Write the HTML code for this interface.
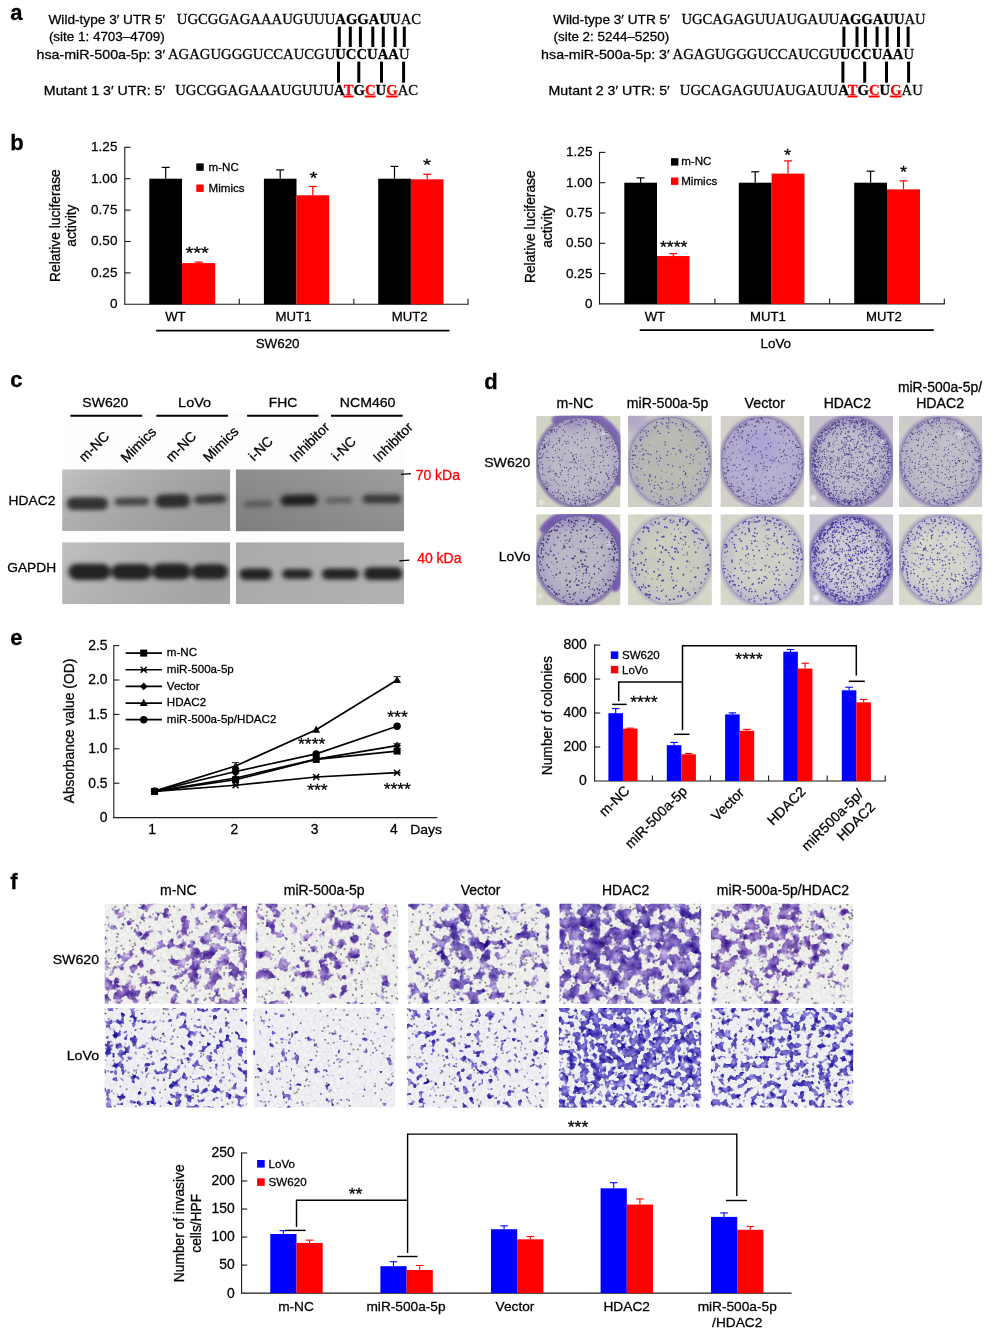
<!DOCTYPE html>
<html lang="en"><head><meta charset="utf-8"><title>Figure</title>
<style>
html,body{margin:0;padding:0;background:#fff}
svg{display:block;font-family:'Liberation Sans',Arial,Helvetica,sans-serif;fill:#000}
text{stroke-width:.28px}
text{white-space:pre}
</style></head><body>
<svg width="995" height="1338" viewBox="0 0 995 1338">
<defs>
<filter id="bb" x="-20%" y="-60%" width="140%" height="220%"><feGaussianBlur stdDeviation="2.5 2"/></filter>
<filter id="gr" x="0" y="0" width="100%" height="100%"><feTurbulence type="fractalNoise" baseFrequency="0.35" numOctaves="2" seed="3"/><feColorMatrix type="matrix" values="0 0 0 0 0.5  0 0 0 0 0.5  0 0 0 0 0.5  0.9 0 0 0 -0.33"/></filter>
<linearGradient id="gL1" x1="0" y1="0" x2="1" y2="0.5"><stop offset="0" stop-color="#c2c2c2"/><stop offset="0.35" stop-color="#b0b0b0"/><stop offset="0.7" stop-color="#a3a3a3"/><stop offset="1" stop-color="#9b9b9b"/></linearGradient>
<linearGradient id="gR1" x1="0" y1="1" x2="1" y2="0"><stop offset="0" stop-color="#7e7e7e"/><stop offset="0.5" stop-color="#8e8e8e"/><stop offset="1" stop-color="#9e9e9e"/></linearGradient>
<linearGradient id="gL2" x1="0" y1="0" x2="1" y2="0.3"><stop offset="0" stop-color="#c0c0c0"/><stop offset="0.5" stop-color="#b0b0b0"/><stop offset="1" stop-color="#a5a5a5"/></linearGradient>
<linearGradient id="gR2" x1="0" y1="0" x2="1" y2="0"><stop offset="0" stop-color="#ababab"/><stop offset="1" stop-color="#b2b2b2"/></linearGradient>
<clipPath id="cL1"><rect x="62.1" y="469.3" width="168.1" height="61.6"/></clipPath>
<clipPath id="cR1"><rect x="235.8" y="469.3" width="168.3" height="62.1"/></clipPath>
<clipPath id="cL2"><rect x="62.1" y="542.2" width="168.1" height="61.8"/></clipPath>
<clipPath id="cR2"><rect x="235.8" y="542.2" width="168.3" height="61.8"/></clipPath>
<filter id="pb" x="-5%" y="-5%" width="110%" height="110%"><feGaussianBlur stdDeviation="0.55"/></filter>
<filter id="pb2" x="-15%" y="-15%" width="130%" height="130%"><feGaussianBlur stdDeviation="1.0"/></filter>
<filter id="gr2" x="0" y="0" width="100%" height="100%"><feTurbulence type="fractalNoise" baseFrequency="0.06" numOctaves="3" seed="8"/><feColorMatrix type="matrix" values="0 0 0 0 0.35  0 0 0 0 0.3  0 0 0 0 0.5  1.4 0 0 0 -0.45"/></filter>
<filter id="pb3" x="-30%" y="-30%" width="160%" height="160%"><feGaussianBlur stdDeviation="5"/></filter>
<clipPath id="p00"><rect x="536.2" y="415.8" width="84.3" height="91.2"/></clipPath>
<radialGradient id="gp00"><stop offset="0" stop-color="#bcbbc7"/><stop offset="0.62" stop-color="#bcbbc7"/><stop offset="1" stop-color="#b0a9c4"/></radialGradient>
<clipPath id="p01"><rect x="627.9" y="415.8" width="84" height="91.2"/></clipPath>
<radialGradient id="gp01"><stop offset="0" stop-color="#babbb2"/><stop offset="0.62" stop-color="#babbb2"/><stop offset="1" stop-color="#b4b3ba"/></radialGradient>
<clipPath id="p02"><rect x="720.4" y="415.8" width="83.9" height="91.2"/></clipPath>
<radialGradient id="gp02"><stop offset="0" stop-color="#b6b0d2"/><stop offset="0.62" stop-color="#b6b0d2"/><stop offset="1" stop-color="#b0a8cc"/></radialGradient>
<clipPath id="p03"><rect x="809.3" y="415.8" width="83.8" height="91.2"/></clipPath>
<radialGradient id="gp03"><stop offset="0" stop-color="#c0becc"/><stop offset="0.62" stop-color="#c0becc"/><stop offset="1" stop-color="#a8a0c5"/></radialGradient>
<clipPath id="p04"><rect x="899" y="415.8" width="83.3" height="91.2"/></clipPath>
<radialGradient id="gp04"><stop offset="0" stop-color="#c0c0c8"/><stop offset="0.62" stop-color="#c0c0c8"/><stop offset="1" stop-color="#b2adc6"/></radialGradient>
<clipPath id="p10"><rect x="536.2" y="514.3" width="84.3" height="90.9"/></clipPath>
<radialGradient id="gp10"><stop offset="0" stop-color="#babac6"/><stop offset="0.62" stop-color="#babac6"/><stop offset="1" stop-color="#aaa2c3"/></radialGradient>
<clipPath id="p11"><rect x="627.9" y="514.3" width="84" height="90.9"/></clipPath>
<radialGradient id="gp11"><stop offset="0" stop-color="#cccfbe"/><stop offset="0.62" stop-color="#cccfbe"/><stop offset="1" stop-color="#c2c2c6"/></radialGradient>
<clipPath id="p12"><rect x="720.4" y="514.3" width="83.9" height="90.9"/></clipPath>
<radialGradient id="gp12"><stop offset="0" stop-color="#d0d3c8"/><stop offset="0.62" stop-color="#d0d3c8"/><stop offset="1" stop-color="#c0bfcc"/></radialGradient>
<clipPath id="p13"><rect x="809.3" y="514.3" width="83.8" height="90.9"/></clipPath>
<radialGradient id="gp13"><stop offset="0" stop-color="#cfcfd4"/><stop offset="0.62" stop-color="#cfcfd4"/><stop offset="1" stop-color="#aea7cc"/></radialGradient>
<clipPath id="p14"><rect x="899" y="514.3" width="83.3" height="90.9"/></clipPath>
<radialGradient id="gp14"><stop offset="0" stop-color="#d6d8ce"/><stop offset="0.62" stop-color="#d6d8ce"/><stop offset="1" stop-color="#c4c2d0"/></radialGradient>
<filter id="c1a" x="0" y="0" width="100%" height="100%" color-interpolation-filters="sRGB"><feTurbulence type="fractalNoise" baseFrequency="0.1" numOctaves="3" seed="5" result="n"/><feGaussianBlur in="SourceGraphic" stdDeviation="4" result="d"/><feComposite in="n" in2="d" operator="arithmetic" k1="0" k2="1" k3="0.34" k4="-0.2" result="s"/><feComponentTransfer in="s" result="m"><feFuncA type="linear" slope="9" intercept="-4.45"/></feComponentTransfer><feColorMatrix in="n" type="matrix" values="0 0.85 0 0 0.09  0 0.95 0 0 -0.08  0 0.5 0 0 0.48  0 0 0 0 1" result="col"/><feComposite in="col" in2="m" operator="in"/></filter>
<filter id="c1b" x="0" y="0" width="100%" height="100%" color-interpolation-filters="sRGB"><feTurbulence type="fractalNoise" baseFrequency="0.1" numOctaves="3" seed="5" result="n"/><feGaussianBlur in="SourceGraphic" stdDeviation="4" result="d"/><feComposite in="n" in2="d" operator="arithmetic" k1="0" k2="1" k3="0.34" k4="-0.2" result="s"/><feComponentTransfer in="s" result="m"><feFuncA type="linear" slope="9" intercept="-4.45"/></feComponentTransfer><feColorMatrix in="n" type="matrix" values="0 0.85 0 0 0.03  0 0.9 0 0 -0.09  0 0.5 0 0 0.47  0 0 0 0 1" result="col"/><feComposite in="col" in2="m" operator="in"/></filter>
<filter id="c2" x="0" y="0" width="100%" height="100%" color-interpolation-filters="sRGB"><feTurbulence type="fractalNoise" baseFrequency="0.16" numOctaves="2" seed="9" result="n"/><feGaussianBlur in="SourceGraphic" stdDeviation="4" result="d"/><feComposite in="n" in2="d" operator="arithmetic" k1="0" k2="1" k3="0.31" k4="-0.225" result="s"/><feComponentTransfer in="s" result="m"><feFuncA type="linear" slope="11" intercept="-5.45"/></feComponentTransfer><feColorMatrix in="n" type="matrix" values="0 0.9 0 0 -0.08  0 0.9 0 0 -0.12  0 0.5 0 0 0.5  0 0 0 0 1" result="col"/><feComposite in="col" in2="m" operator="in"/></filter>
<filter id="mb" x="-5%" y="-5%" width="110%" height="110%"><feGaussianBlur stdDeviation="0.7"/></filter>
<filter id="gr3" x="0" y="0" width="100%" height="100%"><feTurbulence type="fractalNoise" baseFrequency="0.3" numOctaves="2" seed="4"/><feColorMatrix type="matrix" values="0 0 0 0 0.45  0 0 0 0 0.45  0 0 0 0 0.52  1.6 0 0 0 -0.55"/></filter>
<clipPath id="m00"><rect x="104.7" y="903.7" width="142.3" height="100.1"/></clipPath>
<clipPath id="m01"><rect x="255.8" y="903.7" width="142.3" height="100.1"/></clipPath>
<clipPath id="m02"><rect x="407.8" y="903.7" width="141.7" height="100.1"/></clipPath>
<clipPath id="m03"><rect x="559.5" y="903.7" width="141.7" height="100.1"/></clipPath>
<clipPath id="m04"><rect x="710.9" y="903.7" width="142.3" height="100.1"/></clipPath>
<clipPath id="m10"><rect x="104.7" y="1008" width="142.4" height="99.5"/></clipPath>
<clipPath id="m11"><rect x="253.4" y="1008" width="141.9" height="99.5"/></clipPath>
<clipPath id="m12"><rect x="406.9" y="1008" width="142" height="99.5"/></clipPath>
<clipPath id="m13"><rect x="558.9" y="1008" width="142.3" height="99.5"/></clipPath>
<clipPath id="m14"><rect x="710.9" y="1008" width="142.3" height="99.5"/></clipPath>
</defs>
<text x="10.3" y="20" font-size="22" font-weight="bold" stroke="#000">a</text>
<text x="10.3" y="149.5" font-size="22" font-weight="bold" stroke="#000">b</text>
<text x="10.3" y="387" font-size="22" font-weight="bold" stroke="#000">c</text>
<text x="484.3" y="388.5" font-size="22" font-weight="bold" stroke="#000">d</text>
<text x="10.3" y="645" font-size="22" font-weight="bold" stroke="#000">e</text>
<text x="10.3" y="889" font-size="22" font-weight="bold" stroke="#000">f</text>
<text x="106.8" y="24" font-size="13.6" text-anchor="middle" stroke="#000" textLength="116.63" lengthAdjust="spacingAndGlyphs">Wild-type 3′ UTR 5′</text>
<text x="106.75" y="40.8" font-size="13.6" text-anchor="middle" stroke="#000" textLength="115.73" lengthAdjust="spacingAndGlyphs">(site 1: 4703–4709)</text>
<text x="100.8" y="59" font-size="13.6" text-anchor="middle" stroke="#000" textLength="128.63" lengthAdjust="spacingAndGlyphs">hsa-miR-500a-5p: 3′</text>
<text x="104.5" y="94.8" font-size="13.6" text-anchor="middle" stroke="#000" textLength="121.23" lengthAdjust="spacingAndGlyphs">Mutant 1 3′ UTR: 5′</text>
<text x="176.8" y="24" font-size="15" stroke="#000" stroke-width=".15" font-family="'Liberation Serif','Times New Roman',serif" textLength="244.3" lengthAdjust="spacingAndGlyphs">UGCGGAGAAAUGUUU<tspan font-weight="bold">AGGAUU</tspan>AC</text>
<text x="168" y="59" font-size="15" stroke="#000" stroke-width=".15" font-family="'Liberation Serif','Times New Roman',serif" textLength="241.5" lengthAdjust="spacingAndGlyphs">AGAGUGGGUCCAUCGU<tspan font-weight="bold">UCCUAA</tspan>U</text>
<text x="175.2" y="94.8" font-size="15" stroke="#000" stroke-width=".15" font-family="'Liberation Serif','Times New Roman',serif" textLength="243" lengthAdjust="spacingAndGlyphs">UGCGGAGAAAUGUUU<tspan font-weight="bold">A<tspan fill="#ff0000" stroke="#ff0000" text-decoration="underline">T</tspan>G<tspan fill="#ff0000" stroke="#ff0000" text-decoration="underline">C</tspan>U<tspan fill="#ff0000" stroke="#ff0000" text-decoration="underline">G</tspan></tspan>AC</text>
<line x1="339.3" y1="26.6" x2="339.3" y2="47" stroke="#000" stroke-width="3"/>
<line x1="350.3" y1="26.6" x2="350.3" y2="47" stroke="#000" stroke-width="3"/>
<line x1="360.4" y1="26.6" x2="360.4" y2="47" stroke="#000" stroke-width="3"/>
<line x1="372.8" y1="26.6" x2="372.8" y2="47" stroke="#000" stroke-width="3"/>
<line x1="383.3" y1="26.6" x2="383.3" y2="47" stroke="#000" stroke-width="3"/>
<line x1="395.2" y1="26.6" x2="395.2" y2="47" stroke="#000" stroke-width="3"/>
<line x1="404.3" y1="26.6" x2="404.3" y2="47" stroke="#000" stroke-width="3"/>
<line x1="338.5" y1="61.6" x2="338.5" y2="82.7" stroke="#000" stroke-width="3"/>
<line x1="358.8" y1="61.6" x2="358.8" y2="82.7" stroke="#000" stroke-width="3"/>
<line x1="381.5" y1="61.6" x2="381.5" y2="82.7" stroke="#000" stroke-width="3"/>
<line x1="403.6" y1="61.6" x2="403.6" y2="82.7" stroke="#000" stroke-width="3"/>
<text x="611.4" y="24" font-size="13.6" text-anchor="middle" stroke="#000" textLength="116.63" lengthAdjust="spacingAndGlyphs">Wild-type 3′ UTR 5′</text>
<text x="611.35" y="40.8" font-size="13.6" text-anchor="middle" stroke="#000" textLength="115.73" lengthAdjust="spacingAndGlyphs">(site 2: 5244–5250)</text>
<text x="605.4" y="59" font-size="13.6" text-anchor="middle" stroke="#000" textLength="128.63" lengthAdjust="spacingAndGlyphs">hsa-miR-500a-5p: 3′</text>
<text x="609.1" y="94.8" font-size="13.6" text-anchor="middle" stroke="#000" textLength="121.23" lengthAdjust="spacingAndGlyphs">Mutant 2 3′ UTR: 5′</text>
<text x="681.4" y="24" font-size="15" stroke="#000" stroke-width=".15" font-family="'Liberation Serif','Times New Roman',serif" textLength="244.3" lengthAdjust="spacingAndGlyphs">UGCAGAGUUAUGAUU<tspan font-weight="bold">AGGAUU</tspan>AU</text>
<text x="672.6" y="59" font-size="15" stroke="#000" stroke-width=".15" font-family="'Liberation Serif','Times New Roman',serif" textLength="241.5" lengthAdjust="spacingAndGlyphs">AGAGUGGGUCCAUCGU<tspan font-weight="bold">UCCUAA</tspan>U</text>
<text x="679.8" y="94.8" font-size="15" stroke="#000" stroke-width=".15" font-family="'Liberation Serif','Times New Roman',serif" textLength="243" lengthAdjust="spacingAndGlyphs">UGCAGAGUUAUGAUU<tspan font-weight="bold">A<tspan fill="#ff0000" stroke="#ff0000" text-decoration="underline">T</tspan>G<tspan fill="#ff0000" stroke="#ff0000" text-decoration="underline">C</tspan>U<tspan fill="#ff0000" stroke="#ff0000" text-decoration="underline">G</tspan></tspan>AU</text>
<line x1="843.9" y1="26.6" x2="843.9" y2="47" stroke="#000" stroke-width="3"/>
<line x1="857" y1="26.6" x2="857" y2="47" stroke="#000" stroke-width="3"/>
<line x1="865.4" y1="26.6" x2="865.4" y2="47" stroke="#000" stroke-width="3"/>
<line x1="877.1" y1="26.6" x2="877.1" y2="47" stroke="#000" stroke-width="3"/>
<line x1="887.2" y1="26.6" x2="887.2" y2="47" stroke="#000" stroke-width="3"/>
<line x1="898.5" y1="26.6" x2="898.5" y2="47" stroke="#000" stroke-width="3"/>
<line x1="908.1" y1="26.6" x2="908.1" y2="47" stroke="#000" stroke-width="3"/>
<line x1="842.9" y1="61.6" x2="842.9" y2="82.7" stroke="#000" stroke-width="3"/>
<line x1="864.7" y1="61.6" x2="864.7" y2="82.7" stroke="#000" stroke-width="3"/>
<line x1="886.5" y1="61.6" x2="886.5" y2="82.7" stroke="#000" stroke-width="3"/>
<line x1="908.6" y1="61.6" x2="908.6" y2="82.7" stroke="#000" stroke-width="3"/>
<line x1="124.8" y1="146.8" x2="124.8" y2="304.8" stroke="#1a1a1a" stroke-width="1.1"/>
<line x1="124.3" y1="304.3" x2="468.5" y2="304.3" stroke="#1a1a1a" stroke-width="1.1"/>
<text x="117.4" y="308.2" font-size="13.5" text-anchor="end" stroke="#000">0</text>
<line x1="124.8" y1="272.9" x2="130.6" y2="272.9" stroke="#1a1a1a" stroke-width="1.1"/>
<text x="117.4" y="276.8" font-size="13.5" text-anchor="end" stroke="#000">0.25</text>
<line x1="124.8" y1="241.5" x2="130.6" y2="241.5" stroke="#1a1a1a" stroke-width="1.1"/>
<text x="117.4" y="245.4" font-size="13.5" text-anchor="end" stroke="#000">0.50</text>
<line x1="124.8" y1="210.1" x2="130.6" y2="210.1" stroke="#1a1a1a" stroke-width="1.1"/>
<text x="117.4" y="214" font-size="13.5" text-anchor="end" stroke="#000">0.75</text>
<line x1="124.8" y1="178.7" x2="130.6" y2="178.7" stroke="#1a1a1a" stroke-width="1.1"/>
<text x="117.4" y="182.6" font-size="13.5" text-anchor="end" stroke="#000">1.00</text>
<line x1="124.8" y1="147.3" x2="130.6" y2="147.3" stroke="#1a1a1a" stroke-width="1.1"/>
<text x="117.4" y="151.2" font-size="13.5" text-anchor="end" stroke="#000">1.25</text>
<line x1="239.3" y1="298.8" x2="239.3" y2="304.3" stroke="#1a1a1a" stroke-width="1.1"/>
<line x1="353.8" y1="298.8" x2="353.8" y2="304.3" stroke="#1a1a1a" stroke-width="1.1"/>
<line x1="468" y1="298.8" x2="468" y2="304.3" stroke="#1a1a1a" stroke-width="1.1"/>
<rect x="149.3" y="178.7" width="32.7" height="125.6" fill="#000"/>
<rect x="182" y="263.1" width="33.2" height="41.2" fill="#ff0000"/>
<rect x="263.9" y="178.7" width="32.6" height="125.6" fill="#000"/>
<rect x="296.5" y="195.28" width="32.7" height="109.02" fill="#ff0000"/>
<rect x="378.2" y="178.7" width="32.7" height="125.6" fill="#000"/>
<rect x="410.9" y="179.33" width="32.6" height="124.97" fill="#ff0000"/>
<line x1="165.7" y1="167.4" x2="165.7" y2="178.7" stroke="#000" stroke-width="1.2"/>
<line x1="161.7" y1="167.4" x2="169.7" y2="167.4" stroke="#000" stroke-width="1.2"/>
<line x1="198.6" y1="262.1" x2="198.6" y2="263.1" stroke="#ff0000" stroke-width="1.2"/>
<line x1="194.6" y1="262.1" x2="202.6" y2="262.1" stroke="#ff0000" stroke-width="1.2"/>
<line x1="280.2" y1="169.91" x2="280.2" y2="178.7" stroke="#000" stroke-width="1.2"/>
<line x1="276.2" y1="169.91" x2="284.2" y2="169.91" stroke="#000" stroke-width="1.2"/>
<line x1="312.8" y1="186.49" x2="312.8" y2="195.28" stroke="#ff0000" stroke-width="1.2"/>
<line x1="308.8" y1="186.49" x2="316.8" y2="186.49" stroke="#ff0000" stroke-width="1.2"/>
<line x1="394.5" y1="166.39" x2="394.5" y2="178.7" stroke="#000" stroke-width="1.2"/>
<line x1="390.5" y1="166.39" x2="398.5" y2="166.39" stroke="#000" stroke-width="1.2"/>
<line x1="427.2" y1="174.3" x2="427.2" y2="179.33" stroke="#ff0000" stroke-width="1.2"/>
<line x1="423.2" y1="174.3" x2="431.2" y2="174.3" stroke="#ff0000" stroke-width="1.2"/>
<rect x="196.3" y="163.4" width="7.4" height="7.4" fill="#000"/>
<text x="208.5" y="170.6" font-size="11.6" stroke="#000">m-NC</text>
<rect x="196.3" y="184.5" width="7.4" height="7.4" fill="#ff0000"/>
<text x="208.5" y="191.7" font-size="11.6" stroke="#000">Mimics</text>
<text x="197.2" y="258.6" font-size="16.5" text-anchor="middle" stroke="#000" textLength="23.4" lengthAdjust="spacingAndGlyphs">***</text>
<text x="313.4" y="183.5" font-size="16.5" text-anchor="middle" stroke="#000" textLength="8" lengthAdjust="spacingAndGlyphs">*</text>
<text x="427" y="170.8" font-size="16.5" text-anchor="middle" stroke="#000" textLength="8" lengthAdjust="spacingAndGlyphs">*</text>
<text x="175.4" y="321.3" font-size="13.2" text-anchor="middle" stroke="#000">WT</text>
<text x="293.5" y="321.3" font-size="13.2" text-anchor="middle" stroke="#000">MUT1</text>
<text x="409.6" y="321.3" font-size="13.2" text-anchor="middle" stroke="#000">MUT2</text>
<line x1="156.1" y1="330.7" x2="449.5" y2="330.7" stroke="#000" stroke-width="1.8"/>
<text x="277.6" y="348" font-size="13.4" text-anchor="middle" stroke="#000">SW620</text>
<text x="60" y="225.6" font-size="13.8" text-anchor="middle" stroke="#000" transform="rotate(-90 60 225.6)">Relative luciferase</text>
<text x="76.1" y="225.6" font-size="13.8" text-anchor="middle" stroke="#000" transform="rotate(-90 76.1 225.6)">activity</text>
<line x1="599.5" y1="151.9" x2="599.5" y2="304.4" stroke="#1a1a1a" stroke-width="1.1"/>
<line x1="599" y1="303.9" x2="944.8" y2="303.9" stroke="#1a1a1a" stroke-width="1.1"/>
<text x="592.4" y="307.8" font-size="13.5" text-anchor="end" stroke="#000">0</text>
<line x1="599.5" y1="273.6" x2="605.3" y2="273.6" stroke="#1a1a1a" stroke-width="1.1"/>
<text x="592.4" y="277.5" font-size="13.5" text-anchor="end" stroke="#000">0.25</text>
<line x1="599.5" y1="243.3" x2="605.3" y2="243.3" stroke="#1a1a1a" stroke-width="1.1"/>
<text x="592.4" y="247.2" font-size="13.5" text-anchor="end" stroke="#000">0.50</text>
<line x1="599.5" y1="213" x2="605.3" y2="213" stroke="#1a1a1a" stroke-width="1.1"/>
<text x="592.4" y="216.9" font-size="13.5" text-anchor="end" stroke="#000">0.75</text>
<line x1="599.5" y1="182.7" x2="605.3" y2="182.7" stroke="#1a1a1a" stroke-width="1.1"/>
<text x="592.4" y="186.6" font-size="13.5" text-anchor="end" stroke="#000">1.00</text>
<line x1="599.5" y1="152.4" x2="605.3" y2="152.4" stroke="#1a1a1a" stroke-width="1.1"/>
<text x="592.4" y="156.3" font-size="13.5" text-anchor="end" stroke="#000">1.25</text>
<line x1="714.9" y1="298.4" x2="714.9" y2="303.9" stroke="#1a1a1a" stroke-width="1.1"/>
<line x1="829.6" y1="298.4" x2="829.6" y2="303.9" stroke="#1a1a1a" stroke-width="1.1"/>
<line x1="944.3" y1="298.4" x2="944.3" y2="303.9" stroke="#1a1a1a" stroke-width="1.1"/>
<rect x="624.3" y="182.7" width="32.7" height="121.2" fill="#000"/>
<rect x="657" y="256.03" width="32.5" height="47.87" fill="#ff0000"/>
<rect x="738.8" y="182.7" width="32.8" height="121.2" fill="#000"/>
<rect x="771.6" y="173.61" width="32.9" height="130.29" fill="#ff0000"/>
<rect x="854.2" y="182.7" width="32.8" height="121.2" fill="#000"/>
<rect x="887" y="189.37" width="33" height="114.53" fill="#ff0000"/>
<line x1="640.6" y1="177.85" x2="640.6" y2="182.7" stroke="#000" stroke-width="1.2"/>
<line x1="636.6" y1="177.85" x2="644.6" y2="177.85" stroke="#000" stroke-width="1.2"/>
<line x1="673.2" y1="253.6" x2="673.2" y2="256.03" stroke="#ff0000" stroke-width="1.2"/>
<line x1="669.2" y1="253.6" x2="677.2" y2="253.6" stroke="#ff0000" stroke-width="1.2"/>
<line x1="755.2" y1="171.79" x2="755.2" y2="182.7" stroke="#000" stroke-width="1.2"/>
<line x1="751.2" y1="171.79" x2="759.2" y2="171.79" stroke="#000" stroke-width="1.2"/>
<line x1="788" y1="160.88" x2="788" y2="173.61" stroke="#ff0000" stroke-width="1.2"/>
<line x1="784" y1="160.88" x2="792" y2="160.88" stroke="#ff0000" stroke-width="1.2"/>
<line x1="870.6" y1="171.19" x2="870.6" y2="182.7" stroke="#000" stroke-width="1.2"/>
<line x1="866.6" y1="171.19" x2="874.6" y2="171.19" stroke="#000" stroke-width="1.2"/>
<line x1="903.5" y1="180.88" x2="903.5" y2="189.37" stroke="#ff0000" stroke-width="1.2"/>
<line x1="899.5" y1="180.88" x2="907.5" y2="180.88" stroke="#ff0000" stroke-width="1.2"/>
<rect x="671" y="158.2" width="7.4" height="7.4" fill="#000"/>
<text x="681.2" y="165.4" font-size="11.6" stroke="#000">m-NC</text>
<rect x="671" y="177.5" width="7.4" height="7.4" fill="#ff0000"/>
<text x="681.2" y="184.7" font-size="11.6" stroke="#000">Mimics</text>
<text x="673.7" y="253.1" font-size="16.5" text-anchor="middle" stroke="#000" textLength="27.3" lengthAdjust="spacingAndGlyphs">****</text>
<text x="787.6" y="160.7" font-size="16.5" text-anchor="middle" stroke="#000" textLength="7.05" lengthAdjust="spacingAndGlyphs">*</text>
<text x="903.5" y="178.2" font-size="16.5" text-anchor="middle" stroke="#000" textLength="7.05" lengthAdjust="spacingAndGlyphs">*</text>
<text x="654.9" y="320.9" font-size="13.2" text-anchor="middle" stroke="#000">WT</text>
<text x="768" y="320.9" font-size="13.2" text-anchor="middle" stroke="#000">MUT1</text>
<text x="883.9" y="320.9" font-size="13.2" text-anchor="middle" stroke="#000">MUT2</text>
<line x1="639.7" y1="330.2" x2="933.8" y2="330.2" stroke="#000" stroke-width="1.8"/>
<text x="775.8" y="347.8" font-size="13.4" text-anchor="middle" stroke="#000">LoVo</text>
<text x="535" y="226.7" font-size="13.8" text-anchor="middle" stroke="#000" transform="rotate(-90 535 226.7)">Relative luciferase</text>
<text x="552.1" y="226.7" font-size="13.8" text-anchor="middle" stroke="#000" transform="rotate(-90 552.1 226.7)">activity</text>
<rect x="62" y="412" width="343" height="196" fill="#fdfdfd"/>
<g clip-path="url(#cL1)"><rect x="62.1" y="469.3" width="168.1" height="61.6" fill="url(#gL1)"/>
<g filter="url(#bb)">
<rect x="66.7" y="497.2" width="41.4" height="12.9" rx="6.4" fill="#2c2c2c" opacity="0.95"/>
<rect x="114.4" y="497.4" width="34.9" height="8.4" rx="4.2" fill="#363636" opacity="0.85" transform="rotate(-1 131.8 501.6)"/>
<rect x="155.2" y="494.3" width="35.1" height="13.4" rx="6.7" fill="#282828" opacity="0.95" transform="rotate(-1 172.8 501)"/>
<rect x="194.1" y="494.7" width="32.5" height="9" rx="4.5" fill="#323232" opacity="0.9" transform="rotate(-2.5 210.3 499.2)"/>
</g>
<rect x="62.1" y="469.3" width="168.1" height="61.6" filter="url(#gr)" opacity="0.06"/>
</g>
<g clip-path="url(#cR1)"><rect x="235.8" y="469.3" width="168.3" height="62.1" fill="url(#gR1)"/>
<g filter="url(#bb)">
<rect x="244" y="500.6" width="28.1" height="6.7" rx="3.4" fill="#3c3c3c" opacity="0.6" transform="rotate(-2 258.1 504)"/>
<rect x="278.9" y="492.9" width="40.4" height="14.6" rx="7.3" fill="#444" opacity="0.3" transform="rotate(-1.5 299.1 500.2)"/>
<rect x="280.9" y="494.9" width="36.4" height="10.6" rx="5.3" fill="#1c1c1c" opacity="0.95" transform="rotate(-1.5 299.1 500.2)"/>
<rect x="325.4" y="497.3" width="27.1" height="6.2" rx="3.1" fill="#3c3c3c" opacity="0.55" transform="rotate(-1 338.9 500.4)"/>
<rect x="362.6" y="494.5" width="38.9" height="9" rx="4.5" fill="#2a2a2a" opacity="0.85"/>
</g>
<rect x="235.8" y="469.3" width="168.3" height="62.1" filter="url(#gr)" opacity="0.06"/>
</g>
<g clip-path="url(#cL2)"><rect x="62.1" y="542.2" width="168.1" height="61.8" fill="url(#gL2)"/>
<g filter="url(#bb)">
<rect x="69.4" y="566.8" width="157.7" height="10.1" rx="5" fill="#555" opacity="0.6"/>
<rect x="68.4" y="563.7" width="42" height="16.2" rx="8.1" fill="#202020" opacity="1"/>
<rect x="111.7" y="564" width="39.7" height="15.7" rx="7.8" fill="#222" opacity="1"/>
<rect x="152.2" y="563.4" width="38.1" height="16.2" rx="8.1" fill="#202020" opacity="1"/>
<rect x="191.6" y="564.2" width="36.4" height="15.1" rx="7.6" fill="#222" opacity="1"/>
</g>
<rect x="62.1" y="542.2" width="168.1" height="61.8" filter="url(#gr)" opacity="0.06"/>
</g>
<g clip-path="url(#cR2)"><rect x="235.8" y="542.2" width="168.3" height="61.8" fill="url(#gR2)"/>
<g filter="url(#bb)">
<rect x="239.4" y="568.4" width="32.7" height="11.5" rx="5.8" fill="#222" opacity="1"/>
<rect x="282.2" y="569.1" width="30.1" height="9.9" rx="4.9" fill="#282828" opacity="1"/>
<rect x="321.9" y="568.5" width="36.9" height="11" rx="5.5" fill="#242424" opacity="1"/>
<rect x="363.8" y="567.2" width="38.8" height="12.9" rx="6.4" fill="#202020" opacity="1"/>
</g>
<rect x="235.8" y="542.2" width="168.3" height="61.8" filter="url(#gr)" opacity="0.06"/>
</g>
<text x="105.4" y="407.3" font-size="13.6" text-anchor="middle" stroke="#000" textLength="46.03" lengthAdjust="spacingAndGlyphs">SW620</text>
<line x1="70.4" y1="415.7" x2="142.2" y2="415.7" stroke="#000" stroke-width="1.9"/>
<text x="194.6" y="407.3" font-size="13.6" text-anchor="middle" stroke="#000" textLength="33.03" lengthAdjust="spacingAndGlyphs">LoVo</text>
<line x1="156.3" y1="415.7" x2="227.9" y2="415.7" stroke="#000" stroke-width="1.9"/>
<text x="283.1" y="407.3" font-size="13.6" text-anchor="middle" stroke="#000" textLength="28.53" lengthAdjust="spacingAndGlyphs">FHC</text>
<line x1="247.1" y1="415.7" x2="318.4" y2="415.7" stroke="#000" stroke-width="1.9"/>
<text x="367.6" y="407.3" font-size="13.6" text-anchor="middle" stroke="#000" textLength="55.63" lengthAdjust="spacingAndGlyphs">NCM460</text>
<line x1="331" y1="415.7" x2="402.6" y2="415.7" stroke="#000" stroke-width="1.9"/>
<text x="84.5" y="462.8" font-size="13.9" stroke="#000" transform="rotate(-45 84.5 462.8)">m-NC</text>
<text x="126.5" y="463.3" font-size="13.9" stroke="#000" transform="rotate(-45 126.5 463.3)">Mimics</text>
<text x="171.5" y="462.8" font-size="13.9" stroke="#000" transform="rotate(-45 171.5 462.8)">m-NC</text>
<text x="208.8" y="462.8" font-size="13.9" stroke="#000" transform="rotate(-45 208.8 462.8)">Mimics</text>
<text x="254.3" y="461.8" font-size="13.9" stroke="#000" transform="rotate(-45 254.3 461.8)">i-NC</text>
<text x="295.5" y="463" font-size="13.9" stroke="#000" transform="rotate(-45 295.5 463)">Inhibitor</text>
<text x="337.3" y="461.8" font-size="13.9" stroke="#000" transform="rotate(-45 337.3 461.8)">i-NC</text>
<text x="378.8" y="463" font-size="13.9" stroke="#000" transform="rotate(-45 378.8 463)">Inhibitor</text>
<text x="31.95" y="504.7" font-size="13.4" text-anchor="middle" stroke="#000" textLength="46.91" lengthAdjust="spacingAndGlyphs">HDAC2</text>
<text x="31.65" y="571.8" font-size="13.4" text-anchor="middle" stroke="#000" textLength="48.91" lengthAdjust="spacingAndGlyphs">GAPDH</text>
<path d="M400.9 474.4L411 473.7" stroke="#000" stroke-width="1.3" fill="none"/>
<path d="M399.3 560.8L409.4 560.1" stroke="#000" stroke-width="1.3" fill="none"/>
<text x="437.85" y="479.6" font-size="13.8" text-anchor="middle" fill="#ff0000" stroke="#ff0000" textLength="44.36" lengthAdjust="spacingAndGlyphs">70 kDa</text>
<text x="439.35" y="563.4" font-size="13.8" text-anchor="middle" fill="#ff0000" stroke="#ff0000" textLength="44.36" lengthAdjust="spacingAndGlyphs">40 kDa</text>
<text x="575" y="408.3" font-size="13.9" text-anchor="middle" stroke="#000" textLength="36.87" lengthAdjust="spacingAndGlyphs">m-NC</text>
<text x="667.55" y="408.3" font-size="13.9" text-anchor="middle" stroke="#000" textLength="81.37" lengthAdjust="spacingAndGlyphs">miR-500a-5p</text>
<text x="764.75" y="408.2" font-size="13.9" text-anchor="middle" stroke="#000" textLength="40.37" lengthAdjust="spacingAndGlyphs">Vector</text>
<text x="847.3" y="408.2" font-size="13.9" text-anchor="middle" stroke="#000" textLength="47.27" lengthAdjust="spacingAndGlyphs">HDAC2</text>
<text x="940" y="392.1" font-size="13.9" text-anchor="middle" stroke="#000" textLength="84.07" lengthAdjust="spacingAndGlyphs">miR-500a-5p/</text>
<text x="940.1" y="408.2" font-size="13.9" text-anchor="middle" stroke="#000" textLength="47.87" lengthAdjust="spacingAndGlyphs">HDAC2</text>
<text x="507.3" y="467.4" font-size="13.7" text-anchor="middle" stroke="#000" textLength="46.24" lengthAdjust="spacingAndGlyphs">SW620</text>
<text x="514.55" y="561.3" font-size="13.7" text-anchor="middle" stroke="#000" textLength="31.74" lengthAdjust="spacingAndGlyphs">LoVo</text>
<g clip-path="url(#p00)"><rect x="536.2" y="415.8" width="84.3" height="91.2" fill="#d4d6c4"/>
<path d="M555.8 419.9L560.1 417.6L564.5 415.7L569.1 414.4L573.8 413.7L578.5 413.4L583.3 413.7L587.9 414.5L592.5 415.9L596.9 417.7L601.2 420L605.1 422.9L608.8 426.1L612.1 429.7L615.1 433.7L617.6 438L619.7 442.6L621.4 447.3L622.5 452.3L623.2 457.3L623.4 462.4L623.1 467.5L622.3 472.5L621 477.4L619.2 482.1" fill="none" stroke="#7a62b4" stroke-width="8" stroke-linecap="round" opacity="0.95" filter="url(#pb2)"/>
<ellipse cx="578.4" cy="461.7" rx="42.4" ry="45.7" fill="none" stroke="#6e5ca4" stroke-width="2.6" opacity="0.85" filter="url(#pb2)"/>
<ellipse cx="578.4" cy="461.7" rx="41" ry="44.3" fill="url(#gp00)"/>
<circle cx="574.1" cy="417.6" r="11" fill="#8b76bd" opacity="0.5" filter="url(#pb3)"/>
<ellipse cx="578.4" cy="461.7" rx="41" ry="44.3" fill="none" stroke="#4c3c84" stroke-width="1.1" stroke-opacity="0.5" filter="url(#pb)"/>
<g filter="url(#pb)" fill="none" stroke="#382d6c" stroke-linecap="round"><path d="M564.9 441.5h0M606 473.1h0M585.4 465.3h0M601.1 493h0M601.1 471.9h0M561.9 470.4h0M548.2 445.3h0M614.9 456.8h0M542.3 464.4h0M605.6 432.5h0M548.8 444.2h0M558.9 426.7h0M567.8 441.4h0M598.7 481.6h0M578.9 499.9h0M542.5 474.5h0M571.3 504.1h0M601.9 497.1h0M560.3 472.6h0M548.2 485.6h0M607.7 476h0M593.8 467.4h0M568.1 474.5h0M600.9 494.5h0M538.3 466.1h0M593.8 456.4h0M593.6 464.5h0M575.6 503.7h0M585.3 421.2h0M542.1 457.3h0M577.1 469h0M585.6 503.6h0M546.2 488.3h0M603.6 489.7h0M547.1 451.1h0M588 503.3h0M559.6 449.5h0M600.5 446.6h0M600.9 445h0M540.4 453.4h0M580.6 467.1h0M545.1 447.4h0M549 434.6h0M550.7 470.9h0M564.4 467.4h0M562.2 460h0M575.2 442.7h0M608.3 465.4h0M574.8 500.2h0M602.9 489.7h0M600.8 431h0M605.1 492.2h0M588.8 479.8h0M587.9 482.8h0M552.7 429.9h0M594.7 480.4h0M596.4 493.8h0M570.6 502.8h0M590.4 481.4h0M539.6 449h0M553.7 495.3h0M553.4 461.2h0M575.8 492.6h0M603.7 465.6h0M547.6 489.3h0M542.3 455.9h0M582.6 497.5h0M562.9 435.6h0M609.3 478.6h0M556.3 431.8h0M577.7 445h0M606.6 473.9h0M563.4 429.8h0M549.9 468.3h0M590 477.3h0M595.2 423.2h0M607.6 438.1h0M572 462.1h0M566 481.6h0M610.2 437.2h0M574.5 487.6h0M612.2 446.1h0M586 482.6h0M570.9 420.1h0M597.7 451.3h0M556.1 425.9h0M593.3 490h0M604.2 495.2h0M588.6 468.8h0M552.7 457.5h0M578.5 482h0M606.1 430.9h0M606.7 486.7h0M542.6 448.7h0M608.9 477.3h0M582 502.3h0M614.9 467.1h0M616.4 470.6h0M592.9 499.5h0M603.1 452.8h0M603.4 457.3h0M615.3 443.4h0M566.1 485.1h0M613.3 473.7h0M557.1 498.4h0M614.6 447.1h0M555.6 473.3h0M560.3 498.4h0M618.3 458.4h0M558 424.8h0M544.5 445.4h0M578.9 499.2h0M560.6 498.5h0M568.7 498.6h0M613.1 444.1h0M590.2 477.5h0M566.5 443.7h0M576.5 457.5h0M584.7 438.3h0M564.3 480.8h0M593.2 450.3h0M605.5 435.2h0M550.6 432.8h0M572.4 492h0M595.8 424.5h0M585.7 500.6h0M599.2 483.6h0M553.4 471h0M572.2 462.1h0M594.5 498.5h0M566.4 467.7h0M539 458.6h0M605.7 452.3h0M593.9 422.9h0M615.3 479.1h0M606.3 438.7h0M559.9 460.9h0M586.2 423.6h0M600.6 439.8h0M577.3 432.7h0M566.5 492.5h0M572.8 456.4h0M574.7 466.8h0M560.3 464.8h0M601.5 495.8h0M546.1 486.3h0M574.3 459.9h0M543.5 454.2h0M581.9 440.8h0M589.5 433.1h0M584 501.9h0M607.3 432.4h0M603.8 435.9h0M562.3 444.8h0M616.4 468.7h0M602.8 494.4h0M549.1 441.5h0M588.2 498.9h0M604.4 482.1h0M563.5 496.1h0M602.3 455.8h0M615 469.5h0M567.9 423.2h0M593.5 426.7h0M559.7 438.4h0M588 498.5h0M558 492.5h0M576.4 419.8h0M605.3 491.2h0M592 500h0M598.5 494.1h0M590.6 482.8h0M568.3 470.9h0M556.5 443.7h0M559.5 440.5h0M551.5 431h0M559.3 442.1h0M603.2 457.4h0M552.4 447.5h0M606 451.6h0M581 425.7h0M616 476.8h0M556.1 475.2h0M575.1 498h0M568.3 499.6h0M600.3 429.3h0M556.2 473.7h0M579.5 501.4h0M591 478.7h0M565.3 424.3h0M591.7 478.9h0M584.4 470h0M596.9 438.3h0M571.1 452.7h0M607 447.5h0M595.6 426.7h0M563.2 498.2h0M585 429.1h0M614.7 474.4h0M576.5 500.4h0M542.7 444.3h0M611.8 441.4h0M544.2 484.3h0M597.1 490.3h0M609.4 446.5h0M613.6 476.7h0M564.8 432h0M568.9 499h0M564.5 500.5h0M615.2 462.1h0M587.3 496.3h0M558.4 476.8h0M594 461.4h0M581.4 447.9h0M547.3 457.6h0M614 471h0M570.2 468.3h0M547.4 488.3h0M585.5 504.8h0M562.6 495.7h0M585.3 475.1h0M594.4 453.2h0M603.9 495h0M550.8 430.7h0M552.1 432.2h0M547.1 482.6h0M596.7 496.5h0M613.9 456.5h0M587.6 501.8h0M584.8 484h0M611.3 486.7h0M572.7 420.8h0M592.4 421.3h0M585.8 447.5h0M593.2 451.8h0M608.3 479.3h0M573.6 495.4h0M544 440.4h0M571.7 421.9h0M602.3 445.3h0M575.8 462.7h0M604.7 429.7h0M578.6 424.9h0M540.5 458.3h0M607.4 455.2h0M576.1 454.5h0M573.6 459h0M569.8 462.1h0M560.6 474.6h0M547.5 489.7h0M580.5 500.1h0M600.5 472.8h0M554.4 429.8h0M546.7 457.3h0M591.8 457.6h0M557.9 456.9h0M574.5 476.5h0M596.8 474h0M579.7 491.5h0M553.5 445.7h0M544.1 447.9h0M583.5 422.3h0M613.2 477.1h0M560.3 493.7h0M580.7 419.4h0M548.2 471.7h0M589.8 489.9h0M564.9 453.6h0M574.5 459.9h0M616.5 461.3h0M556 481.8h0M557.7 484.1h0M587.9 438.3h0M538.8 458.3h0M599.5 495.9h0M589.3 490.6h0M600.7 462.3h0M560.1 426.8h0M545.8 483.6h0M607.4 484.5h0M591.8 422.7h0M570.4 422.7h0M549 472h0M615.5 451.3h0M599.9 455.7h0M591.8 447.2h0M595 496.1h0M544.2 446.7h0M554.1 479.9h0M579.5 501.8h0M571.9 437.2h0M613 449.8h0M552.4 492.3h0M600.3 437.2h0M555.5 450.5h0M571.3 486.8h0M572.4 500h0M558.5 490.6h0M588.3 485.2h0M616.2 472.3h0M573 478.3h0M573.2 455.1h0M570.6 422.6h0M562.8 485.1h0M579.4 495.7h0M602.2 449.2h0" stroke-width="1.3" opacity="0.88"/><path d="M584.4 500h0M547 487.4h0M546.7 442.5h0M568.8 493.5h0M612.2 460.1h0M559 463.7h0M539.5 457.6h0M605.2 440.5h0M595.4 479.6h0M577.2 475.6h0M602.7 426.7h0M613.1 446h0M565.6 448.1h0M557.1 428.9h0M588.3 454.9h0M593.6 495.7h0M595 427.2h0M540.1 454.7h0M542.7 468.2h0M548.4 458h0M543.2 446.2h0M606.2 432.2h0M597.7 453.9h0M568.7 443h0M570.3 421.3h0M586 504.6h0M603.8 459.9h0M607.7 475.2h0M600 493.6h0M611.8 475.4h0M602.8 451h0M558.4 496h0M572.2 480.1h0M583.8 462.3h0M548.7 466.8h0M540.8 463h0M568.7 436.4h0M559.2 457.9h0M571.9 419h0M550.4 430.7h0M544 440.1h0M590 471.5h0M557.1 438.5h0M586.7 432.5h0M576.1 424.5h0M550.2 465.7h0M616.2 456h0M580.6 456.5h0M585.1 490h0M578.5 421.7h0M603 461.5h0M551.4 430.4h0M578.9 424.4h0M570.1 490.3h0M585.5 501.9h0M594 447.3h0M574.3 486.7h0M568.5 450.4h0M538.8 468.9h0M578.8 461.4h0M605.6 450.4h0M609.7 443.1h0M578.1 485.7h0M583.5 494.6h0M574.3 462.8h0M576.8 497.5h0M586.8 488.5h0M588 497.7h0M584.9 500.5h0M571.1 467.9h0M616.8 470.1h0M577.1 463.6h0M555.7 492.5h0M554.5 491.2h0M581 454.7h0M585.9 465.1h0M575.3 504.3h0M601.1 462.3h0M597.2 456h0M591 421.9h0M590 498.2h0M598 466.3h0M566.6 461.8h0M554.9 476.3h0M583.1 504.9h0M543 467.8h0M576 502.2h0M546 437.6h0M570.3 468.4h0M595 491.6h0M569.2 487.8h0M590.5 499.7h0M562.9 456.1h0M539.5 464.2h0M606.2 492.4h0M616.1 475.9h0M548.8 483.5h0M545.5 447.1h0M549.2 439h0M550.3 478.3h0M604.4 469h0M616.9 450.1h0M541.8 461.2h0M582.5 468.8h0M559.6 486.2h0M546.6 488.5h0M553.8 493.6h0M554.9 431.4h0M583.5 500.2h0M557.4 448.6h0M608.3 448.2h0M589.6 498.7h0M599.8 469h0M598.1 430.1h0M568.4 479.8h0M574.4 503.7h0M574.7 502.6h0M577.6 439.5h0M564.8 422.6h0M599.7 425.2h0M572.4 421.8h0M572.8 455.1h0M615 479.1h0M552 429.8h0M577.2 467.9h0M578.5 460.1h0M575.7 461.9h0M568.4 477.1h0M586.4 500.5h0M586.6 424h0M559.3 477.7h0M550.5 490.2h0M559.2 457.5h0M609.8 486.9h0M591.2 460.3h0M589.8 497h0M539.3 461.6h0M544.7 443.5h0M573.8 433.8h0M561.3 422.8h0M557.9 429.4h0M584.3 430.2h0M556.4 433.3h0M585.7 502.1h0M595.8 481.5h0M542.6 469.3h0M554.4 431h0M560.1 438.7h0M615.7 476.8h0M596 427.8h0M583.1 460.1h0M598.8 493.2h0M606.2 437.2h0M606.4 437.9h0M604.1 436.4h0M544.1 446.4h0M546 481.2h0M538.5 465.9h0M557.9 497.1h0M554.2 457.5h0M562 471.1h0M549.7 460.5h0M581.2 460.1h0M547.7 433.7h0M552 442h0M560.4 467h0M590.9 464.9h0M552.1 492.3h0M554.5 473.7h0M574.3 458.9h0M580.4 463.8h0M614.1 466h0M612.9 473.8h0M612.2 483.1h0M613.6 465.2h0M564.7 498.3h0M556.2 430.9h0M584.3 434.2h0M558.8 499h0M563.2 424h0M588.9 435.7h0M605 430h0M562.5 422.5h0M555.9 453.2h0M582.4 504.9h0M610.5 483h0M547.2 443.3h0M540.7 467.7h0M585.8 478.9h0M538.6 465.4h0M613.8 448.3h0M594.7 467.5h0M614 448.4h0M542 444.9h0M595.1 449h0M586.7 422.8h0M600.2 492h0M566.5 502h0M593.6 463h0M574 441.7h0M591.3 491.6h0M598.2 428.8h0M593.1 499.2h0M561.4 480.8h0M578.3 480.3h0M601.5 435h0M546 444.5h0M549 486.1h0M612.1 439.4h0M541.3 457.3h0M543.9 481.5h0M596.7 485.5h0M592.4 422.8h0M546.2 452.3h0M564.9 501.7h0M544.8 444.6h0M542.3 449.6h0M583.9 500h0M597.9 432.7h0M606.4 492.8h0M539.9 462.3h0M584.8 429.4h0M551.8 485.2h0M584.1 435.4h0M599.8 426.8h0M542.9 480.8h0M607.9 450.9h0M600.4 439.3h0M558.4 440.2h0M594.8 424.4h0M559 489.3h0M551 480.1h0M575.5 492.3h0M591.8 472.2h0M609 471.1h0M608.4 437.8h0M548 488.8h0M599.4 466.8h0M544.6 475.2h0M556.5 492.9h0M591.5 476.9h0M574.6 492.7h0M589.5 486.1h0M596.1 477.3h0M594.2 479h0M596.4 449.1h0M578.7 497.1h0M613.8 472.3h0M609.3 441.8h0M569 469.6h0M609.4 483h0M575.6 419.7h0M608.5 473.3h0M568 425.3h0" stroke-width="0.9" opacity="0.7"/></g>
<circle cx="603.6" cy="434" r="2.5" fill="#fff" opacity="0.5" filter="url(#pb2)"/>
<circle cx="541.3" cy="502.4" r="2.5" fill="#fff" opacity="0.6" filter="url(#pb2)"/>
<rect x="536.2" y="415.8" width="84.3" height="91.2" filter="url(#gr2)" opacity="0.16"/>
</g>
<g clip-path="url(#p01)"><rect x="627.9" y="415.8" width="84" height="91.2" fill="#d2d2c6"/>
<ellipse cx="669.9" cy="461.7" rx="42.3" ry="45.7" fill="none" stroke="#8e84b4" stroke-width="2.6" opacity="0.6" filter="url(#pb2)"/>
<ellipse cx="669.9" cy="461.7" rx="40.9" ry="44.3" fill="url(#gp01)"/>
<circle cx="634.6" cy="420.4" r="13" fill="#a597c8" opacity="0.7" filter="url(#pb3)"/>
<ellipse cx="669.9" cy="461.7" rx="40.9" ry="44.3" fill="none" stroke="#6a5c9c" stroke-width="1.1" stroke-opacity="0.5" filter="url(#pb)"/>
<g filter="url(#pb)" fill="none" stroke="#3f3390" stroke-linecap="round"><path d="M697.6 473.4h0M660.3 487.7h0M672.5 498.3h0M696.5 449.4h0M636.8 446.6h0M672.3 422.4h0M660.9 500.3h0M666.4 481.2h0M695.5 485.5h0M683.5 487.7h0M700.8 489h0M644.3 454h0M670.7 496.9h0M658.5 502.8h0M648.3 453.9h0M685.5 487.3h0M658.2 430.9h0M704.4 471.3h0M654.6 488.3h0M690.4 498.9h0M654.4 485.4h0M690.9 454.8h0M667 455.1h0M646 450.5h0M680.4 452.3h0M700.1 483.9h0M650.8 454.4h0M680.1 467.2h0M675.7 423.8h0M665 442.3h0M668.9 422.7h0M686 427.8h0M662.8 418.8h0M668.8 503.7h0M698.8 488.8h0M635.8 448.6h0M672.7 465.9h0M637.1 467.2h0M684.8 491h0M648.9 481h0M668.3 464.6h0M648.9 461.7h0M646.4 433h0M650.1 476.1h0M693.2 459.9h0M672.2 488h0M680.1 450.1h0M661.2 489.3h0M695.2 431.8h0M668.2 501.3h0M665.3 444.7h0M678.8 485.3h0M703.3 442.7h0M649.8 474.7h0M682.7 482.5h0M683.7 426.5h0M668.2 427.9h0M662.9 504.2h0M708.9 464.1h0M706.9 459.1h0M704.4 468.3h0M660.6 458.1h0M693 495.8h0M645.1 430.8h0M648.2 431.2h0M635.5 445.8h0M676.1 502.9h0M672.3 483.9h0M656.7 451.6h0M696.9 435.4h0M666.7 422.9h0M683.9 471.3h0M709.4 456.2h0M707.6 471.6h0M685.2 474.6h0M698.9 431.7h0M644.6 474.9h0M667.4 425.7h0M685.1 495.2h0M659.3 461.1h0M638.5 486.7h0M641.9 488.3h0M655.3 477.1h0M656.7 422.6h0M647 435.7h0M632.4 467.7h0M632.3 455.5h0M690.6 494.2h0M674.1 448.5h0M655 427.3h0M649.9 484.5h0M668 451.4h0M681.5 440.3h0M700.4 471h0M658.1 485.1h0M635.3 455.6h0M640.4 440.6h0M698.8 490.4h0M659.8 433.4h0M697.3 430.9h0M661.8 482.8h0M632.7 458.9h0M681 500.3h0M641.1 468.8h0M679.7 430.1h0M706.5 474.9h0M642.9 449.1h0M698.3 448.3h0M640.7 439.8h0M682 421.9h0M660.7 496.1h0M702 442h0M685.7 473.1h0M655 428.1h0M660 502.6h0M701.5 445.6h0M632.8 451.2h0M706.7 474.7h0M668.6 432.5h0M642.6 459.2h0M641.3 445.2h0M682.6 484.6h0M656.5 458.4h0M643 455.1h0M649.8 476.7h0M679.8 450.5h0M705.5 447.3h0M656.5 425.7h0M666.8 499.3h0M683.4 425.1h0M705.9 446.4h0M651.4 491.5h0M662.7 423.9h0M668.8 419.7h0M705.6 452h0M681.6 499h0M637 485.5h0M634.1 464.4h0M640.3 436.9h0M696.9 479.7h0M686.6 456.8h0M700.1 436h0M707.7 458.8h0M633.7 454.9h0M683.6 423.8h0" stroke-width="1.55" opacity="0.88"/><path d="M690.1 457.4h0M638 470.3h0M703.7 483.1h0M643.1 431.6h0M689.6 499.6h0M684.7 498.3h0M705.4 471.9h0M702.1 438h0M688.9 429.6h0M662.5 499.6h0M658.5 464.8h0M709.1 451.3h0M653.7 426.5h0M651.9 490.9h0M661.7 470.9h0M639.5 459h0M661.6 422.2h0M701.2 487h0M694.3 454.9h0M689.4 463.7h0M696.3 432.1h0M640.1 451.5h0M690.5 490.2h0M680.5 431.8h0M684.5 496.6h0M695.8 433h0M672.2 473.5h0M691.5 492.1h0M699.2 452.9h0M670.9 453.7h0M706.8 445.5h0M630.9 459.3h0M666.2 472.2h0M702.4 442.7h0M659.9 455.7h0M649.6 445.1h0M666.6 426.8h0M681.3 430.2h0M637.9 485.1h0M638 462.9h0M690.2 463.6h0M643.1 436.5h0M642.1 450.9h0M655.6 501.4h0M705.3 468.8h0M653.8 496.6h0M659.4 498h0M680.3 478.6h0M670.3 421h0M648.6 463.8h0M693.6 432.2h0M686.7 477.1h0M656.4 462h0M693.2 456.5h0M699.9 463.9h0M638.9 451.1h0M642.5 437.8h0M679.8 445.5h0M656.9 493.8h0M630.3 459h0M642.3 430.1h0M633.1 455.1h0M668.1 482.2h0M686.9 496.5h0M682.7 435.5h0M642.3 489.3h0M648.4 479.6h0M636.6 466.6h0M677.5 487.4h0M637.8 479.9h0M639.1 483.5h0M642.6 487.6h0M708 454.2h0M633 468.4h0M643.3 459.6h0M706 471.9h0M700.3 482.1h0M657.2 432h0M693.2 462.7h0M676 454.4h0M660.9 423.1h0M635.4 478.2h0M672.6 448.2h0M668.7 489.8h0M701.2 474.3h0M673.9 501.3h0M682.8 482h0M680.9 424.6h0M651.5 480.4h0M702.4 443.3h0M681.7 451.5h0M641.1 439.4h0M702.3 478.1h0M672.8 448.6h0M691.3 426.3h0M693.1 478.5h0M663.3 488.1h0M671.1 474.3h0M670.8 500.1h0M640.5 432.4h0M670.7 489.5h0M661.2 478.7h0M632.2 462.4h0M682 501.3h0M668.6 418.4h0M636.8 477.1h0M708.3 453.3h0M686.3 450.1h0M677.1 425.8h0M639.3 439.2h0M655.7 481.8h0M652 430.7h0M683.4 465.6h0M647.3 453.3h0M695.9 448.1h0" stroke-width="1.1" opacity="0.7"/></g>
<rect x="627.9" y="415.8" width="84" height="91.2" filter="url(#gr2)" opacity="0.16"/>
</g>
<g clip-path="url(#p02)"><rect x="720.4" y="415.8" width="83.9" height="91.2" fill="#d6d4cc"/>
<ellipse cx="762.3" cy="461.7" rx="42.2" ry="45.7" fill="none" stroke="#8678b4" stroke-width="2.6" opacity="0.7" filter="url(#pb2)"/>
<ellipse cx="762.3" cy="461.7" rx="40.8" ry="44.3" fill="url(#gp02)"/>
<circle cx="758.2" cy="447.7" r="18" fill="#a49ed8" opacity="0.5" filter="url(#pb3)"/>
<ellipse cx="762.3" cy="461.7" rx="40.8" ry="44.3" fill="none" stroke="#5c4c92" stroke-width="1.1" stroke-opacity="0.5" filter="url(#pb)"/>
<g filter="url(#pb)" fill="none" stroke="#3a2e78" stroke-linecap="round"><path d="M739 436.7h0M790.4 457.1h0M728 447.6h0M762.3 419.4h0M748.8 454h0M756.5 497.9h0M739.8 496.6h0M759.7 422.8h0M755.7 485h0M745.8 469h0M779.8 449.5h0M768.9 422.4h0M742.3 438.5h0M763.9 501.3h0M767.3 427.4h0M778.8 443.1h0M786 443.4h0M742.3 474.9h0M729.6 442.8h0M770.7 500.3h0M746.6 443.6h0M779.2 427h0M752.1 479.1h0M770.5 430h0M756.3 465.1h0M731.4 486h0M799.1 458.2h0M743.9 492.5h0M771.7 497.3h0M759 503.3h0M778.6 460.8h0M791.3 485.1h0M778 426.7h0M749.1 461h0M758.2 421.3h0M798.1 464.8h0M738.1 430.2h0M772.4 460.8h0M784.4 496.1h0M726.5 458.7h0M796.3 474.7h0M724.3 472.9h0M733.1 476.9h0M738.5 496.2h0M794.2 487.3h0M793.8 479.1h0M729.1 457.1h0M766.5 455.5h0M797.6 447.3h0M751.8 496.5h0M762.4 499.6h0M775.7 433.4h0M752.9 447.5h0M771.6 503.4h0M762.7 504.1h0M764 468.7h0M752 493.5h0M755.6 470.3h0M791.5 484.7h0M780.6 426.9h0M795.2 463.9h0M782.6 489.6h0M756 422.1h0M738.5 490.6h0M766.2 447.7h0M774.9 498.7h0M746.6 440.7h0M744.3 469.7h0M788.7 487.8h0M746.7 468.4h0M787.6 427.7h0M764.9 504h0M794.8 481.9h0M757.8 420h0M786.4 459.1h0M752.6 446.5h0M762 454.9h0M770.2 502.2h0M746.3 425.2h0M723.6 467.8h0M798.6 461.6h0M731.6 483.7h0M739.2 487.1h0M733.8 436.9h0M755.9 433.1h0M781.5 456.4h0M796.5 447.6h0M797.8 465.9h0M727.5 482.4h0M723.9 458.3h0M751.5 430.9h0M765.5 476.9h0M756 466.3h0M779.3 497.9h0M765.2 466.6h0M766 422.7h0M793.1 464.9h0M793.4 477.5h0M779.1 462.1h0M802.4 467h0M744 495.2h0M739.8 465h0M767.3 470.4h0M728 463.6h0M799.1 475h0M755.5 426.2h0M731.8 441.8h0M767 504.1h0M783.5 488.8h0M741.9 436.9h0M789.6 440.7h0M760.8 486h0M770.4 467.2h0M782.3 481.9h0M756.2 430.9h0M794.4 478.1h0M748.6 435.2h0M751.8 451h0M726.1 478h0M786.9 455.5h0M790.5 485.8h0M770.5 446.4h0M742.7 496.2h0M776.3 457.6h0M762.8 501.1h0M784.3 430.9h0M776.5 498.7h0M738.1 491.2h0M780.7 478.3h0M777.4 422.5h0M779.8 431.8h0M775 432.8h0M742.4 430.9h0M726.3 472.9h0M771.2 503.7h0M753 481h0M794.8 478.4h0M728.7 470.6h0M741.1 488.8h0M798.2 467.5h0M760.8 490.1h0M736.8 467.3h0M742.9 459.5h0M798.7 447.3h0M773.9 499.2h0M753.9 488.1h0M768.9 480.8h0M734 465.6h0M799.7 447.1h0M773.4 477h0M729.3 486.6h0M752.8 435.2h0M786.9 496.2h0M745.5 424.5h0M730.3 486.1h0M801.2 468.8h0M737.9 489.8h0M756.2 502.4h0M748.9 424.9h0M768.4 443.7h0M796.9 456.2h0M779.1 491.2h0M793.2 455.2h0M731.5 489h0M751.3 419.5h0M758.2 452.1h0M786.2 493.9h0M734.3 436.3h0M756.4 499.9h0M756.8 421.4h0M790.5 483.2h0M743 431.1h0M802.5 461.1h0M739 432.3h0M727.4 467h0M727.9 470.2h0M796.1 445.3h0M776.4 497.4h0M783.5 450.9h0M792.8 441.5h0M781.9 434.3h0M779 482.8h0M724.5 449.1h0M767.2 466.9h0M736.3 439.8h0M801.4 454.4h0M763.4 465.9h0M753.2 419.4h0M771.1 459.8h0M772.7 498.2h0M795.8 445.2h0M761.4 418.5h0M740.4 427.5h0M773.4 480.2h0M733.3 452.9h0M792.8 483.4h0M764.7 434.7h0M790.7 476h0M748.6 441.5h0M783 452.3h0M779.4 493.4h0M757.4 470.8h0M760.4 463.3h0M774.3 461.2h0M765.9 483.9h0M781 491.7h0M794.7 487.2h0M748.8 435h0M734.8 464.8h0M792.2 489.5h0M760.8 451.7h0M754.5 426.3h0M802.1 462.7h0M775.3 501.8h0M742.7 483.3h0M757.1 494.7h0M747.7 435.1h0M755.1 491.9h0M757.9 421.1h0M753 489.2h0M748.9 479.2h0M743.6 495.1h0M736.7 491.6h0M766.1 433.5h0M746.7 475.7h0M762.6 457.1h0M774.9 495h0M753.4 496.2h0M784.8 485.2h0M784.9 430.7h0M768.3 422.9h0M733.2 491.3h0M724.6 448.9h0M727.8 470.9h0M763.9 462.8h0M726.4 459.1h0M788.4 434.4h0M740.9 451.9h0M784.9 454.9h0M758.5 421.7h0M744.9 424.2h0M741.7 433h0M730.9 459.7h0M755.9 447.3h0M769 502.5h0M763.1 422h0M739.7 426.6h0M781.8 431h0M798.8 468.2h0M755 453.8h0" stroke-width="1.35" opacity="0.88"/><path d="M741.5 425.5h0M751.4 437.7h0M784.3 454.5h0M754.9 502.7h0M743.3 473h0M734 490.4h0M749.2 498.2h0M746.9 476.4h0M727.3 447h0M739.6 490.4h0M778.7 427.7h0M729.3 483.6h0M754.1 450.2h0M733.5 486.7h0M779.4 434.3h0M744.9 426.5h0M760.6 418.5h0M752.2 424.4h0M791.1 475.7h0M774.5 459.6h0M784 473.2h0M742.5 469.4h0M799.6 469.5h0M783.2 437h0M735.7 470.3h0M771.1 487.7h0M771.7 491.4h0M745.8 454.5h0M797.5 440.7h0M757.2 468.9h0M799.9 459.3h0M779.3 449.8h0M793.1 463.6h0M796.7 472.1h0M749.3 490.3h0M791.9 486.2h0M748.6 465.9h0M796.5 478.4h0M754.8 467.6h0M742.3 431.9h0M785.6 445.5h0M736 429.8h0M770.1 460.4h0M762.8 470.2h0M779.4 453h0M796.9 455.3h0M802.3 462.3h0M734.8 433.7h0M784 462.8h0M734.2 437.6h0M747.1 439.3h0M783.2 424.7h0M740.9 470.4h0M782.7 425.4h0M766.7 457.6h0M792.6 434.5h0M731.4 453.7h0M795.7 439.9h0M759.9 503.2h0M725.3 478.2h0M729.1 438.5h0M775.6 458.9h0M738.1 471.2h0M784.8 430.3h0M741.7 426.8h0M739.4 426.4h0M781.3 463.6h0M743 426.9h0M752.1 463.9h0M767.5 493.7h0M769.9 489.9h0M747 448.8h0M759.9 418.2h0M767.6 500.4h0M771.9 488.7h0M801.5 459.5h0M749.4 453.8h0M767.1 470.7h0M783 442.8h0M745.3 450.6h0M794.5 479.7h0M743 458.5h0M724.5 469.1h0M726.8 467.7h0M776.7 495h0M730 478h0M780.1 457h0M743.2 427.3h0M772.8 457.4h0M737.5 428.3h0M784.8 428h0M759.8 496.1h0M742.3 457.1h0M753.1 499.8h0M754 419.8h0M748 497.3h0M788.6 448.7h0M757 437.8h0M784.4 450h0M731.9 471.1h0M783.4 459h0M760.2 500.4h0M798.6 450.7h0M757.8 438.8h0M800.5 464.4h0M743.6 500.3h0M737.1 430.3h0M793 443.3h0M787.9 494.8h0M737.6 432.2h0M747.6 500.9h0M736.4 444.4h0M737.3 477.5h0M790.2 491.9h0M755.5 465.1h0M736.3 457.5h0M768.5 499.9h0M789.1 435.5h0M755.7 433.9h0M753.7 478.9h0M745 461.7h0M724.9 445.3h0M764.6 420.5h0M722.2 458.7h0M741.9 437.7h0M761.7 458.5h0M731.2 441.6h0M756.9 503.5h0M765.8 449.4h0M752.6 449.1h0M800.5 463.4h0M738.8 434.6h0M754.7 488.1h0M744.1 484.6h0M783.8 450.6h0M741.3 481.3h0M760.7 482.5h0M724.2 448h0M775.5 499.7h0M793.4 484h0M771.8 463.1h0M752.2 476.6h0M725.9 474.1h0M737.6 482.3h0M787.3 462.5h0M798 463.1h0M738.9 449.8h0M798.6 442.9h0M759.7 486.1h0M801.8 459.2h0M756.5 501.6h0M785.5 495.9h0M728 480h0M724.7 473.2h0M790 489.4h0M776.8 467.2h0M800 454.2h0M746 422.8h0M770.9 442.8h0M746.7 423.3h0M743.3 484.3h0M780.8 494.1h0M788 495.5h0M792.6 450.6h0M725.3 450.5h0M746.8 423.3h0M736.2 478.3h0M745.5 498.4h0M785.7 473.1h0M754.2 447.4h0M740.7 490.5h0M726.4 461h0M763.2 472.2h0M724.8 460.9h0M755.2 477h0M783.7 496.5h0M781 497.4h0M784.6 477.3h0M795.5 445.9h0M733 444.7h0M783.9 496.3h0M737.4 486.9h0M760.9 463.8h0M796.1 438.1h0M799.1 453.9h0M766 430.1h0M762.6 500.3h0M766 500.8h0M740.9 435.2h0M743.4 424.2h0M785.6 426.5h0M751.9 488.3h0M759 480h0M784.5 429.4h0M732.4 486.1h0M731.2 441.4h0M751.9 483.7h0M747.7 480.1h0M792.3 469.6h0M760.1 500.6h0M755.9 489.5h0M790.3 488.2h0M748.5 489.7h0M749 438.1h0M765.3 490.7h0M775.2 488.2h0M732.7 465.1h0M791.1 447.9h0M798.8 465.6h0M724.4 453.1h0" stroke-width="1" opacity="0.7"/></g>
<rect x="720.4" y="415.8" width="83.9" height="91.2" filter="url(#gr2)" opacity="0.16"/>
</g>
<g clip-path="url(#p03)"><rect x="809.3" y="415.8" width="83.8" height="91.2" fill="#c8c4cc"/>
<ellipse cx="851.2" cy="461.7" rx="42.2" ry="45.7" fill="none" stroke="#7a6aac" stroke-width="2.6" opacity="0.85" filter="url(#pb2)"/>
<ellipse cx="851.2" cy="461.7" rx="40.8" ry="44.3" fill="url(#gp03)"/>
<ellipse cx="851.2" cy="461.7" rx="40.8" ry="44.3" fill="none" stroke="#5c4c92" stroke-width="1.1" stroke-opacity="0.5" filter="url(#pb)"/>
<g filter="url(#pb)" fill="none" stroke="#3c2f80" stroke-linecap="round"><path d="M846.8 419.2h0M877.3 453.7h0M838.9 424.5h0M869.4 455.8h0M860.5 500.6h0M822.6 482.5h0M865.3 424.6h0M830.2 464.2h0M823 474.4h0M876.6 453.3h0M838.5 460.9h0M873.2 494.2h0M821 466.9h0M865 437h0M888.9 475.1h0M861.2 468.2h0M831.7 466.9h0M857.1 499.9h0M837 499h0M814.8 477.2h0M867.6 498.4h0M876.3 491.1h0M820.8 474.4h0M883.8 446.7h0M865.8 495.3h0M871.7 483.2h0M817.1 477.6h0M879.4 486.9h0M830.2 458.9h0M817.5 447h0M857.6 457.6h0M882.7 444.1h0M826.2 488.6h0M867.3 486.1h0M855.1 473.4h0M850.8 502.2h0M849.4 421.8h0M817.1 462.4h0M828.4 446.9h0M872.4 482h0M838.7 449.5h0M832.3 429h0M840.6 433.9h0M818.1 480.1h0M871.1 427.1h0M836.8 499.4h0M832 424.1h0M854.9 478.4h0M848.6 448h0M872.7 429h0M871.9 463.4h0M867.2 441.1h0M850.5 501.1h0M813 460.6h0M864.1 428.1h0M827.4 480.7h0M815.2 444.3h0M882.2 486.9h0M866.8 448.1h0M883.2 479.7h0M817.6 439.7h0M869.2 463.2h0M817.8 441.6h0M833.1 443.1h0M821.6 463.3h0M819.1 437h0M853.4 418h0M819 443.3h0M832.3 498h0M891.2 465.5h0M860.6 422.2h0M824.5 488.5h0M824.6 439.1h0M888.6 449h0M856.9 470.9h0M856.4 504.1h0M845.3 501.4h0M842 442.7h0M881.1 484.8h0M865.3 426.6h0M860.8 451.9h0M833.6 428.1h0M865.2 446.2h0M836.7 486.3h0M847.4 476.7h0M835.4 495.1h0M814.1 466.6h0M867.4 475h0M837.5 500.9h0M887.9 452.6h0M878 431.6h0M851.8 422.4h0M825.5 489.5h0M824.3 429.4h0M829.1 494.3h0M814.3 450.7h0M831.1 462.6h0M861.8 503.3h0M814.8 452.2h0M838.6 502.3h0M856 493.7h0M853.5 484.6h0M843.1 421.9h0M830.7 429.4h0M874.9 480.4h0M888.2 458.3h0M815.1 450.2h0M870 461.8h0M838.4 496.3h0M851.5 422.9h0M838.8 460.4h0M849.2 466.2h0M869.3 428.9h0M859.8 500.2h0M861.6 485.6h0M840.8 492.9h0M836.8 490.4h0M839.6 422.6h0M845.9 499.6h0M859.2 451.3h0M885.4 444.8h0M868 454.7h0M819.7 436.6h0M863.4 423.6h0M816.4 450.7h0M889.8 450h0M861.7 435.2h0M886.5 471.8h0M873.5 487.8h0M817 482.4h0M839.6 426.5h0M847.4 502h0M879.9 459.5h0M849.2 466.9h0M874 448.2h0M860 499.3h0M858.3 420.6h0M877.5 491.7h0M827 451.1h0M849 448.8h0M833.1 483.4h0M842.2 504.1h0M872 490.9h0M821.4 432.6h0M855.7 498.7h0M868.8 477.7h0M833.8 490.5h0M857.9 475.2h0M848.5 500.6h0M864.8 500.6h0M884.8 442h0M834.7 422.4h0M866.9 446.7h0M818.1 455.6h0M844.1 445h0M885.1 478.7h0M833.6 498.3h0M858.1 474.3h0M816.7 479.4h0M830.8 429.9h0M881.7 486h0M835.2 423.7h0M872.1 459.5h0M863.4 493.2h0M851.9 476.2h0M864.6 435.6h0M854.8 447.9h0M844.5 477.3h0M862.6 474.4h0M829 455.8h0M880 432.7h0M824.4 492.1h0M865.5 424h0M828.4 490.6h0M882.8 481.9h0M865.7 421.9h0M886.3 443.9h0M851.9 457.3h0M816.8 466.7h0M860.3 434.1h0M829.6 469.7h0M815.4 475.8h0M876.5 488.7h0M858.1 503.8h0M830.5 457.7h0M824.2 441.1h0M843.5 425.2h0M877.7 469.1h0M868.1 498.2h0M886.9 463.2h0M838.6 499.3h0M869.3 423.6h0M888.4 444.7h0M887.7 450.7h0M817.3 447h0M879.9 431.3h0M833.5 450.9h0M845 471.2h0M845.3 502.4h0M872.5 426.7h0M874 431.3h0M882.1 465.6h0M870.6 459.1h0M859.8 469.2h0M836.4 498.3h0M846.2 445h0M825.7 468.1h0M833.2 498.1h0M869.2 459.7h0M890 462.1h0M858.8 463.1h0M871 434.4h0M822.5 432.4h0M851.3 499.8h0M888 471h0M857.7 423.6h0M839.2 421.4h0M824.9 431h0M888.8 466.8h0M819.7 481.2h0M861.4 420.5h0M869.2 437.2h0M874 459h0M851.3 423.1h0M874 459.9h0M877.7 461.2h0M854.8 425.4h0M880.7 434.4h0M847 472.9h0M822.1 433.6h0M848 500.6h0M841.7 459.1h0M878.5 486.8h0M883.5 466.1h0M848.9 464h0M851.3 463.9h0M839.6 486.8h0M888.9 462.4h0M828.3 485.7h0M884 437.5h0M831.2 493.2h0M841.7 442h0M858.4 435.9h0M861 502.8h0M861.2 476h0M884.1 483.6h0M881.7 467.3h0M831.8 457.7h0M816.6 481.4h0M853.7 418.1h0M863.7 420h0M881.8 448.7h0M827.6 466.6h0M829 464.1h0M841.6 476.5h0M870.7 485.3h0M829.4 493.6h0M861.1 425.7h0M841.3 473.4h0M866.4 430.9h0M818.2 441.4h0M829.6 432.2h0M855.1 447.5h0M861.6 421h0M866.1 423.8h0M849.3 502.8h0M815.6 466.5h0M872.7 437.4h0M824.1 486.5h0M876.9 494.8h0M880.9 486.6h0M877.2 434.3h0M859 466.1h0M843 419.6h0M864.4 466.6h0M877.7 428.8h0M865 445.1h0M821.6 435.7h0M855.3 428h0M843.4 449.6h0M855 448h0M845.9 437.6h0M844.6 490.6h0M831.1 497.6h0M877.6 483.4h0M884.9 441.1h0M834.2 485.9h0M820.2 461.6h0M888 473.1h0M864.7 422.6h0M879.2 431.8h0M836.2 490.5h0M875.3 433.4h0M882.2 438h0M845.5 437.6h0M846.6 439.4h0M842.5 447.2h0M856.2 422.4h0M841.5 432h0M824.5 451.8h0M871.1 433.8h0M838.1 478.5h0M813.7 464.3h0M849.6 493.6h0M811.8 457.8h0M832.8 500h0M831.3 429.9h0M842.9 419.1h0M832.5 425.3h0M884 476.2h0M823.9 473.4h0M812.4 454.9h0M875.4 450.3h0M828.9 428.5h0M851.9 439.4h0M825.4 458h0M877.6 493.2h0M835.5 427.4h0M815.9 478.9h0M837 433.8h0M820.5 477.6h0M856.6 475.1h0M878.6 442.3h0M836.6 437.9h0M862.7 457.3h0M826.7 459.5h0M844.1 443.3h0M822.2 475h0M848.8 478.2h0M877.9 433.1h0M866 432.7h0M836.4 492.9h0M862.8 434h0M856.8 443.9h0M829.1 474.8h0M829.3 495.7h0M867.3 463.6h0M869.2 428.7h0M836.2 425.4h0M819.5 436.7h0M813.5 473.7h0M844.2 463.4h0M878.4 434.7h0M814.6 451.6h0M828.2 494.5h0M869.3 440h0M827.1 462.8h0M856.3 480.8h0M887 472.2h0M829.3 445h0M875.8 478.3h0M849.1 472.4h0M836.2 477.9h0M885.1 451.1h0M851.7 422.7h0M863.4 469.5h0M814.6 444.5h0M854.3 479.4h0M872.2 429.2h0M840.6 429h0M872.9 490.3h0M827.6 433.8h0M817.6 467h0M816.5 459.3h0M859.6 493.9h0M819.5 457.6h0M869.6 428.8h0M818.3 462h0M867.3 471h0M885.2 444.7h0M835.2 424.3h0M838.2 425.6h0M836.6 464.2h0M835.5 500.8h0M818.8 480.6h0M871.2 431.6h0M833 424h0M829.6 442.8h0M859.7 482.9h0M837.8 503h0M871.2 463.8h0M866.8 486.5h0M867.8 479.1h0M865 429.8h0M845.9 454.2h0M855 497.1h0M844.6 502.2h0M845.8 475.6h0M873 449.6h0M859.1 438.6h0M826.7 490.3h0M859.1 479.2h0M838.8 470.1h0M814.4 449.2h0M872.4 458.9h0M853.2 500.8h0M862.5 491.7h0M887.2 454.5h0M856.4 446.3h0M861.9 424.7h0M849.8 452.9h0M844.8 499.2h0M845.7 423.2h0M855 426.8h0M845 465.8h0M872.6 427.8h0M821.4 489.4h0M828.7 426.6h0M851.9 420.3h0M818.4 436.7h0M831.7 425.1h0M883.6 439.2h0M826.2 434.5h0M854.3 450.1h0M860.6 500.4h0M830.7 427.8h0M837.8 459.3h0M848.1 454.9h0M816.6 452.2h0M849.6 503.2h0M824.4 449.3h0M842.4 422.6h0M862.4 493.8h0M876.3 434.9h0M881.9 480.9h0M822.5 479.3h0M848.6 476.8h0M814.4 475.1h0M865.5 432.8h0M823.1 478.5h0M822.4 469.9h0M875.7 491.9h0M852.5 472.3h0M879.2 463.8h0M880.3 460.5h0M811.9 463.9h0M857 501.3h0M871.9 439.7h0M868.8 461.3h0M884.5 444.4h0M862.5 444.3h0M865.1 420.7h0M871.3 482.7h0M874.7 489h0M850.1 504.8h0M830.6 498.1h0M850.4 441.1h0M849.9 477h0M827 473.6h0M842.4 423.1h0M851.8 457.9h0M845.5 501.8h0M843.2 492.2h0M822.5 456.7h0M884.8 440.2h0M849.1 436.3h0M814.7 455.1h0M842.9 500.6h0M883.4 456.9h0M885 468.1h0M851.8 491.3h0M819 465h0M833.7 433h0M872.9 429.2h0M865.9 430.3h0M832.4 482.8h0M882.7 473.9h0M879 493.4h0M888.5 468.4h0M830.8 471.8h0M825.4 435.9h0M824.5 494.2h0M875.6 427.5h0M811.8 453.1h0M849.1 464.6h0M887.6 443.7h0M833.2 424.6h0M815.6 467.7h0M857.3 422.2h0M830.1 492.6h0M815 461.8h0M879.4 461h0M889 458.4h0M818.8 481.1h0M864.8 440.8h0M827.4 429.5h0M814.1 461.9h0M843.3 478.4h0M863.7 437.2h0M850.9 501.8h0M865.2 482.7h0M871.9 497.3h0M818 440.6h0M831.9 476.5h0M815.5 467.2h0M815.6 465h0M857 496.2h0M816.7 472h0M823.2 485.5h0M814.4 464.9h0M812.3 463.4h0M852.8 449.7h0M834 500.6h0M814.9 460.5h0M862.9 430.9h0M833.5 495h0M882.7 467.9h0M835.1 466.7h0M851.1 466.5h0M843.4 467.8h0M873.5 456.3h0M880.4 435.9h0M874.4 426.6h0M850 502h0M867.6 453.2h0M815.7 478.7h0M874.2 453.3h0M851.7 455.1h0M839.3 458h0M843.4 451.3h0M812.4 465.4h0M851.1 418.5h0M846.3 454.3h0M846.6 453.9h0M837.9 420.7h0M869.7 496.5h0M865.6 446.9h0M826 474.5h0M841.5 501h0M867 470.7h0M830.1 445.9h0M845 463.4h0M821.2 438.5h0M858.1 441.5h0M824.2 492.6h0M881.2 437.7h0M865 489.4h0M844.8 455.2h0M836.6 426.1h0M890.5 452.4h0M833.9 496.7h0M828.4 484.5h0M862.3 457.1h0M856.9 500.6h0M876 471.3h0M849.6 504.1h0M828.7 493.1h0M850.9 440.5h0M842.6 457.3h0M834.7 482.1h0M882.5 439h0M886.3 476.8h0M852.2 420.8h0M828.4 431.9h0M864.1 495.2h0M817 484h0M844 423.3h0M849.2 461.2h0M818.4 442h0M845.1 487.8h0M848.6 475.7h0M883.3 477.9h0M848 453.6h0M815.4 454.3h0M815.1 470h0M835.3 424.9h0M876.6 445.1h0M853.8 426.7h0M818.3 461.6h0M870.3 446.1h0M858.2 449h0M872.5 479.2h0M834.6 498.9h0M839.9 503.2h0M862.5 420.7h0M820.7 436.3h0M829.4 493.4h0M845.3 447.3h0M844.6 437.7h0M845.9 428.4h0M845.4 433.5h0M880.1 434.9h0M852 477h0M836 422.7h0M818.5 459h0M814 478.7h0M820.5 483.1h0M886.9 441.9h0M850.8 454.7h0M848.5 503.6h0M851.3 450.6h0M869.9 442.1h0M838.8 422.6h0M844.1 476.6h0M849.1 450.7h0M850.9 417.9h0M821 443.4h0M815.7 446.8h0M856.8 422.7h0M852.6 502.8h0M883.8 478.4h0M835 431.3h0M852.1 487.3h0M849.5 445.2h0M843.4 428.6h0M873.5 451.1h0M856 504.8h0M837.3 457.2h0M824.8 438.6h0M858.6 489.4h0M820.2 447.7h0M852.8 439.3h0M855.9 500.4h0M817.4 477.1h0M873.4 464.8h0M816.4 482.4h0M818.1 440.3h0M872.9 483.5h0M856.3 421h0M886.8 447.8h0M847.9 440.9h0M875.6 492h0M885.2 451.2h0M888.2 473.7h0M831.6 452.1h0M839.2 501.3h0M828.9 489.1h0M880.7 440.1h0M884.5 439.9h0M814.7 475.1h0M881.5 462h0M877.1 484.1h0M832.6 452.1h0M888.2 462.5h0M823.3 450.3h0M824.5 454.3h0M835.5 467.1h0M891.2 462.8h0M835.6 428.5h0M854.9 498.4h0M845.2 493.5h0M875.4 457.5h0M834 487.1h0M847.2 481.4h0M819.6 450.8h0M856.8 498.9h0M882.9 481.9h0M875 471.2h0M819.6 476.8h0M879.9 446.8h0M820.6 465.4h0M883.9 461.4h0M814 447.4h0M836 469.9h0M833 451.8h0M851.5 500.9h0M880.7 472.9h0M848.9 502.3h0M883.2 482.3h0M879.5 435.4h0M841.9 469.6h0M847.9 502.7h0M814.1 459.8h0M874.7 445h0M856.8 478.3h0M818.2 457.1h0M824.7 456.7h0M849.4 426.8h0M812.5 460.4h0M876 471h0M832.5 433.8h0M863.2 423.1h0M857.3 488.3h0M877.7 483.8h0M823.8 483.8h0M841.2 448.5h0M828.9 443.7h0M823.6 488.9h0M857.7 442.9h0M847.1 437.1h0M871 480.9h0M837.1 434h0M824.2 483.3h0M848.4 432.3h0M848.2 504.9h0M837.3 425.4h0M815 470.8h0M848.5 482.3h0M848.9 454.4h0M890.4 456.4h0M862.7 422.1h0M833 427.8h0M844.4 453.4h0M885.2 474.9h0M858.1 480.2h0M813.4 448.5h0M872.5 457.8h0M822.8 440h0M838.6 496.1h0M853.5 460.1h0M875.1 488.6h0M854.1 430.7h0M863.8 424.7h0M834 472.8h0M826 427.9h0M887.4 456.4h0M813.3 457.7h0M888.9 456.6h0M853.6 431.3h0M871.7 497.3h0M829.2 498.1h0M839 449.4h0M868.6 497.7h0M822.1 461.5h0M871.9 474.8h0M862.7 462.5h0M856.5 446.1h0M815.6 466.3h0M848.3 431.5h0M832 498.8h0M818.6 462.8h0M825.3 430h0M821.3 489.8h0M877.9 492.7h0M879.1 436.2h0M846.8 466.3h0M815.7 444.4h0M884.7 455.5h0M872.8 428.5h0M875.9 456.6h0M883.6 442.4h0M862.6 494.2h0M839.5 497.9h0M854.8 421.8h0M820.1 442.6h0M835.7 427.7h0M832.1 424.4h0M860.6 464.9h0M885.8 458.4h0M820.8 436.1h0M865.8 499.7h0M844.2 500.9h0M837.3 501.5h0M826.2 430.3h0M863.4 497.5h0M857.8 429.2h0M865.6 502.5h0M884.3 447h0M845.8 427.7h0M876.3 494.8h0M870.6 462.4h0M859.9 429.2h0M813.7 453.5h0M866.2 475.3h0M861.5 440.9h0M820.7 440.7h0M854.1 472.3h0M877.2 429.1h0M868.4 487.4h0M857.1 499.5h0M830.5 461.4h0M856.3 447.8h0M814.7 465.7h0M816.2 449.3h0M877 491.9h0M815.6 456.5h0M825.3 465.6h0M825.1 433.3h0M866 491.1h0M850.4 501.8h0M866.3 477.5h0M813.1 464h0M855.9 420.3h0" stroke-width="1.35" opacity="0.88"/><path d="M848.3 478.9h0M813.7 477.8h0M822.3 434.9h0M836.4 465.4h0M879.5 466.9h0M813.6 460h0M868.6 427.6h0M873.2 485.7h0M834.1 423.3h0M888.8 471.7h0M857.3 494h0M818.6 444.3h0M873.7 472.3h0M819.5 450.3h0M843.7 438h0M890.2 471.6h0M831.1 426.8h0M852 491.3h0M825.8 491.5h0M823.5 430.8h0M828.6 431h0M872.7 486h0M816 450.4h0M827.2 427.6h0M817.5 476h0M819.3 437.3h0M846.8 448.7h0M869.3 473.4h0M819.6 482.8h0M890.9 459h0M862.1 501.6h0M884.6 481.5h0M819.7 485.8h0M878.6 451.9h0M871.2 424h0M888.2 459h0M842.7 424.6h0M857.4 425.6h0M831.1 426h0M816.8 470.9h0M834.7 444.9h0M843.7 475.6h0M861.9 419.7h0M846.6 464.8h0M833.7 476.5h0M828.8 442.4h0M856.1 452.9h0M844.9 502h0M884.3 440h0M812.4 472.5h0M813.2 467.4h0M834.8 487.5h0M853.7 443.7h0M845.7 462h0M815.7 449.7h0M878.7 490.4h0M863.5 433.6h0M854.9 423.2h0M832.3 500.3h0M835.5 423.4h0M870 436.9h0M812.7 453.3h0M817 445.1h0M819.1 477.5h0M866.1 436.1h0M835.1 441.5h0M830.1 466.4h0M874.3 426.2h0M859.2 435.1h0M838.1 460h0M854.4 444.7h0M847.1 453.9h0M848.9 431.4h0M880.9 456.3h0M818.1 474.7h0M855.3 501.3h0M853.7 421.7h0M860.3 498.7h0M887.9 471h0M815.2 476.3h0M819.1 453.9h0M849.6 448.3h0M851.2 422h0M879.8 451.5h0M883.3 442h0M882 485.5h0M814.3 462.1h0M835.5 470.4h0M858.3 476.7h0M887.3 453.3h0M859.4 419.9h0M832 474.8h0M869 438.1h0M889.3 465.8h0M873.1 493h0M889.7 449.2h0M823.1 459.4h0M826.5 449.1h0M846.4 421.1h0M817.1 448.4h0M831.5 493.6h0M829.7 427h0M833.8 481.4h0M869.1 446.2h0M844.9 441.4h0M854 491.4h0M821.5 440.2h0M863.6 426.9h0M851.3 495.2h0M822.9 473.9h0M885.8 448h0M850.1 502.7h0M836.5 474.1h0M830.9 478.5h0M838.9 481.1h0M878 436.1h0M886.6 473.1h0M871 497.9h0M865.1 493.7h0M847.2 431.9h0M833.1 447h0M859.8 449.1h0M826.7 480.1h0M862.1 456.4h0M860.1 421.7h0M862.5 470.3h0M850.6 437h0M831.6 476.5h0M825.9 479.1h0M874.1 491.3h0M815.8 455h0M838.3 501.3h0M878.4 434.5h0M882.7 436h0M832.4 494.9h0M887.6 460.2h0M858.8 466h0M882 456.5h0M865.4 460.3h0M871.3 435.3h0M869.3 478.4h0M819.7 481.5h0M879.2 482.4h0M813.2 472.6h0M869.1 487.1h0M828.6 477h0M873.2 477.4h0M856.4 446.9h0M888.9 463h0M880 484.9h0M850.4 423h0M832.5 444.5h0M840.3 434.1h0M837.9 424.9h0M829.6 428.5h0M850.5 437.6h0M824.3 473.6h0M874.7 458.2h0M853.7 457.5h0M889.2 458.3h0M819.2 484.3h0M856.6 502.9h0M866.2 483.7h0M826.3 430.1h0M886.8 461.8h0M861.8 501.5h0M813.3 461.4h0M841.1 451.6h0M822.2 490.8h0M841.8 449.3h0M877.7 477.6h0M813.2 451.5h0M854.8 494.4h0M817.4 479.8h0M817.9 443.1h0M845 503h0M832.3 463.4h0M865.8 488.1h0M862.8 454.9h0M869.6 437.8h0M831.6 460.1h0M868.5 484.6h0M866 434h0M844.6 500.2h0M854.8 464.4h0M874.8 479.8h0M864.2 436.2h0M888.8 460.6h0M860.7 472.6h0M886.3 464h0M853.9 503h0M817.1 477.8h0M867.9 501.1h0M827.9 443.6h0M856 492.4h0M850.6 492.5h0M884 478.8h0M829.2 488.7h0M838.2 444.7h0M823 468.7h0M819.8 466.9h0M885.6 469h0M870.8 497.4h0M874 493.2h0M882.3 476h0M836 437h0M885.1 482.3h0M859.2 452.4h0M813.1 466.3h0M813.2 458.8h0M875 461h0M822.7 437.7h0M852.9 420.5h0M827.6 493.6h0M881.6 448h0M827.1 461.4h0M845.4 499.3h0M887.2 479.7h0M822.4 477.6h0M814.7 468.6h0M867.6 469h0M853.3 424.3h0M866 442h0M823 487.6h0M836.1 461h0M818.6 471.6h0M863.5 478.7h0M862.5 430.9h0M856 427.2h0M888.5 447h0M857.4 460.7h0M879 478.8h0M823.3 466.9h0M822.6 491.4h0M880.4 468.4h0M838.8 450.2h0M883.7 464.6h0M867.9 470.9h0M837.9 425.4h0M830.1 498.7h0M816.5 452.1h0M818.5 484.1h0M870.9 479.8h0M860.1 452.6h0M812.1 467.1h0M833.9 460h0M825.3 464.7h0M813.4 449.6h0M841.2 491h0M883.5 439.3h0M846.3 443.8h0M849.8 421h0M865.6 489.4h0M860.6 447.5h0M888 452.8h0M854.7 427.7h0M878.9 433.5h0M872 462.9h0M879 442.5h0M837.9 502.4h0M816 470.1h0M815.2 442.3h0M861.7 444.9h0M817.7 459.4h0M820.4 474h0M862.2 423.9h0M853.4 463.6h0M865 500.9h0M871.3 473h0M850.3 446.1h0M856.9 468.6h0M820.8 490h0M867.3 500h0M828.1 446.2h0M828.4 491.6h0M863 425.6h0M882.4 441.7h0M837.3 422.8h0M812.2 457.7h0M832.8 459.1h0M817.2 459.8h0M820.7 459.7h0M859.2 421.7h0M879.4 461.3h0M877.8 433.7h0M848 436.1h0M884.1 467.1h0M848 501.3h0M881.6 455.7h0M853.7 432h0M883.2 471.3h0M868.9 430.8h0M837.1 440.4h0M841.6 487h0M840 470h0M845.8 451.4h0M846.2 442h0M868.7 482.5h0M842.7 471.2h0M859 466h0M814 460.2h0M871.8 426.6h0M858 424.1h0M864.7 492.4h0M868 422.8h0M878.2 432.5h0M886.9 451.1h0M860.6 491.6h0M822.7 431.3h0M843.5 424.4h0M878.3 453.3h0M871.4 478.7h0M812.7 469h0M819.6 457.7h0M836.9 434h0M856.9 469.2h0M888.6 451.1h0M885.4 442.3h0M850.2 420.1h0M850.8 420.9h0M853.6 421.8h0M820.3 487.2h0M856.5 462.4h0M887.3 479.9h0M866.6 435.5h0M883.2 442.8h0M814.5 455.7h0M842.4 457.3h0M881.3 457.6h0M821.2 458h0M840.7 502.3h0M847.7 479.3h0M815.8 482.6h0M862.1 451.1h0M863.5 452.3h0M888 462.4h0M857.9 501.2h0M841.4 488.2h0M852.5 418h0M812.5 467.6h0M877.8 440.5h0M821.2 452.2h0M889.3 461.1h0M878.7 489.1h0M827.8 468.6h0M868.8 500.6h0M828.3 451.3h0M836.2 479.2h0M828.2 429h0M814.8 475.3h0M840.4 476.4h0M849.5 424.2h0M864.8 439.4h0M822 451.7h0M819.2 484.6h0M889.2 464.2h0M838.3 459.1h0M839.6 474.7h0M885.4 473.3h0M845.5 470h0M825.1 482.9h0M841.7 440.1h0M868.5 446.7h0M861.7 427.3h0M851 499.3h0M838.8 464.3h0M863.9 431.3h0M848.9 420.5h0M848.6 432.1h0M889.1 474.3h0M843.1 502.3h0M886.9 447.4h0M847.8 435.2h0M888.2 460.6h0M827.7 474.4h0M887.6 467.6h0M862.1 427.5h0M884.9 448.8h0M881.6 435.2h0M826.7 484.4h0M814.7 452.6h0M885.2 481.7h0M868.9 494.3h0M891.1 456.8h0M863.5 471.2h0M827 433.3h0M834.1 455.8h0M860.1 445.6h0M855.6 452.9h0M873 428.2h0M871.3 486.3h0M884.5 474.8h0M849.4 436.5h0M818.7 470.4h0M838.7 449.6h0M872.7 494.8h0M850.3 425.2h0M887.9 450.4h0M863.6 482.8h0M840.6 472.9h0M879.8 436.4h0M843.5 425.7h0M826 479.2h0M830.4 451.4h0M845.4 445.4h0M855.1 490.5h0M812.7 452.7h0M879.9 479h0M819.4 444.3h0M832 469.2h0M823.1 486.7h0M834.5 488.6h0M830 497.5h0M868.6 424.1h0M866.7 431.8h0M834.3 423.3h0M883.4 451.6h0M813.8 470.5h0M851.2 468.1h0M832.7 435.5h0M872.4 466.1h0M838.3 435.2h0M824.3 481.5h0M867.1 501.2h0M818.6 484.5h0M858.8 466.3h0M829.1 426.3h0M877.7 473.4h0M875.8 493.9h0M829.8 481.6h0M843.5 500.1h0M864.9 450.3h0M852.9 476h0M815.6 451.9h0M830.7 473.7h0M816.2 466.5h0M887.9 453.3h0M827.7 472.9h0M823.2 440.9h0M853.8 427.1h0M866 482.7h0M886.2 441.5h0M823.5 490.5h0M858.2 499h0M885.5 443.2h0M878.9 464.7h0M826.1 478.6h0M862.4 424.5h0M882.6 444.3h0M880.9 438.5h0M817.1 481.2h0M849.5 494h0M875.2 481.9h0M851.7 494.3h0M841.9 489.7h0M838.3 452.4h0M869.1 425h0M824.9 465.2h0M845.9 460.2h0M844.3 446.6h0M832.3 477.5h0M821.7 451.2h0M851.8 460.2h0M840.6 467.5h0M856.1 422.4h0M853.6 441.7h0M880.2 437.7h0M843.6 504.6h0M873.6 446h0M887.1 444h0M830.3 475.3h0M813.8 456.9h0M822.4 436.7h0M830.3 498.3h0M822.7 452.2h0M870.7 480.3h0M826.7 474.2h0M850.8 505h0M842.9 465.7h0M849.1 459.6h0M860.9 452.9h0M819.7 461.1h0M849.5 462.8h0M827.7 477.5h0M856 457.4h0M875.8 429h0M838.9 494.7h0M874.8 473.3h0M819 468.4h0M852.8 478.2h0M891.4 460.1h0M828 492.4h0M811.8 460.6h0M838.9 478.5h0M865.1 446.5h0M815.2 464.7h0M815.3 466h0M851 457.1h0M815.2 478.6h0M864.2 424.6h0M857.7 421.6h0M861.9 469h0M847.8 486.8h0M854.8 422.8h0M812.3 471.4h0M840.7 492.5h0M882.8 448.9h0M875.1 469.2h0M849.6 420.4h0M851.3 497.2h0M828.1 494.2h0M860.1 433.4h0M820.7 484.7h0M815.3 451.9h0M829.6 458.1h0M891 463.9h0M844 504.1h0M880 480.9h0M879.6 456.2h0M816.3 446.5h0M882.9 451.2h0M869 426.7h0M876.8 475.2h0M852.3 500.4h0M841 491.4h0M831.1 468.6h0M841.3 455.9h0M840.6 482h0M864.5 461.7h0M855 439.6h0M875.9 467.9h0M819.2 440.8h0M851.2 448.7h0M866.9 489.7h0M816 445.4h0M853.2 472.5h0M846.8 500.9h0M827.3 488.2h0M870.1 494h0M862.6 424.2h0M818.6 479.2h0M827.1 457.3h0M838.9 463.1h0M832.9 461.7h0M882.9 436.1h0M848 420.4h0M814.5 471.2h0M862.8 443.6h0M863.9 477.9h0M876.6 490.7h0M863.5 474.3h0M864 431.4h0M859.3 456.5h0M887.7 448.5h0M847.9 500.4h0M834.2 441.1h0M883.6 438.5h0M862.5 476.5h0M816.4 482.3h0M838.5 420.8h0M884.6 440h0M862.5 500.1h0M880.7 477.2h0M860.8 502.9h0M883.2 457.6h0M843.3 420.6h0M855.9 490.3h0M871.2 478.7h0M874.9 431.7h0M830.3 495h0M829.4 495.7h0M870.8 458.5h0M819.7 484.7h0M817.8 480.5h0M840.2 420.8h0M859.6 445.9h0M873.7 434.6h0" stroke-width="1" opacity="0.7"/></g>
<circle cx="883" cy="441.3" r="2.5" fill="#fff" opacity="0.6" filter="url(#pb2)"/>
<circle cx="813.5" cy="497.9" r="3" fill="#fff" opacity="0.7" filter="url(#pb2)"/>
<rect x="809.3" y="415.8" width="83.8" height="91.2" filter="url(#gr2)" opacity="0.16"/>
</g>
<g clip-path="url(#p04)"><rect x="899" y="415.8" width="83.3" height="91.2" fill="#d2d0cc"/>
<ellipse cx="940.6" cy="461.7" rx="41.9" ry="45.7" fill="none" stroke="#8a7cb6" stroke-width="2.6" opacity="0.7" filter="url(#pb2)"/>
<ellipse cx="940.6" cy="461.7" rx="40.5" ry="44.3" fill="url(#gp04)"/>
<ellipse cx="940.6" cy="461.7" rx="40.5" ry="44.3" fill="none" stroke="#5f4f96" stroke-width="1.1" stroke-opacity="0.5" filter="url(#pb)"/>
<g filter="url(#pb)" fill="none" stroke="#3c307c" stroke-linecap="round"><path d="M920.4 456.8h0M965.1 490.7h0M923.5 482h0M965.2 445.6h0M911.8 439.1h0M962.6 430.9h0M949.1 479h0M915.6 468.7h0M962.7 470.2h0M914.5 466.4h0M937 465.4h0M941.5 461h0M979.2 460.9h0M951.9 477.1h0M923.6 472.1h0M920.8 472.3h0M946.4 469.6h0M923.5 445h0M948.9 499.2h0M932.2 496.8h0M955.7 447.5h0M946.9 503.3h0M956.3 497.5h0M944.7 501.6h0M967.4 431.3h0M931.2 434.6h0M980 458.1h0M960.3 432.9h0M936.6 495.6h0M932.3 422.5h0M938.4 503.4h0M918.7 485.2h0M919.5 461.5h0M910 436.9h0M959 449.6h0M956.1 427.7h0M938.6 465.5h0M962.6 429.2h0M963.9 469.5h0M973.2 486.8h0M974.1 477.6h0M979.2 458.6h0M950.4 476.3h0M956.6 436.8h0M918.1 453.3h0M958.3 458.1h0M952.7 499.8h0M958.7 460.5h0M949.3 423.9h0M931.3 473.8h0M907.9 442.5h0M965.4 462.6h0M904.8 476.9h0M915.3 463h0M955.3 462.9h0M956.3 485.8h0M966.6 471.7h0M921.6 446.6h0M956.9 463.4h0M905.7 480.6h0M964.3 428.4h0M975.1 447.7h0M970.1 435.8h0M919.2 434.2h0M978.7 466.2h0M917.3 432.6h0M912.7 433.7h0M955.9 465.4h0M942.5 431h0M933.7 443.4h0M928.8 476.7h0M918.9 467.8h0M921.7 424.9h0M938.6 421.3h0M949.6 466.7h0M937 501.8h0M965.2 443.1h0M921.2 482.5h0M949.2 487.1h0M919.4 495.3h0M962.1 482.6h0M902.9 470.4h0M925.8 494.5h0M963 496.5h0M929.1 493.2h0M969.9 455.5h0M971.4 486.4h0M927.5 459.2h0M943.9 499.8h0M901.7 462.3h0M925.2 457.2h0M955.8 470.7h0M908.3 456.6h0M924.3 422.7h0M979 471.6h0M907.1 451.1h0M911.7 469.9h0M942.3 466h0M963.2 429.8h0M944.3 485.2h0M918 425.6h0M905.4 475.2h0M963.3 463.5h0M927.2 463h0M932.8 454.5h0M911.2 432.8h0M931.4 425.3h0M910.4 436.7h0M918.4 470.3h0M973.1 464h0M949.5 427.8h0M959.6 461.5h0M944 485h0M916 494.4h0M904.2 478.8h0M962.9 439.2h0M916 494.1h0M934.8 481.8h0M904.4 461.2h0M970.9 484h0M941.1 435h0M957.3 497.3h0M931.8 422.5h0M931.1 478.4h0M918.7 427.7h0M926 450.6h0M963 493.1h0M930.9 425.5h0M962.1 474.8h0M934.7 418.9h0M909.1 468.5h0M973.2 479.7h0M919 464.4h0M961 482.4h0M900.8 462.1h0M928.7 447.1h0M952.4 488.4h0M902 450.3h0M958.7 428.6h0M968.8 430.9h0M957.4 493.8h0M928.4 421.6h0M937.1 475.5h0M971.8 442.6h0M919.9 426.3h0M933.8 419.9h0M972.7 478h0M927.4 421.7h0M946.1 503.5h0M939.1 418.8h0M911.7 451.6h0M947.4 419.6h0M914.9 466.3h0M977.5 460.4h0M941.7 433.3h0M915 454.9h0M973.8 482.2h0M928.2 434.4h0M936.7 488.9h0M939.8 426.1h0M939.7 499.9h0M920.8 454.8h0M952.4 460.6h0M958.9 435.5h0M945.3 474.4h0M916.2 439.7h0M948.9 469.4h0M940.5 423.2h0M963 495.4h0M955 460.6h0M967.5 461.5h0M906.9 450.7h0M965.2 460.5h0M912 450.7h0M925.6 473.1h0M939.2 420h0M949.6 490.7h0M963.3 450.8h0M917.1 429h0M964 492.3h0M921.7 432.2h0M934.9 481.5h0M971.4 441.7h0M910 484.7h0M923.7 438h0M959.6 460.8h0M972.3 470h0M955.5 479.5h0M961.7 424.4h0M972.5 452.3h0M979 462h0M918.9 463.9h0M953.5 503.1h0M948.5 449.5h0M970.3 471.6h0M934.2 422h0M912.5 433.9h0M963.9 494.8h0M928.1 423.6h0M936.6 423.8h0M956.5 489.7h0M931.2 469.7h0M947.2 500.5h0M940.1 482.8h0M953.8 444.3h0M901.9 469.2h0M955.1 475.8h0M952.3 444.4h0M917.7 427.2h0M920.8 471.9h0M953.4 466.7h0M908.2 481.7h0M922.2 424.8h0M974.8 459.7h0M908.2 456.6h0M939.6 435.2h0M921.7 477.3h0M948.6 452.8h0M947.2 487.5h0M952.9 472.1h0M938 472h0M932.5 439.7h0M904.7 475.7h0M962 429.9h0M941.9 491.9h0M948.5 431.6h0M907.5 442.8h0M936 458.8h0M961.9 491.9h0M938.3 476.6h0M967.1 492.5h0M936.8 418.4h0M904.4 467.9h0M929.9 423.6h0M920.9 466.8h0M906 477.9h0M916.5 490.4h0M942.3 500.1h0M926.2 457.5h0M948.9 479.1h0M926 464.5h0M962.1 454.1h0M945.7 454.4h0M942.1 472.4h0M936.3 437.5h0M950.1 419.8h0M925.6 429.3h0M912.5 434.3h0M908.8 471.1h0M929.8 467.6h0M902.9 451.3h0M970.9 435h0M958.1 500.8h0M937.2 449.7h0M937 432.2h0M947.5 504.9h0M958.4 423.6h0M901.1 463.1h0M979 456.5h0M965.7 430.8h0M932.6 446.3h0M967.6 436.9h0M943.5 498.2h0M937.2 482.8h0M933.7 439.8h0M936.7 420.5h0M979.4 471.6h0M934 493h0M950.1 487.6h0M964.6 437.5h0M927.9 435h0M910.2 460h0M928.2 501.4h0M914.6 468.6h0M977.8 451.5h0M918.7 431.2h0M905.8 458.6h0M969.3 453.9h0M964.4 443.8h0M940.1 437.7h0M966.7 490.5h0M922.4 459h0M958.2 485.1h0M962.7 496.3h0M932.4 422.2h0M935.5 454.8h0M910.3 485.9h0M966.8 480.4h0M918 478.3h0M932.3 428.2h0M950.3 498.6h0M965.6 481.4h0M969.6 487.9h0M944.5 450.2h0M947.8 460.5h0M976.2 462.3h0M909.1 483.3h0M937.9 468.8h0M976.1 447.5h0M923.8 467.5h0M946 501h0M902.6 472.1h0M975.8 460h0M933.9 499.6h0M947.4 422.9h0M935.5 436.5h0M913.2 488.5h0M956 497.8h0M941.8 503.7h0M974.5 448.1h0M978.9 449.4h0M905.4 442.9h0M947.7 504.1h0M929.6 469.8h0M969.2 435.6h0M933.2 426.2h0M924.9 487.4h0M933.6 472.1h0M929.5 502.9h0M961.9 476.7h0M908.3 476.3h0M961.6 471h0M946.2 467.1h0M972.6 482.9h0M944.4 503.9h0M935.3 490h0M980.3 455.7h0M965.8 485.2h0M944.5 502.6h0M950.8 477.2h0M933.6 496.1h0M901.3 464.9h0M952.7 502.5h0M965.1 489.7h0M962.8 448.2h0M906.2 453.8h0M924 500h0M961.7 492.5h0M925.6 498h0M962.6 485.6h0M965.4 430h0M912.4 462.2h0M910.4 473.2h0M953.8 433h0M975.1 450.6h0M917.4 445.4h0M942.2 484.1h0M918.3 440.5h0M934.9 501.5h0M934 501h0M915.4 494.2h0M926.6 466.2h0M928 465.5h0M934.3 499.9h0M935.8 437.7h0M919.9 492.4h0M972.9 443.4h0M946.8 477.3h0M906.5 480.3h0M938.8 503.2h0M959.9 497.3h0" stroke-width="1.3" opacity="0.88"/><path d="M926.1 423.1h0M921.3 482.3h0M925.3 474.5h0M939 500.5h0M931.4 421.9h0M929.8 500h0M908.8 482.7h0M976.5 447.9h0M966.8 472.9h0M965.5 491.2h0M961 484.7h0M975.9 481.6h0M928 482.2h0M978.6 449.5h0M955.5 483.4h0M957.5 492.1h0M936.3 442.4h0M942.1 482.4h0M949.7 462h0M947.4 455.5h0M912.1 462.3h0M962.1 428.3h0M907.4 480.3h0M968.7 434.1h0M904.2 466.2h0M950.9 421.9h0M949.6 433.5h0M942.7 464.4h0M971.5 480.1h0M931.5 443.4h0M937.2 443.1h0M920.8 430.3h0M971.8 469h0M930.7 446.4h0M958.2 442.1h0M940.6 505.3h0M930.7 478.5h0M960.1 451.2h0M972.1 480.4h0M954.3 497.5h0M921.9 425.2h0M951.7 499.8h0M953.7 486.4h0M904.4 446.4h0M956.8 497.6h0M958 461.4h0M961.4 444.9h0M944.4 484.8h0M905.7 462.2h0M960.4 426.5h0M901.9 465.2h0M905.2 451.1h0M917.7 445.8h0M929.5 492.4h0M937.9 456.4h0M918.3 439.5h0M910.4 490h0M921.4 494.5h0M958.5 458.3h0M909.5 486.6h0M937.7 427.6h0M930.8 460h0M924 488.7h0M944 488.9h0M941.4 431.5h0M964.7 438.9h0M911.3 448.5h0M921.8 446.5h0M906.9 451h0M954.2 500.3h0M954.6 429.3h0M961.8 426h0M930 425.3h0M974.7 444.6h0M952.6 456.3h0M979 460.6h0M909.5 466.8h0M927.7 420.2h0M917.8 445.3h0M950.8 451.8h0M921.2 472.5h0M923.4 442.6h0M923.4 457.9h0M966.5 447.7h0M904.7 473.5h0M973.4 476.8h0M964.7 433.4h0M953.7 423.3h0M944.9 478.4h0M933.6 479.8h0M913.8 487.2h0M980.5 465.8h0M956.1 439h0M974 440.2h0M946.3 421h0M968.2 452.6h0M945 423h0M920.9 449.6h0M954.5 502.8h0M932 456.4h0M950.3 464.9h0M938.7 430.5h0M949.9 471.5h0M940.9 502.7h0M976.7 460.1h0M976.6 461h0M960.5 441h0M911.7 432.9h0M932.2 422.8h0M944.6 456.9h0M973 465.5h0M926.7 441.9h0M973.8 474.8h0M938.4 417.9h0M967.9 450.7h0M946.6 447.5h0M965.5 449.2h0M911.4 476.5h0M937.5 492.4h0M956.9 421.9h0M931.8 493.8h0M944.5 447.7h0M965.4 433.6h0M978 472.6h0M919.3 458.1h0M932.3 499.6h0M950.2 463h0M949.7 487.7h0M948.7 472.8h0M935.1 448.1h0M913.8 488.2h0M955.5 463.3h0M954.7 456.2h0M926.5 431.9h0M925.2 472.2h0M936.6 502.6h0M956.1 462.7h0M925.7 479.3h0M955.7 497h0M914.5 479.3h0M919 438.6h0M952.5 434.9h0M904.1 470.7h0M956.8 482.3h0M936 422.9h0M921.2 433h0M912.4 451.1h0M928.4 438.3h0M912.3 486.1h0M918.6 444.8h0M909.2 486.2h0M955.6 481.9h0M938.5 478.8h0M949.7 445.3h0M905 464.5h0M975.5 473.5h0M948.6 419.2h0M973.8 458.1h0M935.2 441.9h0M921.4 474.3h0M978.8 468.5h0M904.9 476.9h0M951.8 495.6h0M911.8 439.7h0M944.3 423.6h0M946.4 440.6h0M934.3 485.4h0M974.1 468.7h0M975.2 452.3h0M971.9 468.3h0M973.6 469.5h0M955.6 443.8h0M938.1 447h0M926.1 491.1h0M957.7 494.1h0M955.2 429h0M948.4 440.5h0M977.9 456.3h0M923.1 464.9h0M943.4 456.4h0M933.7 439.7h0M962.8 463.7h0M963.3 481.5h0M923.9 501.3h0M948.1 484.2h0M956 458.6h0M952.8 425.6h0M915.3 432.5h0M920.2 498.2h0M913.9 434.4h0M962.7 466.7h0M971.6 481.9h0M936.5 481.6h0M978.5 461.6h0M969.4 480.8h0M931.4 494h0M950.3 502.7h0M956.8 427.9h0M910.1 457.7h0M970.9 489.6h0M940.4 489.7h0M919.7 494.2h0M934.9 421.4h0M910.7 484.4h0M928.7 472.1h0M921.8 490.7h0M938.5 496h0M975.3 472.7h0M952.6 502.4h0M937.7 504.1h0M921.4 499.5h0M968.2 488.8h0M961.8 460.2h0M941.6 428.4h0M901 467.2h0M964.1 470.3h0M934 464.9h0M934.8 441.5h0M977 444.9h0M960.9 474h0M929 459.9h0M979 461h0M967.7 476.5h0M955.4 477.7h0M942.9 434.6h0M910.6 490.1h0M967.2 444h0M944.8 434.6h0M932.4 470.2h0M967.1 430.4h0M947.8 495h0M979.4 466.1h0M946.1 500.1h0M947.2 503.8h0M925.1 498.4h0M937.9 419.3h0M929.8 445.4h0M912.9 472.1h0M967.4 492.2h0M953.1 495.4h0M901.5 458.3h0M910 462.4h0M914.7 488.2h0M964 473.9h0M929 433.2h0M944.6 455.7h0M949 491.1h0M941.3 478.3h0M925.5 467.1h0M961 427.9h0M951 422.8h0M929.1 500.7h0M919.7 430.9h0M953.3 427.5h0M914.4 458.5h0M928.2 422.8h0M928.4 423.2h0M960.3 495.1h0M973 472.6h0" stroke-width="0.9" opacity="0.7"/></g>
<circle cx="959.8" cy="434" r="3" fill="#fff" opacity="0.5" filter="url(#pb2)"/>
<rect x="899" y="415.8" width="83.3" height="91.2" filter="url(#gr2)" opacity="0.16"/>
</g>
<g clip-path="url(#p10)"><rect x="536.2" y="514.3" width="84.3" height="90.9" fill="#d4d5c4"/>
<path d="M543.8 529.1L547.8 524.7L552.2 520.8L557.1 517.6L562.3 515L567.8 513.2L573.4 512.2L579.2 511.9L584.9 512.4L590.5 513.7L595.9 515.7L601 518.4L605.8 521.9L610.1 525.9L613.9 530.5L617.1 535.5L619.7 541L621.6 546.7L622.9 552.7L623.4 558.8L623.2 564.9L622.2 571L620.6 576.8L618.2 582.4L615.3 587.7" fill="none" stroke="#7458b0" stroke-width="8" stroke-linecap="round" opacity="0.95" filter="url(#pb2)"/>
<ellipse cx="578.4" cy="560" rx="42.4" ry="45.6" fill="none" stroke="#6c58a4" stroke-width="2.6" opacity="0.85" filter="url(#pb2)"/>
<ellipse cx="578.4" cy="560" rx="41" ry="44.2" fill="url(#gp10)"/>
<circle cx="569.9" cy="516.1" r="11" fill="#8a74bc" opacity="0.5" filter="url(#pb3)"/>
<ellipse cx="578.4" cy="560" rx="41" ry="44.2" fill="none" stroke="#4c3c84" stroke-width="1.1" stroke-opacity="0.5" filter="url(#pb)"/>
<g filter="url(#pb)" fill="none" stroke="#30256c" stroke-linecap="round"><path d="M607.7 543.3h0M575.7 568.4h0M586.3 570.4h0M586.1 535.9h0M613.7 546.6h0M572.8 529.7h0M556.8 526.1h0M613.9 559.3h0M573 599.3h0M602.4 530.6h0M573.4 558.6h0M571.6 522.1h0M586.4 569.2h0M610.7 580h0M574 526.1h0M615 576.4h0M555.8 530.6h0M543.5 545.6h0M543.2 556.9h0M576.7 585.2h0M602.8 591.5h0M587.2 566.6h0M548.5 539.3h0M578.8 580.7h0M613.8 557.1h0M557.3 530.1h0M570 586.9h0M613 541.4h0M601.5 530.6h0M586.9 530h0M596.1 522.2h0M573.7 558.3h0M583.6 526.2h0M611.9 559.9h0M614.6 553h0M584.1 552.2h0M601.5 547.5h0M567.3 585.2h0M586.4 572.7h0M577.1 603.6h0M603 579.5h0M583.6 573.6h0M576.2 578.9h0M541.6 577.9h0M557.8 537.6h0M600.9 570.6h0M575.3 592.8h0M573.5 594.1h0M588.9 586.5h0M582.8 564.4h0M581 551.7h0M554.4 592.2h0M599.6 590h0M598.8 568.7h0M541.4 543.6h0M563.9 546.2h0M580.7 550h0M614 560.8h0M594.8 595.6h0M591.8 577.8h0M604.4 565.1h0M586.2 556.3h0M569.1 573.6h0M545.6 579.8h0M592.6 594.7h0M581.9 564h0M543.1 556.7h0M541.2 553.1h0M554 554.9h0M618.4 560h0M603.6 555.7h0M580.6 541.4h0M539.9 557.4h0M580.5 600.2h0M549.3 532.1h0M610.9 541h0M615 548.3h0M556.9 562h0M588.6 522.6h0M540.6 570.1h0M617 552.2h0M546.9 564.9h0M555.9 558.7h0M556.8 593.5h0M543.7 540.1h0M546.1 553h0M584.9 560.1h0M613.7 572.1h0M589.3 583.1h0M597.2 553.1h0M580.9 529.3h0M570.6 581h0M610 554.3h0M593.7 524.4h0M547.7 586.1h0M541.3 550.5h0M554.8 545.1h0M559.8 522.6h0M612.3 549.4h0M550.7 531.5h0M611.5 543.2h0M552.1 588.8h0M582.6 566.7h0M601.6 546.8h0M568.7 521.2h0M605.9 585h0M580.9 560.4h0M598.9 593.2h0M574.8 556.2h0M569.3 541.1h0M585 565.9h0M615.9 549.1h0M565.5 540.5h0M569.8 547.1h0M551.8 530.5h0M555.6 594.1h0M541.1 564.6h0M590.1 538h0M611.7 542h0M560.2 572.4h0M565.2 535.7h0M578.3 584.9h0M541.9 548.3h0M587.3 601.2h0M543.7 539.6h0M597.4 588.5h0M554.3 529.7h0M570 597.2h0M558.7 526.9h0M547.3 539.2h0M563.6 559h0M567.5 590.8h0M582.2 551.7h0M548.5 554.7h0M577 530.6h0M565.1 520h0M570.1 539h0M585.3 541h0M594.1 566.1h0M540.1 561.7h0M594.3 574.1h0M563.3 597.3h0M556.3 574.3h0M569.6 582h0M585.9 600.9h0M555.9 594.7h0M562.5 525.3h0M555.9 558.4h0M590.4 527.2h0M613.4 581.3h0M593.3 594.6h0M581.5 601.7h0M605.9 583.9h0M579.1 566.8h0M608.6 580.5h0M549.1 586.9h0M543 543.8h0M607.3 537.3h0M608.5 589.2h0M588.2 598.9h0M586.4 537.2h0M558.9 594.1h0M549.1 535.4h0M570.8 532.4h0M538.4 556.3h0M605.1 592.1h0M565.9 580.7h0M616.6 559.9h0M594.4 521.6h0M548.7 567.4h0M594.2 535.4h0M609.2 548.9h0M589.6 519.2h0M568.9 520.2h0M614.8 544.4h0M543.7 570.1h0M564.4 600.7h0M569.5 594.2h0M613.6 558.1h0M550.7 551.2h0M564.8 547.4h0M585.2 587.3h0M609.6 585.3h0M575.6 520.6h0M572.1 558.3h0M577.3 520.4h0M600.7 528.5h0M614.5 576.1h0M577.9 562.3h0M582 582.9h0M612.2 538.6h0M594.3 590h0M589.7 597.4h0M546.4 541.9h0M574.5 523.2h0" stroke-width="1.7" opacity="0.88"/><path d="M565.9 595.7h0M616.8 567.3h0M554.3 577.7h0M556.2 593.2h0M546.7 535.7h0M596.7 537.5h0M581.9 520.8h0M551.8 585.6h0M542.6 567.9h0M589.2 573.6h0M563.7 547.9h0M589.9 589.2h0M566.2 567.4h0M554.8 526.7h0M589.1 521h0M601.3 588.7h0M597.4 589.8h0M599.8 533.9h0M566.9 555.8h0M562.2 548.9h0M612.4 566.4h0M559.3 573.2h0M544.1 549.7h0M610.3 543.5h0M579.5 592h0M592.8 542.4h0M592.6 596.3h0M542.9 559.8h0M569.2 523.2h0M573.1 566.2h0M577.3 517.6h0M548.8 536.4h0M598.7 573h0M587.5 600.9h0M589.8 519.8h0M555.1 526.5h0M605.6 561.4h0M585.7 582.4h0M579.4 519h0M547.6 543.2h0M598.4 561.5h0M615.1 549.4h0M560 533.2h0M566.6 573.3h0M608.9 560.9h0M583.1 520.6h0M541.9 558.2h0M575.6 524.6h0M583.1 576h0M578.2 549.1h0M594.9 567.1h0M599.4 585h0M556.9 569h0M567 543.3h0M559.3 590.2h0M545.1 580.8h0M566.1 587.8h0M553.3 544.1h0M550.9 551.7h0M571.1 600.8h0M551.5 571.5h0M542.1 549.2h0M581.8 533.6h0M588.8 548.7h0M575.6 602.2h0M583.7 548.8h0M595.8 582.6h0M561.2 527h0M577.5 534h0M567 584.5h0M572.7 545.9h0M593.2 524.4h0M594.8 524.3h0M595 521.9h0M586.1 552.6h0M604.1 566.5h0M573 518.2h0M552.3 556.1h0M613.9 546.1h0M582.5 579.4h0M608.2 557.5h0M547.1 532.7h0M580.7 589.1h0M571.8 536h0M616.2 572.3h0M593.3 548h0M579.2 570.7h0M586.7 525h0M573 527.2h0M539.5 563.3h0M603.5 586.1h0M604.3 534.1h0M588.3 567.4h0M553.9 590.4h0M543.5 550h0M607.5 579.6h0M602.7 545h0M553.1 575.5h0M593.9 544.6h0M613.6 557.1h0M571.3 527.6h0M575.5 580.6h0M576.1 572.3h0M582.2 553.5h0M566.9 579.1h0M560.9 523.2h0M589.2 575.8h0M557.6 595.3h0M563.7 543.8h0M558.3 537h0M560.6 541.1h0M568.9 525.7h0M550.2 548.9h0M576.9 575.3h0M551.8 588.8h0M597.5 547.7h0M586.4 530.6h0M597.3 597.3h0M571.1 521.1h0M550.5 546.8h0M590.2 581.1h0M595.1 564.3h0M583.5 592.7h0M584.4 520.7h0M574.7 582.1h0M538.4 555h0M608.7 534.5h0M591.7 537.3h0M618.6 562.3h0M611.7 535.5h0M553.3 525.7h0M551.9 562h0M543.8 538.1h0M600 590.3h0M586.9 517.4h0M574 594.5h0M614.6 542.5h0M549.7 587.5h0M602.3 548.1h0M558.3 553.4h0M614.3 549.5h0M566.2 530h0M601.3 566.3h0M571.9 521.4h0M592.7 588.6h0M595.7 593.5h0M551.8 562.2h0M574.6 595.7h0M595.3 520.8h0M555.9 575.5h0M592.9 536.6h0M600.7 595.9h0M594.9 529.9h0M573.5 520h0M612.8 545.6h0M598 527.2h0M554 564.5h0M616 573.7h0M585.7 602.5h0M582.7 600.2h0M567.7 539.6h0M615.2 550.2h0M604.2 581.3h0M614.2 562.5h0M610.4 543.4h0" stroke-width="1.2" opacity="0.7"/></g>
<circle cx="608.7" cy="543.4" r="2.5" fill="#fff" opacity="0.5" filter="url(#pb2)"/>
<circle cx="540.4" cy="596.1" r="2.5" fill="#fff" opacity="0.6" filter="url(#pb2)"/>
<rect x="536.2" y="514.3" width="84.3" height="90.9" filter="url(#gr2)" opacity="0.16"/>
</g>
<g clip-path="url(#p11)"><rect x="627.9" y="514.3" width="84" height="90.9" fill="#d8d9c8"/>
<ellipse cx="669.9" cy="560" rx="42.3" ry="45.6" fill="none" stroke="#a29abc" stroke-width="2.6" opacity="0.5" filter="url(#pb2)"/>
<ellipse cx="669.9" cy="560" rx="40.9" ry="44.2" fill="url(#gp11)"/>
<ellipse cx="669.9" cy="560" rx="40.9" ry="44.2" fill="none" stroke="#8278ae" stroke-width="1.1" stroke-opacity="0.5" filter="url(#pb)"/>
<g filter="url(#pb)" fill="none" stroke="#3c2ea0" stroke-linecap="round"><path d="M641.2 563h0M685.4 536.7h0M676.4 548.5h0M634.9 581.8h0M659.8 545.6h0M701.3 582.8h0M648.3 528.5h0M654.1 571.8h0M643.2 531.7h0M680.1 519.7h0M663.7 536.5h0M707.8 545.3h0M682.9 518.8h0M659 575.3h0M645.7 548.2h0M662.7 547h0M673.8 587.4h0M670.7 569.8h0M648.5 585.8h0M639.4 574.6h0M695.2 593h0M662.4 536.9h0M666.3 596.1h0M642.1 553.2h0M670.4 520.2h0M660.2 575.1h0M687.9 593.1h0M633.1 562.9h0M677.5 524.7h0M674.5 539.8h0M672.3 558.1h0M671.2 567h0M639.5 539.9h0M649.1 594.9h0M707.9 564.8h0M644.1 565h0M673.9 599.2h0M658.2 561.6h0M635.4 567.8h0M645.4 587.5h0M706.6 547.4h0M641.9 587h0M696.8 533h0M664.9 527h0M645.8 559.6h0M683 588.3h0M687.1 523.9h0M644 528h0M695.3 593h0M679.9 521.2h0M708.1 568.8h0M655.3 522.4h0M661.5 591.1h0M642.3 569.6h0M640.5 589.6h0M646.9 527.4h0M657 540.1h0M633.9 553.5h0M680.7 538.4h0M685.8 525.2h0M639.1 587.4h0M692.7 530.8h0M638.3 538.8h0M649.3 586.1h0M706 547.9h0M678 596.2h0M644.5 526.9h0M705.9 574h0M655.3 548.4h0M665.5 550h0M649.2 597.4h0M630.3 559.5h0M659.8 559.4h0M662.2 580.8h0M657.6 532.4h0M633.7 555.8h0M708.7 570.4h0M665.9 518.1h0M687.4 523h0M635.5 569.8h0M694.5 542h0M683.3 574.8h0M678.1 552.2h0M656.6 597.9h0M681.2 596.2h0M650 594.8h0M663.3 580.4h0M694.8 532.8h0M675.3 536.4h0M666.9 527.6h0M689.4 595h0M697.8 567.9h0M648.7 531.2h0M703.1 540.1h0M675.3 551.7h0M661.3 552.3h0M710.1 554.9h0M695.7 552.2h0M673.7 587.8h0M647.5 594.6h0M669.8 599.8h0M688.2 521.6h0M682.5 590.1h0M646.4 595h0M668.7 552.6h0M637.9 564.3h0M659 599.2h0M663.3 562.1h0M646.1 571.5h0M672 573.6h0M695.2 577.2h0M672 547.1h0M701.5 539.6h0M658.6 523.9h0M673 580.5h0M687.1 561.3h0M677.9 568.3h0M645.7 593.6h0M674.8 548.6h0M675.9 585.6h0M648.5 528.2h0" stroke-width="1.9" opacity="0.88"/><path d="M685.9 542.5h0M683 539.9h0M645.2 577.1h0M648 573.8h0M671.7 577h0M673.5 559.2h0M662.8 565h0M651 524.5h0M657.4 590.8h0M684.1 536.7h0M694.1 589.2h0M699.5 539h0M657.2 579.2h0M647.2 528.4h0M699.6 587.8h0M642.2 570.5h0M690.9 570.9h0M657 587.2h0M643.6 585.7h0M694.7 545.1h0M657.9 576.8h0M633.1 544.5h0M694 531.5h0M680.6 596.3h0M648.9 591.4h0M636.8 575.3h0M638.1 543h0M663.3 589.8h0M632.3 569h0M640.5 551.5h0M648 568.1h0M706.6 564.9h0M687.3 554.2h0M704.6 579h0M674.2 559.6h0M669.9 555.9h0M658.2 569.3h0M666.6 550h0M695.6 528.5h0M698.8 529.8h0M664.8 519.6h0M687.1 552.3h0M677.3 550.1h0M667 602.6h0M659.3 522.5h0M680.3 532.5h0M671.3 534.1h0M693.3 530.8h0M672.4 522.7h0M676.8 580.9h0M660.8 585.6h0M658 518.6h0M685.6 590.4h0M632.2 575.5h0M697 528.7h0M651.2 523.4h0M633.3 551.4h0M686.4 567.1h0M679.2 591.7h0M694 567.6h0M674.4 529.2h0M645.3 561.7h0M674.2 521.6h0M698.4 547.9h0M662.8 548.5h0M685.5 544.2h0M636.5 554.3h0M682.7 522.2h0M690.7 581.4h0M652.2 578.7h0M636.6 573.1h0M688.9 546.5h0M678.4 528.9h0M689.1 561.6h0M683.4 544.7h0M643.5 584.2h0M653.3 525.2h0M705.5 566.1h0M655.3 521.9h0M670.5 522.5h0M696.1 576.9h0M673.4 521h0M682.2 549.2h0M663.8 519.3h0M678.5 543.2h0M700.4 543.3h0M683.7 555.3h0M687.1 554.5h0M698.3 538.3h0" stroke-width="1.4" opacity="0.7"/></g>
<rect x="627.9" y="514.3" width="84" height="90.9" filter="url(#gr2)" opacity="0.16"/>
</g>
<g clip-path="url(#p12)"><rect x="720.4" y="514.3" width="83.9" height="90.9" fill="#d8d9cc"/>
<ellipse cx="762.3" cy="560" rx="42.2" ry="45.6" fill="none" stroke="#9a90bc" stroke-width="2.6" opacity="0.55" filter="url(#pb2)"/>
<ellipse cx="762.3" cy="560" rx="40.8" ry="44.2" fill="url(#gp12)"/>
<ellipse cx="762.3" cy="560" rx="40.8" ry="44.2" fill="none" stroke="#7a6eaa" stroke-width="1.1" stroke-opacity="0.5" filter="url(#pb)"/>
<g filter="url(#pb)" fill="none" stroke="#3c2ea2" stroke-linecap="round"><path d="M795.9 579.6h0M743.1 523h0M761.3 569.9h0M753 583.8h0M770.7 598.2h0M733 581.2h0M775.1 584.6h0M739.6 539h0M755.8 521.8h0M744.4 587.9h0M729.9 581h0M766.1 598h0M748.8 528.4h0M742 570.6h0M774.6 523.3h0M724.2 572.4h0M772.9 518.6h0M791 569.3h0M767.3 549.2h0M798.2 548.9h0M774.1 590.1h0M774.5 533.4h0M796.9 562.4h0M730 576.2h0M749 591.3h0M749.7 589.1h0M758.9 582.7h0M794.2 549.5h0M749.1 599.3h0M789.5 531.2h0M748.7 577.9h0M746.6 546.3h0M755.2 540.7h0M725.3 568.5h0M786.4 590.5h0M792.8 544.6h0M740.7 567.8h0M738.1 590.6h0M776.3 567.3h0M764 597.6h0M740.9 559.8h0M791.9 575.2h0M770.8 590.8h0M778.8 579.9h0M755.1 528.7h0M759.6 520.8h0M748.9 522h0M754.5 601.2h0M754.2 598.1h0M779.3 525.2h0M735.1 568.4h0M777.7 542.4h0M785 585.1h0M772.9 590.9h0M738.8 585.6h0M765 519.8h0M725.1 547.5h0M797.5 550.6h0M740.8 595.8h0M738.4 578.3h0M753 570.3h0M784.1 593.4h0M771.2 599.4h0M793.2 558.9h0M759.2 550.6h0M761.7 582.8h0M777 540.1h0M764.2 580.6h0M751.7 543.3h0M770.7 521.4h0M729.5 582.5h0M729.6 582h0M796.9 571.1h0M753.8 522h0M748.8 524h0M779.6 584.5h0M800.9 549.8h0M798.3 541.3h0M769 529h0M787.2 547.8h0M773.9 574.1h0M776.7 591.7h0M726.4 545h0M736.3 551h0M736 535.1h0M749.3 531.4h0M801.1 559.7h0M765.8 603.6h0M756.2 522h0M757.2 533.5h0M780 599.3h0M791.9 586.8h0M755.5 591.5h0M783.9 554.5h0M797.4 568h0M775.1 553.7h0M726.8 546.6h0M745.4 534h0M761 599.8h0M745.8 555.7h0M769.4 520.5h0M754.8 536.5h0M772.5 556.5h0M748.3 554.2h0M752.9 550h0M781.5 536.9h0M769 545h0M751.8 591.6h0M746.2 589.5h0M765.1 517.8h0M796.6 557.2h0M761.9 558.2h0M757.4 517.2h0M767 529.7h0M749.2 529.9h0M780.3 528.9h0M725.2 544.6h0M734.2 575.5h0M792.5 584.6h0M727.4 551.5h0M757.5 595.9h0M766.6 523.7h0M731.9 560.2h0M776.9 520.1h0M775.9 527.5h0M786.4 574.1h0M724.9 552.3h0M732.2 581h0M765.5 565.7h0M753 535.8h0M732 531.6h0M765.3 576.5h0M744.9 521.5h0M799.2 554h0M733.5 584.8h0M779.6 524.3h0M781 524h0M745.9 571.2h0M779.2 562.3h0M726.5 544.4h0M794.3 534.3h0M742.1 532.7h0M765.8 593.2h0M741.8 582.2h0M790.3 588.7h0M734.3 544.7h0M723.6 565.5h0M774 535.7h0M801.5 552.1h0M741.5 541.2h0M778.3 597.3h0M795.6 580.8h0M732 561.9h0M774.7 592.9h0M759.3 578.4h0M768 538.7h0M793.8 552.4h0M798 558.4h0M766.8 578.1h0M794.7 539.9h0M757.9 521.4h0M782.6 543.6h0M789.1 534.4h0M778 520.2h0M747.4 548.4h0M752.3 584.4h0M723.4 568.9h0M745.8 521.6h0M802 559.1h0M754.6 532.8h0M727 577.4h0M777.2 570.3h0M734.7 547.7h0M754.9 569.9h0M754.2 555.8h0M797.7 551h0M776.1 578.9h0M785.7 526.7h0M731.8 538.1h0M778 555h0M790 558h0M769.1 566.9h0M776 595.1h0M735.1 584.8h0" stroke-width="1.7" opacity="0.88"/><path d="M798 546.2h0M790.8 533.9h0M758.3 582.6h0M751.6 599h0M731.8 586.4h0M776.6 523.8h0M766 546.1h0M781.5 537.7h0M754.7 563.9h0M762.1 581h0M735.2 585.7h0M782.4 525.3h0M768.7 530.3h0M774.4 595.8h0M732.5 542.4h0M754 541.4h0M758.1 579.6h0M778.4 595.8h0M763.7 598.7h0M778.2 595.3h0M751.6 540.8h0M783.9 565.2h0M748.8 523h0M740.7 594h0M755.8 570h0M732.4 538.4h0M769.6 592.9h0M792.6 583.8h0M774 525.5h0M764 576.9h0M755.5 596h0M774.6 522.9h0M765.2 570h0M792.3 548.1h0M786.4 531.3h0M767.2 520.4h0M768.1 520h0M781.6 548.6h0M734.3 584h0M742.5 549.2h0M784.3 544.7h0M801.4 566.6h0M751.2 599.5h0M740.7 592h0M744.1 527.5h0M768.9 521.4h0M786.2 587h0M746.1 549.8h0M737.9 591.9h0M778.3 574.5h0M764.1 525.5h0M727.5 546.8h0M794.1 539.6h0M774.2 541.1h0M741.9 593.1h0M749 600.8h0M778.7 594.6h0M751.9 518.2h0M739.3 563.3h0M781.5 554.7h0M739.6 528.7h0M796.5 546.3h0M734 532.3h0M745.4 596.5h0M780 597.8h0M765.7 516.7h0M775.7 571.1h0M727.9 570.4h0M798.2 567.4h0M776.2 541.3h0M738.3 525.3h0M723.7 561.6h0M742.5 547.7h0M767.3 554.9h0M791.4 586.5h0M767.2 543.6h0M791.6 531.3h0M778.7 569.8h0M782.6 536.1h0M734.3 535.1h0M791.2 585.2h0M765.4 537h0M738 529.6h0M740.4 540.4h0M749.8 521.3h0M728.3 574.4h0M741.6 589.1h0M752.4 567.8h0M753.7 559.6h0M737.5 526.6h0M785.3 527.7h0M763.9 541.6h0M751.4 521.9h0M730.9 572.1h0M754.3 519.9h0M770.7 538.6h0M756.1 546.5h0M757.1 546.6h0M783.6 542.4h0M793.7 584.6h0M759 598.3h0M794.9 545.4h0M745.2 586.9h0M757.6 517.2h0M784.7 553.2h0M782.6 570h0M726.1 556.8h0M779.5 575.2h0M767.4 521.1h0M766 535.5h0M748.9 571.6h0M747.6 558.1h0M794.9 553.4h0M781.8 582.1h0M761.8 583.7h0M800.3 548.4h0M772.3 571.6h0M762.5 517.7h0M745.4 563.2h0M751 588.3h0M730.7 577.6h0M729.3 541.3h0M794.1 581.9h0M777 537h0M773.6 589.1h0M787.2 553.3h0M743 522.4h0M797.9 566.7h0M769.4 572.3h0M744.1 573.8h0M779.8 595h0M755 589.8h0M729.3 539.8h0M748 562.7h0M748.7 565h0M757.2 541.3h0" stroke-width="1.2" opacity="0.7"/></g>
<rect x="720.4" y="514.3" width="83.9" height="90.9" filter="url(#gr2)" opacity="0.16"/>
</g>
<g clip-path="url(#p13)"><rect x="809.3" y="514.3" width="83.8" height="90.9" fill="#ccc8d2"/>
<ellipse cx="851.2" cy="560" rx="42.2" ry="45.6" fill="none" stroke="#7868b0" stroke-width="2.6" opacity="0.85" filter="url(#pb2)"/>
<ellipse cx="851.2" cy="560" rx="40.8" ry="44.2" fill="url(#gp13)"/>
<ellipse cx="851.2" cy="560" rx="40.8" ry="44.2" fill="none" stroke="#55459a" stroke-width="1.1" stroke-opacity="0.5" filter="url(#pb)"/>
<g filter="url(#pb)" fill="none" stroke="#3a2a98" stroke-linecap="round"><path d="M833 593.5h0M881 569.9h0M887 543.5h0M818.3 548.4h0M829.2 579h0M831.1 546.1h0M836.4 552h0M880.2 559.6h0M827.7 541.1h0M837.2 583.9h0M835.7 594.4h0M853.5 582.3h0M855.1 519.3h0M840.6 588.7h0M837.3 554.5h0M814.9 572.9h0M878.9 537.4h0M858.5 518.9h0M819.2 537.1h0M834.6 584h0M887.2 559.9h0M813.3 546.8h0M868.1 521.7h0M872.8 527.6h0M843.1 572.3h0M862.1 552.4h0M818.1 552.2h0M845.9 575.6h0M869.9 557.5h0M856.5 602.9h0M877.5 577.8h0M872.9 573.9h0M835.6 521.7h0M838.1 589.3h0M877.6 540.2h0M888.4 565.9h0M872.3 527.4h0M846.1 520.2h0M888.6 544.9h0M857.2 545.9h0M840 549h0M845.5 580.2h0M832.2 537h0M859 597.5h0M879.4 561.1h0M830 528.8h0M857.5 602.5h0M858.9 530.8h0M852.4 541.1h0M867.3 574.2h0M852.4 538.4h0M844.7 582.4h0M853.3 549.4h0M890.6 569.2h0M844.5 530.5h0M856 530.4h0M888.6 558.1h0M860.6 551.5h0M824.1 588.1h0M825.5 592.7h0M820.8 587.8h0M837 527.1h0M853 540.4h0M869.3 589.3h0M869.3 523.7h0M878.7 547h0M831.5 594.2h0M871.5 523.8h0M871 594.1h0M832.1 590.2h0M849.7 542.2h0M870.8 550.6h0M848.1 579.1h0M872.6 596.3h0M827.1 532.3h0M832.7 532.1h0M863.4 598.9h0M874.2 555h0M824.6 552.3h0M840.8 524.4h0M879.4 535.4h0M861.9 582.7h0M878.3 528h0M820 536.1h0M864.1 542.9h0M881.9 536.5h0M830.9 594.6h0M835.9 574.6h0M827.9 593.4h0M857.3 585.8h0M857.6 533.1h0M870.6 596.2h0M834.9 563.1h0M881.2 567.5h0M870.8 547.3h0M833.7 590.5h0M834.8 596.5h0M880.9 583.3h0M813.5 552.5h0M885.1 569h0M854.7 528.1h0M831.4 559.6h0M849.6 602.5h0M849.5 536.7h0M823.2 574.3h0M853.8 586.5h0M864.8 580.6h0M889.8 556.8h0M866.2 524.6h0M857.5 518.7h0M835.6 522h0M814.8 547.6h0M887.3 553.9h0M828.7 529.6h0M833 564.4h0M863.1 521.1h0M886.7 563.9h0M823.1 560.7h0M877.1 557.9h0M848 532.1h0M880.8 564.8h0M885.6 578.4h0M888.3 553.3h0M824.3 542.3h0M823.8 550.6h0M860.6 579.5h0M884.8 577.7h0M833.3 522.2h0M814.8 578.2h0M831.7 565.4h0M851.1 558h0M860.9 563.8h0M878.9 589h0M823.7 540.5h0M835.2 596.4h0M843.6 523.8h0M876 561.5h0M846 529h0M828.4 576.8h0M825 563.6h0M834.3 553h0M858 529.8h0M816.6 555.7h0M821.9 576.2h0M878.9 588.8h0M843.5 587.1h0M828.6 537.2h0M830.5 528.9h0M841.1 568.2h0M879.4 530.7h0M835.5 552.5h0M856 518.9h0M857.1 522.5h0M862.8 558.3h0M879.7 575.6h0M850.9 560.1h0M843.7 534.6h0M858.3 551.4h0M886.6 549.6h0M877.4 585.4h0M812.9 548h0M867.5 596h0M836.7 582.8h0M823.7 565.9h0M838.2 598.4h0M886.7 540.1h0M845.3 556.2h0M874.8 593.9h0M853.1 535.4h0M822.9 530.6h0M858.2 560.2h0M814.1 557h0M889.2 574.7h0M837 530.3h0M826.4 584h0M857.4 533.1h0M834.8 551.5h0M837 594.7h0M858.8 520.8h0M885 545h0M874.7 581.1h0M869.4 590.7h0M816.6 550.8h0M845.9 528.5h0M821.3 533.2h0M852 523.4h0M844.2 578.2h0M864 597.5h0M825.2 570.5h0M876 591.9h0M849.2 560.2h0M851.9 603.4h0M835.6 598.9h0M817.7 547.2h0M882.4 584.9h0M815.5 553.8h0M849.5 578h0M850 550.6h0M889.8 558.2h0M815.5 568.6h0M847.7 519.5h0M817.9 574.7h0M885.4 545.9h0M832.8 542.5h0M857.9 570.4h0M850.2 536.3h0M816 572.8h0M845.5 554.7h0M882.9 547.8h0M863.5 569h0M857.2 573h0M889.1 563.8h0M834.3 596.7h0M855.6 553.3h0M841.3 600.5h0M843.1 572.3h0M831 579.5h0M887.1 548.1h0M839.8 599.7h0M866.3 557.4h0M863.8 600.5h0M857.5 517.2h0M878.4 588.6h0M885.9 568.7h0M847.2 596.5h0M888.5 574.9h0M821.7 553h0M854.2 518.8h0M856.6 535.2h0M828.4 558.8h0M851.1 517.2h0M836.2 595.5h0M880 576.9h0M860.1 574.2h0M844 592.8h0M820.3 535.1h0M861.1 552.9h0M833.6 596.1h0M844.2 530.4h0M827.3 594.7h0M888 572.5h0M881 533.5h0M857.3 600h0M880.4 568.8h0M832.3 535.1h0M848.9 526.6h0M850 548h0M846 563.5h0M834.4 549.7h0M835.2 522.5h0M833.2 535h0M850.1 561.1h0M859.9 541h0M831.6 526.2h0M832.6 595.5h0M824.4 534.8h0M834.4 527.2h0M821.4 531.2h0M832.5 540.6h0M874.4 588.8h0M825.5 529.8h0M823.7 591.2h0M851 531.4h0M883 543.2h0M824.9 533.4h0M834 553.1h0M889 564.9h0M885.6 546.6h0M848.5 550.4h0M837.6 571.7h0M868.2 549.1h0M880.8 585.3h0M826 593.9h0M862.1 532.8h0M863.1 532.4h0M838.8 566.6h0M814.9 552.7h0M849.7 556.3h0M881.1 587.3h0M824.7 534.9h0M835 548.2h0M824.7 530h0M875.6 542.2h0M864.6 528.5h0M872.8 561.4h0M854.2 517.6h0M855.5 563.6h0M836.7 582.7h0M826.8 586.6h0M816.3 555.1h0M852.4 566.3h0M827 578.2h0M883.3 575.2h0M820.5 537.2h0M868.7 541h0M845.9 543.2h0M849.7 517.7h0M860.3 518.1h0M835.7 531.8h0M863.7 597h0M829.9 581.8h0M866.6 562.1h0M882.1 563.8h0M858.9 599.8h0M834 531h0M834.9 537h0M813.9 572.9h0M882.4 552.9h0M881.9 545.7h0M872.9 528.4h0M841.4 591h0M848.4 554.3h0M852.2 517.2h0M876 589.4h0M866 549.9h0M850.7 559.1h0M872.1 564.5h0M848 569.5h0M826.1 549h0M869.3 532.3h0M871.6 576.8h0M822.5 562.5h0M887.5 574.1h0M842.9 598.7h0M869.5 598h0M855.2 596.8h0M826.8 593.5h0M861.8 567.6h0M840.3 596.9h0M855.3 602.5h0M887.3 575.1h0M879.7 533.6h0M814.8 573.9h0M829.2 575.1h0M860.8 534.2h0M843.9 600.1h0M869.6 536.1h0M876.4 586.6h0M819.4 564.1h0M883.3 585.8h0M862.3 518.7h0M885 569.4h0M866.9 586h0M848.7 559.8h0M881.8 534.8h0M872.4 551.2h0M861.3 601.7h0M864 551.1h0M821.6 538.6h0M850.9 577.2h0M889.1 551.1h0M855.4 583.9h0M869.2 523.3h0M827.6 558h0M862.6 548.7h0M851.1 572h0M852.2 600.8h0M843 521.2h0M870.3 528.7h0M820.3 538.8h0M855.7 548.6h0M871 546.9h0M819.8 535.6h0M886 549.9h0M868.5 588.3h0M830.6 589.5h0M844.3 527.6h0M834.5 596.8h0M841.5 581.3h0M884.1 578.1h0M832.3 526.2h0M820.6 535.3h0M833.3 537.9h0M823.1 585.8h0M876.3 532.5h0M818.3 574.5h0M885.3 576.5h0M855.6 547.8h0M826.5 573.7h0M879.3 574.2h0M835.9 546.1h0M820.1 587.3h0M878.9 576.5h0M814.4 557.3h0M884 579.7h0M839.1 601.2h0M858.5 553.8h0M827.7 530.6h0M844.9 598.2h0M834.4 530.6h0M822.8 538.6h0M818.5 558.6h0M838.8 600.5h0M840.5 522.5h0M877.4 533.9h0M872.1 589.2h0M822.7 588.2h0M813.6 560.7h0M857.7 596.9h0M890.7 555.6h0M846.6 520.4h0M836 587.3h0M818.1 549.5h0M846.9 520.7h0M871.9 591.2h0M840.5 566.9h0M848.3 545.4h0M872.6 581.9h0M884.1 570h0M837 563.2h0M881.1 537.3h0M866.4 533.4h0M864.9 553h0M833.6 570h0M869.4 535.8h0M847.2 539.4h0M850.8 575.2h0M863.8 523.2h0M876.3 530.3h0M834.8 569.1h0M884.1 577.1h0M864.2 533.1h0M832.6 542.1h0M838.7 527.7h0M874 589.6h0M843.5 532.7h0M858.6 554.7h0M849.3 546.6h0M875.5 576.1h0M884.2 579.8h0M850.5 549.6h0M815.5 551.6h0M855.5 539.6h0M877.1 550.4h0M818.6 552.5h0M815.9 561.2h0M830 528.2h0M887.5 543.4h0M817.9 564.2h0M844.7 569.2h0M817.9 536h0M838.7 544.2h0M891.3 563h0M890.2 565.9h0M812.9 548.6h0M828.8 572.7h0M886.2 571.2h0M877.6 530.7h0M877.6 552.6h0M846.9 516.7h0M869.7 589h0M839.4 532.3h0M866.5 547.6h0M820 533.6h0M845.2 601.1h0M864.2 597.7h0M815 543.7h0M845.5 575.5h0M826.4 562.1h0M838.9 555.6h0M817.7 542h0M812.5 549.8h0M816.5 565.4h0M852.7 601.9h0M841.9 526.8h0M824 527.9h0M823.9 587.1h0M841.5 583.1h0M830.2 541.9h0M842.3 597.1h0M815.8 551.8h0M819.2 560.2h0M831.5 525.8h0M871 591.9h0M868.4 524.9h0M834.8 598.9h0M827.7 533.5h0M822.1 563.9h0M814.2 576.5h0M822.6 568.8h0M814.7 576.3h0M877.5 535.6h0M837.3 519.7h0M887 575.9h0M824 529.5h0M841.5 574.1h0M853.6 519h0M827.2 538.7h0M814.6 567.6h0M830.1 546.3h0M860.4 590.4h0M876.5 537h0M838.1 578.9h0M814.2 561.1h0M838.9 570.5h0M886.1 572.5h0M861.1 530.6h0M812.4 557.6h0M841 564.7h0M849.8 597.1h0M850.1 527.7h0M836.7 522.5h0M819.3 539h0M880.3 573.1h0M854.4 538.8h0M846.9 573.9h0M862.4 521.2h0M814 553.8h0M861.3 520.2h0M859.6 518.2h0M814.7 554.7h0M840.1 592.5h0M833.6 523.4h0M832.5 578.9h0M815.5 549.5h0M852.7 568h0M876.6 542.5h0M831.2 549.3h0M839.5 558.5h0M875.3 530.3h0M836.8 596.1h0M830.6 527.4h0M887.5 573.9h0M888.2 554.2h0M839 565.7h0M855.2 535.8h0M837 540.1h0M873.3 568.6h0M824.9 542.3h0M862.9 596.6h0M880.4 583.8h0M829.5 528.5h0M858.3 593.7h0M884.6 565.9h0M836.2 531.9h0M831.6 523.7h0M817.6 582.4h0M837.7 527.1h0M865 551.4h0M860 576.3h0M868.4 520.8h0M850.9 560.8h0M850.1 575.9h0M860 596.5h0M878.6 560.3h0M887.1 550.9h0M843.8 517.9h0M857.4 587.4h0M850.3 519.9h0M878.8 585.6h0M860.1 519.6h0M824.4 589.5h0M879.1 570.5h0M861.2 529.3h0M832.3 522.6h0M816.9 540.9h0M815.8 548.6h0M866.2 550.8h0M886.3 548.7h0M887.1 557.4h0M826.4 567.4h0M816.8 551.3h0M886 550h0M842.2 599.9h0M875.8 591.7h0M865.5 520h0M826.4 584.3h0M862.6 596.7h0M813.5 556.7h0M838 592.2h0M859.1 546.6h0M870.2 576.8h0M840.5 601.1h0M882.1 581.8h0M861.4 562h0M856 521.6h0M816.2 573.1h0M823.7 535.8h0M877.3 552.3h0M838.7 554.3h0M844.1 600.7h0M831.7 581.3h0M829.9 524.6h0M883.3 576.6h0M818.2 566.1h0M883 580.3h0M842.4 533.9h0M864.7 524.3h0M862.7 599.1h0M864.6 551.9h0M888 570.7h0M856.7 545.7h0M846.7 587.1h0M877.7 530h0M823.4 559.9h0M832.1 524.3h0M870 564.3h0M866.8 595.3h0M858.8 522h0M822 531.6h0M876.6 564.2h0M854.8 589h0M835.9 524.7h0M849 546.3h0M879.9 550h0M884.7 545.8h0M825.4 533.6h0M857.7 573.9h0M842.4 549.1h0M857.3 558.2h0M888.6 552.2h0M862.4 590.4h0M870 567.5h0M853.8 519h0M843.1 518.3h0M819.4 552.9h0M854.2 555.8h0M814.6 550.9h0M819.6 552h0M846.8 544.1h0M852.2 560.9h0M854.1 577.7h0M823.1 582.1h0M871.8 540.8h0M832.7 527.2h0M837.5 541.5h0M846.9 565.9h0M829.6 590.8h0M830.3 567.9h0" stroke-width="1.65" opacity="0.88"/><path d="M852.7 554.7h0M852.5 545.6h0M886.4 542.2h0M857 550.8h0M844.7 517.3h0M870 583.1h0M848.4 565.5h0M858.3 597.8h0M811.5 564.8h0M863.8 527.1h0M844.7 550.9h0M815.5 570.8h0M872.7 587.6h0M831.1 527.2h0M858.7 567.8h0M887.9 572.7h0M827.8 585.6h0M864.9 521.7h0M816.7 546.6h0M879.3 591h0M862.3 568.8h0M821.3 542.9h0M841.3 565.3h0M837.7 522.2h0M853.2 516.8h0M824.3 535.2h0M855.7 549.4h0M888.5 557.8h0M880.3 584.8h0M835.9 597h0M848.6 531h0M857.6 563.4h0M841.4 527.9h0M888.2 569.1h0M863.8 580.5h0M820.7 585.2h0M868.8 597.4h0M870.7 522.3h0M878 577.4h0M864.9 570.5h0M870.4 525.1h0M823.3 534.7h0M815 555.6h0M878.9 558.1h0M816 559.7h0M855.2 547.1h0M822.8 551.9h0M852.6 555.8h0M839.1 520.1h0M847.6 600.9h0M887.2 551.7h0M875.3 541.3h0M824 529.9h0M889.7 564.6h0M814.6 545.9h0M830.3 593.4h0M866 530.6h0M834.5 543.1h0M867.3 575.6h0M890.2 561.1h0M888.4 562.4h0M875 565.1h0M885.8 549.3h0M824.1 586h0M860.9 556.9h0M877.4 573.4h0M843.6 541.4h0M845.6 566.8h0M835.4 524.3h0M879.4 590h0M854.4 592.4h0M863.2 566.5h0M832.4 524.4h0M880.4 588.7h0M828.5 588.7h0M868.4 525.8h0M854.4 546h0M867.4 558.3h0M864 568.2h0M840.2 538.6h0M853.4 577.1h0M879.8 587.4h0M880.1 585.4h0M874.3 551h0M866.7 595.3h0M880.1 584.4h0M859.8 595.8h0M863.4 575.5h0M868.9 598.5h0M856.9 595.4h0M857.6 538.9h0M891.1 559.1h0M853.3 555.2h0M824.6 534.8h0M842.6 526.6h0M843.5 582h0M861.6 578.6h0M887.8 551.4h0M860.5 561.8h0M888.8 549.4h0M873.4 542.6h0M834.5 544.9h0M880.3 586.7h0M877.2 545.6h0M873.1 590.6h0M812.9 551.3h0M872.2 595.1h0M833.6 524.1h0M857.6 541.6h0M861.9 571.2h0M868.5 527.3h0M838.6 582.8h0M883 535.1h0M843.8 528.9h0M857.9 575.5h0M879.2 531.9h0M820.8 581.6h0M856.3 529.8h0M816.6 581.5h0M844.4 595.1h0M864.7 565.9h0M877.9 568.3h0M882.1 568.1h0M864.2 546.2h0M815.1 577.6h0M836.1 569.5h0M886.2 576.5h0M869 593.9h0M810.9 562.8h0M818.9 576h0M874.9 545.1h0M832.1 534h0M867.3 546.9h0M867.3 521h0M857.4 546.8h0M831.5 596.2h0M854.2 548.6h0M880.5 585.5h0M858.5 598.2h0M852.4 590h0M855 551.6h0M837.2 553.6h0M838.7 523h0M859 571.4h0M877.4 575h0M847.4 529.8h0M818.5 544.4h0M839.7 559.8h0M867.8 553.3h0M854.9 603.4h0M885.3 550.7h0M862.5 550.2h0M877 548.7h0M832.6 592.8h0M887.9 559.6h0M842.4 550.2h0M882.3 536h0M873.5 527.1h0M887.7 569.8h0M886.5 549.7h0M858.5 535.7h0M839.6 540.9h0M835 568.9h0M845.1 584.1h0M864.3 595.4h0M828.7 592h0M829.5 565.1h0M887.7 566.7h0M872.8 568.6h0M834.8 590.6h0M830.4 550.4h0M876.2 532h0M816.6 578.4h0M861 575.2h0M865.3 524.9h0M878.8 589h0M834.9 528.8h0M867.2 524.4h0M815 576.7h0M864.4 568.7h0M875.5 566.2h0M875.4 564.3h0M863.5 585h0M855.4 517.7h0M873.5 524.5h0M817 557.5h0M872.1 557.6h0M850.2 593.7h0M842.1 551.3h0M831.9 592.7h0M877.4 568.6h0M859.7 563.9h0M886 548h0M874.8 590.6h0M842.9 580h0M882.7 551.7h0M813.2 571.2h0M817.5 572.3h0M826.4 575.2h0M859.3 593.3h0M824.1 573.6h0M832.3 558.4h0M823.5 533.1h0M823.3 551.4h0M872.9 526.3h0M813.1 551.2h0M844.5 523.6h0M811.1 561.1h0M871.2 540.4h0M833.3 560.6h0M853.4 526.5h0M859.9 577.6h0M813.7 574.6h0M820.8 541.8h0M842.4 552.7h0M879 590.9h0M840.8 536.7h0M846.9 550.4h0M830.9 527.8h0M861 557.3h0M819 564.7h0M812.4 559h0M849.1 560.9h0M880.9 581.3h0M822.3 558.7h0M837.2 586.1h0M828.9 595.2h0M868.8 527.1h0M838 551.1h0M850.8 524.6h0M855.7 532.5h0M865.9 525.3h0M878.8 557h0M846.7 601.1h0M862.6 562.3h0M832.5 524.1h0M846.1 586.8h0M838.6 586.6h0M849.5 518.8h0M852.8 558.9h0M864.7 561.8h0M883.3 577.6h0M877.7 530.6h0M827.9 558.3h0M819.7 539.2h0M866.8 574.4h0M872.1 529.1h0M840.5 521.6h0M881.3 543.1h0M842.8 572.6h0M867 597.9h0M843.6 574.8h0M859.7 518.9h0M884.6 549.9h0M844.9 563.8h0M884.2 582.2h0M871.3 594.5h0M816.3 541.4h0M823.5 537.7h0M843.1 592.1h0M847.5 587.3h0M849 517.6h0M861.3 589.5h0M838.9 569.2h0M823.1 587h0M868.9 523.9h0M857.2 535.1h0M837.7 552h0M839.9 591.7h0M844.7 593.4h0M853.6 578.8h0M818.8 580.7h0M830.7 556h0M815 550.8h0M816.2 538.4h0M868.3 572.2h0M816.4 581h0M880.8 557h0M885.4 545.2h0M876.9 560.9h0M840.3 519.5h0M846.9 556.1h0M811.9 563h0M814.6 559.2h0M828.9 539.4h0M866.7 594.5h0M850.8 517.8h0M883 580.6h0M872.5 545.8h0M887 551.2h0M813.9 544.2h0M820.4 566.9h0M888.1 577.3h0M821.2 578h0M814.7 578.7h0M846.6 595.5h0M865.1 522.3h0M816.1 550.8h0M873.1 543.9h0M852.9 543h0M886.3 564.1h0M871.2 527.1h0M846.1 535h0M821.7 533.1h0M839.1 540.7h0M884.5 560.9h0M874.7 590.3h0M840.7 523.8h0M864.9 540.3h0M881.6 544.2h0M876.2 529.5h0M878.3 588.7h0M829.4 545.4h0M841.6 531.9h0M835.3 563.9h0M860.4 550.2h0M890.6 563.9h0M821.4 552h0M883.9 579.1h0M864 548.4h0M821.5 577.2h0M830.6 595h0M825 534.6h0M853.6 572.3h0M864.9 532.5h0M833.4 591.6h0M822.9 534h0M847.5 591.4h0M884.2 579.3h0M871.9 559.2h0M849.4 582.9h0M870.6 522.4h0M831.3 549.1h0M867 553.7h0M877.5 536.2h0M878.3 530h0M845.7 561.6h0M824.1 581.5h0M848.9 597h0M836.4 563.3h0M863.5 520.9h0M870.4 548h0M886.1 570.4h0M819.5 534.6h0M814.1 544h0M887.5 559.3h0M885.7 542.9h0M824.3 590.5h0M886.7 556.2h0M821.2 535.7h0M869.8 560.4h0M856.9 554.4h0M820.8 586.3h0M869.4 595.1h0M890.3 557.4h0M835.8 582.4h0M876 536.1h0M826 538.6h0M820.2 580.7h0M878.7 562.9h0M869.1 541.8h0M875.1 554.2h0M862.1 579.4h0M871 537h0M836.3 576.8h0M865.1 532.7h0M846.3 539.4h0M870.1 594.4h0M818.8 542.8h0M860.3 598.8h0M874.2 594.4h0M884 538.2h0M832 552.3h0M833.3 595.7h0M860.2 548h0M862.7 581.5h0M868 536.6h0M846.4 558.7h0M838.4 520.5h0M850.9 601.4h0M850.9 592.2h0M820.5 541.5h0M857.7 535.9h0M855.3 518.3h0M862.4 536.2h0M839.1 551.1h0M850.9 541.9h0M879.5 542.2h0M882 538.6h0M887.9 571.1h0M889.7 567.1h0M856.1 599.8h0M882.3 581.3h0M866.9 520.3h0M827.9 530.1h0M887.3 573.7h0M885.4 558.1h0M869.9 596.9h0M872.4 522.9h0M864.9 540.7h0M871.1 548.2h0M866.8 575.6h0M823.2 578.9h0M863.3 593.1h0M824.5 572.5h0M847.6 537.3h0M836.4 587.3h0M831.5 524.3h0M855.5 603.3h0M831.7 552.5h0M865.4 582.1h0M881.6 545h0M820.1 545.2h0M848.8 603.3h0M866.6 538.5h0M890 563.2h0M839.5 601.4h0M844.2 527.3h0M869.9 529.1h0M851 565.2h0M827.8 560.2h0M877.4 561.2h0M872.4 524.4h0M815.8 575.1h0M869.4 597.6h0M863.2 543.5h0M822.6 551h0M842 596.6h0M853.7 564.2h0M814.4 575.5h0M825.9 587.3h0M837.5 597.3h0M859.5 586.3h0M834.3 532.2h0M888.6 566.8h0M842 562.9h0M824.4 532.6h0M854.3 559.5h0M869.1 572.4h0M815.8 557.8h0M843.7 578.2h0M868.2 522.7h0M855 537.1h0M843.2 534.1h0M872.9 523.6h0M830.6 550.9h0M839 579.4h0M840.7 573.1h0M849.6 593.6h0M855.3 583.9h0M832.4 527.5h0M865.1 543h0M860.1 521.1h0M818.9 543.4h0M836.9 595.2h0M816.8 542.3h0M846.1 517.9h0M883.3 544.3h0M821.5 533.8h0M848.6 601.6h0M880 572.1h0M888.6 574.9h0M828.6 524.6h0M847.5 519.1h0M858.4 572h0M862.1 544h0M861.1 530.7h0M841.2 551.7h0M851.6 582.9h0M812.3 561.9h0M845.1 599.7h0M856.8 556.9h0M833.1 571.2h0M888.9 561.7h0M838.3 532.5h0M848.5 559.9h0M871.7 543.9h0M868.8 594.5h0M863.5 523.2h0M828.6 524.7h0M871.5 551.9h0M885.6 571.9h0M849.5 572.4h0M833 553.8h0M838.2 595.4h0M878.8 536.6h0M868.1 525.2h0M862.6 601.5h0M857.6 559.7h0M862.5 553.7h0M880.2 577.3h0M872.1 569.7h0M858.7 596.6h0M818.3 583.6h0M881.1 554.2h0M890.7 556.9h0M863.4 540.2h0M868.4 524.5h0M859.7 588.6h0M880.9 586.4h0M853.5 583.8h0M887.2 571.6h0M862.5 580.5h0M877.1 566.8h0M822.6 586.7h0M866.3 536.8h0M826 591.5h0M851.6 586.4h0M830.6 592.8h0M853.8 578.5h0M853.5 539h0M846.1 522.9h0M882.5 533.1h0M819 574.1h0M844.2 595h0M840.9 594.5h0M878.5 589.6h0M814.3 570.3h0M850.6 594.1h0M822.8 540.9h0M878.5 545.7h0" stroke-width="1.2" opacity="0.7"/></g>
<circle cx="816" cy="597.9" r="3" fill="#fff" opacity="0.8" filter="url(#pb2)"/>
<rect x="809.3" y="514.3" width="83.8" height="90.9" filter="url(#gr2)" opacity="0.16"/>
</g>
<g clip-path="url(#p14)"><rect x="899" y="514.3" width="83.3" height="90.9" fill="#dadacc"/>
<ellipse cx="940.6" cy="560" rx="41.9" ry="45.6" fill="none" stroke="#948ab8" stroke-width="2.6" opacity="0.6" filter="url(#pb2)"/>
<ellipse cx="940.6" cy="560" rx="40.5" ry="44.2" fill="url(#gp14)"/>
<ellipse cx="940.6" cy="560" rx="40.5" ry="44.2" fill="none" stroke="#7466a8" stroke-width="1.1" stroke-opacity="0.5" filter="url(#pb)"/>
<g filter="url(#pb)" fill="none" stroke="#3c2ea2" stroke-linecap="round"><path d="M919.7 581.8h0M918.3 591.1h0M956.7 588.8h0M926.6 600.1h0M942.4 587.6h0M911.1 531.9h0M939.5 523.3h0M902.5 571.2h0M963.1 553.4h0M955.4 590.4h0M926.8 523.6h0M955.3 580.1h0M904.4 557h0M971.7 585.6h0M903.2 556.4h0M926.8 559.7h0M945.4 520.7h0M906.5 568.7h0M951.3 522.6h0M931.5 535.9h0M953.3 559.9h0M909.9 545.8h0M933.2 527.8h0M973.1 539.1h0M932.5 559.9h0M955.4 580.2h0M965.3 529.9h0M971.5 547.1h0M920.3 564.1h0M909.1 541.1h0M920.6 528.7h0M973.2 576.4h0M920 595.6h0M925 532.2h0M910.9 573.4h0M965.5 569.2h0M932 535.5h0M917.7 546.8h0M940.7 547.8h0M923.2 587.3h0M935 594.1h0M970.5 544.4h0M964.8 537.2h0M935 521.4h0M915.2 537.8h0M952.9 579.5h0M974.1 537.1h0M911.4 531.8h0M914.1 587.6h0M948 524.1h0M920.6 579h0M937.2 589.8h0M914 563.9h0M947.2 578.9h0M948.6 602.2h0M943.8 517.3h0M908.5 566.3h0M933 549.1h0M903.1 566.9h0M931.6 596.5h0M907.6 541.7h0M914.4 586.2h0M940.9 543.8h0M918.3 527.6h0M943.6 532.4h0M954.1 524.3h0M962.5 575.2h0M917.1 532h0M942.3 532.8h0M967.9 579.1h0M949.4 592h0M967 586.6h0M966.8 577.8h0M907.7 538.4h0M934.9 519.4h0M923.3 539.5h0M966.8 528.5h0M964.3 533.3h0M946.6 601h0M920.5 528.2h0M965.6 583.8h0M929.5 569.3h0M970.5 581.8h0M953.9 545.1h0M951.1 578.8h0M941.2 520.1h0M971.4 575.4h0M907.8 578.1h0M979.9 568.4h0M961.3 594.3h0M948.6 533.3h0M937.4 553.3h0M914.7 587.7h0M907.9 581.8h0M966.4 584h0M956.8 546.4h0M939.9 578.5h0M972.5 565.6h0M931.7 537.9h0M965.6 581.7h0M928.4 591.8h0M955.4 574.8h0M939.2 518.1h0M953 597.2h0M913.6 569.5h0M931.8 521h0M903 564.2h0M916.9 589.9h0M958.9 525.6h0M965.6 526.5h0M932.6 562.5h0M930.2 529.7h0M917.3 553.7h0M903.8 562.7h0M902.3 549.2h0M979.4 571.4h0M915.1 553.3h0M935.6 525.8h0M965.5 532.5h0M905.7 559.3h0M953.7 559.6h0M931.1 519.3h0M945.6 564.6h0M907.5 543.4h0M945.6 521.3h0M963.2 583.2h0M923.1 558.3h0M954.5 542.2h0M920.8 559.1h0M908.7 582.3h0M908.4 538.9h0M951.6 573.7h0M944.5 571.3h0M946.2 556.8h0M972.5 562h0M924.7 521.5h0M938 581h0M925.5 548.1h0M952.2 529.8h0M936.3 572.7h0M931.5 531h0M903.9 561.8h0M956.6 537.2h0M907.2 572.5h0M940.9 523.3h0M907 571.9h0M972.2 578.4h0M950.1 584.3h0M932.2 531.7h0M956.2 527.8h0M942.3 600.5h0M902.6 568.3h0M959.1 574.2h0M908 582.7h0M904.7 565h0M947.4 532.2h0M903.7 569.5h0M924.5 549.1h0M970.8 578.8h0M919.1 525.9h0M955.7 532.4h0M923.6 590h0M942.4 560.8h0M939.8 559.6h0M908.4 566h0M942.3 575.3h0M928.3 569h0M936.6 545.4h0M962.4 528.9h0M926.8 584.1h0M907.9 562.3h0M969 553.9h0M976 561.6h0M914.2 573.6h0M917.9 576.1h0M938 599.3h0M978 550.9h0M937.6 581.1h0M934.2 564.6h0M929 524h0M922 555.3h0M969.5 586.6h0M920.4 543.1h0M931.2 598.7h0M921 527.5h0M970.9 584.7h0M954.9 562.7h0M962.7 524.5h0M936.6 596.9h0M902.1 568.9h0M939.5 536.1h0M907.5 574.4h0M950.6 546.3h0M918.5 538h0M976 542.9h0M940.1 516.7h0M923 555.1h0M924.2 578.8h0M918.8 591.5h0M923.2 580.8h0M957.8 581h0M970.2 536.1h0M954.3 521.3h0M977.1 564h0M950.9 601.1h0M930.5 558.1h0M925.8 550.1h0M918.3 588.1h0M919.5 533.8h0M949.5 563.6h0M923.5 550.4h0M941.7 598.1h0M937.3 559.7h0M942.2 590.4h0M952.6 557.6h0M932.2 581.7h0M971.2 582.4h0M950.1 597.2h0M964.3 555.5h0M957 596.2h0M923.8 548.6h0M964.1 571.1h0M979.1 555.1h0M942.9 565.4h0M936.6 590.8h0M953.9 581h0M965.8 582.9h0M963.8 525.3h0M926.9 588.2h0M910.3 586.1h0M903.7 563.5h0M930.3 545.6h0M962.5 590.6h0M976.3 574.9h0M917 533.4h0M914.8 539.7h0M955.7 576.7h0M949.2 559.9h0M922 594.7h0M923.1 584.6h0M939 553.4h0M942.7 546.3h0M909.9 585.1h0M975.7 549h0M963.2 578h0M902.9 552h0M952 599.1h0M976.5 555.7h0" stroke-width="1.65" opacity="0.88"/><path d="M933.6 521.9h0M950 534.3h0M978.9 550.1h0M932 550.1h0M966.4 557.8h0M908.4 582.7h0M937.7 557.2h0M958.3 547.6h0M936.6 585.3h0M933.1 534.6h0M924.6 520.4h0M930.6 578.1h0M927.2 568.7h0M920.1 554.9h0M951.8 575.6h0M919.3 589.5h0M915.1 565.3h0M976.1 553.2h0M919.7 526.8h0M964 579.4h0M906.4 551.1h0M947.3 517.9h0M917 565.6h0M911.4 571.1h0M912 562.7h0M907.3 565.3h0M905.5 542.4h0M951.5 600.6h0M928.3 590.9h0M922 536.1h0M977.2 568.4h0M943.8 532.2h0M980.1 554.6h0M927.2 540.2h0M932.7 523.3h0M935.2 520.9h0M910.9 567.1h0M975.8 579.3h0M952.7 519.9h0M950.4 587.9h0M949.2 568.1h0M918.8 567.5h0M945.5 527.4h0M928.2 533h0M903.5 545.4h0M944.3 561.1h0M973.4 546.4h0M944.8 557.4h0M957.7 554.8h0M958.9 523h0M928.5 570.1h0M921.6 544.4h0M963.9 567.5h0M960.2 563.7h0M979.9 568.1h0M939.8 600.7h0M915.7 587.5h0M907.9 535.3h0M968.3 542.3h0M912.1 553.2h0M930.2 556h0M921.7 535.1h0M940.2 562.1h0M962.6 578.1h0M923.1 584.3h0M965.2 587.1h0M966 571.2h0M932.6 593.5h0M912.7 534.2h0M907.1 575.8h0M958.2 543.8h0M934.3 520h0M915.5 536.1h0M969.9 550.6h0M961.8 547.5h0M904.1 543.2h0M908.3 537.4h0M947.1 556.1h0M922.3 521.6h0M931.8 552.5h0M934.3 559.3h0M925.5 545.8h0M941.9 600h0M964.4 561.9h0M961.3 529h0M974.7 574.7h0M977.5 573h0M971.1 539.1h0M945.7 568.6h0M936.7 576.6h0M904.1 556.2h0M921.3 530.4h0M948.1 589.9h0M910.3 543.6h0M957 597.3h0M927.4 536h0M948.3 591h0M933.1 575.2h0M967.1 573.4h0M902.2 552.5h0M937.8 598.1h0M951.1 594h0M915.8 560h0M975.3 576.4h0M926.9 595.4h0M950.4 522.1h0M948 521.1h0M942.3 568.4h0M901.8 561.5h0M943.2 583.3h0M956 591.9h0M964.2 588.4h0M919.1 592.5h0M961.5 582.8h0M946.4 538.8h0M920.1 547.4h0M970.9 567h0M927 566.9h0M974.4 546.4h0M977.7 575.2h0M979.3 557.4h0M976.7 572.2h0M944.7 549.4h0M949.1 518h0M967.5 539.9h0M950.1 553.1h0M965.5 573.5h0M931.6 590.6h0M960.4 586.8h0M908.1 585.3h0M946 550.3h0M932.6 569.9h0M930.7 601.6h0M964.8 547.6h0M922.6 563.6h0M911.8 536.2h0M977.1 548.8h0M974.7 545.7h0M966.2 587.2h0M938.6 571.5h0M969.3 543.1h0M908.3 545.4h0M906.3 570h0M919 583.5h0M949.5 519.2h0M914.3 590h0M954.8 581.1h0M929.3 559.8h0M964.7 532.4h0M931.2 538.5h0M964.9 542.7h0M938.1 539.9h0M942.8 599.2h0M913.3 534.5h0M973.8 549h0M920.1 535.7h0M913.7 547.8h0M908.9 539.9h0M918.6 557.7h0M928.8 578.4h0M948.9 594.9h0M928.1 564.2h0M912.5 539.3h0M942.8 530.7h0M943.5 550.3h0M955.3 523.5h0M921.3 559.4h0M959.1 525h0M975.5 574.3h0M905.8 563.9h0M933.7 586.9h0M942.4 535.2h0M920.8 593.3h0M927.7 551.2h0M962.2 541.2h0M928.9 601.6h0M930.9 567.8h0M933.4 602.5h0M921 594.7h0M944.7 599.1h0M979.5 568.7h0M902.6 552.3h0M938.4 529.8h0M934.1 549.2h0M941.5 600.9h0M923.6 571.4h0M958.9 589h0M961 595.2h0M904.1 559.3h0M906 558.9h0M954.3 522h0M909.1 535.7h0" stroke-width="1.2" opacity="0.7"/></g>
<rect x="899" y="514.3" width="83.3" height="90.9" filter="url(#gr2)" opacity="0.16"/>
</g>
<line x1="594.6" y1="644.58" x2="594.6" y2="781.5" stroke="#1a1a1a" stroke-width="1.1"/>
<text x="586.8" y="785.4" font-size="14" text-anchor="end" stroke="#000">0</text>
<line x1="594.6" y1="747.02" x2="600.2" y2="747.02" stroke="#1a1a1a" stroke-width="1.1"/>
<text x="586.8" y="751.42" font-size="14" text-anchor="end" stroke="#000">200</text>
<line x1="594.6" y1="713.04" x2="600.2" y2="713.04" stroke="#1a1a1a" stroke-width="1.1"/>
<text x="586.8" y="717.44" font-size="14" text-anchor="end" stroke="#000">400</text>
<line x1="594.6" y1="679.06" x2="600.2" y2="679.06" stroke="#1a1a1a" stroke-width="1.1"/>
<text x="586.8" y="683.46" font-size="14" text-anchor="end" stroke="#000">600</text>
<line x1="594.6" y1="645.08" x2="600.2" y2="645.08" stroke="#1a1a1a" stroke-width="1.1"/>
<text x="586.8" y="649.48" font-size="14" text-anchor="end" stroke="#000">800</text>
<line x1="594.1" y1="781" x2="885.7" y2="781" stroke="#1a1a1a" stroke-width="1.1"/>
<line x1="652.4" y1="775.5" x2="652.4" y2="781" stroke="#1a1a1a" stroke-width="1.1"/>
<line x1="710.4" y1="775.5" x2="710.4" y2="781" stroke="#1a1a1a" stroke-width="1.1"/>
<line x1="768.6" y1="775.5" x2="768.6" y2="781" stroke="#1a1a1a" stroke-width="1.1"/>
<line x1="827.2" y1="775.5" x2="827.2" y2="781" stroke="#1a1a1a" stroke-width="1.1"/>
<line x1="885.2" y1="775.5" x2="885.2" y2="781" stroke="#1a1a1a" stroke-width="1.1"/>
<rect x="608.4" y="713.21" width="14.55" height="67.79" fill="#0000ff"/>
<line x1="615.67" y1="708.62" x2="615.67" y2="713.21" stroke="#0000ff" stroke-width="1.1"/>
<line x1="611.88" y1="708.62" x2="619.47" y2="708.62" stroke="#0000ff" stroke-width="1.1"/>
<rect x="622.95" y="728.67" width="14.55" height="52.33" fill="#ff0000"/>
<line x1="630.22" y1="728.16" x2="630.22" y2="728.67" stroke="#ff0000" stroke-width="1.1"/>
<line x1="626.42" y1="728.16" x2="634.02" y2="728.16" stroke="#ff0000" stroke-width="1.1"/>
<rect x="666.8" y="745.15" width="14.55" height="35.85" fill="#0000ff"/>
<line x1="674.07" y1="742.43" x2="674.07" y2="745.15" stroke="#0000ff" stroke-width="1.1"/>
<line x1="670.27" y1="742.43" x2="677.87" y2="742.43" stroke="#0000ff" stroke-width="1.1"/>
<rect x="681.35" y="754.33" width="14.55" height="26.67" fill="#ff0000"/>
<line x1="688.62" y1="753.48" x2="688.62" y2="754.33" stroke="#ff0000" stroke-width="1.1"/>
<line x1="684.82" y1="753.48" x2="692.42" y2="753.48" stroke="#ff0000" stroke-width="1.1"/>
<rect x="725.1" y="714.4" width="14.55" height="66.6" fill="#0000ff"/>
<line x1="732.38" y1="712.87" x2="732.38" y2="714.4" stroke="#0000ff" stroke-width="1.1"/>
<line x1="728.58" y1="712.87" x2="736.17" y2="712.87" stroke="#0000ff" stroke-width="1.1"/>
<rect x="739.65" y="730.71" width="14.55" height="50.29" fill="#ff0000"/>
<line x1="746.92" y1="729.35" x2="746.92" y2="730.71" stroke="#ff0000" stroke-width="1.1"/>
<line x1="743.12" y1="729.35" x2="750.72" y2="729.35" stroke="#ff0000" stroke-width="1.1"/>
<rect x="783.3" y="651.71" width="14.55" height="129.29" fill="#0000ff"/>
<line x1="790.57" y1="649.5" x2="790.57" y2="651.71" stroke="#0000ff" stroke-width="1.1"/>
<line x1="786.77" y1="649.5" x2="794.37" y2="649.5" stroke="#0000ff" stroke-width="1.1"/>
<rect x="797.85" y="668.53" width="14.55" height="112.47" fill="#ff0000"/>
<line x1="805.12" y1="663.26" x2="805.12" y2="668.53" stroke="#ff0000" stroke-width="1.1"/>
<line x1="801.32" y1="663.26" x2="808.92" y2="663.26" stroke="#ff0000" stroke-width="1.1"/>
<rect x="841.8" y="690.27" width="14.55" height="90.73" fill="#0000ff"/>
<line x1="849.07" y1="687.22" x2="849.07" y2="690.27" stroke="#0000ff" stroke-width="1.1"/>
<line x1="845.27" y1="687.22" x2="852.87" y2="687.22" stroke="#0000ff" stroke-width="1.1"/>
<rect x="856.35" y="702.34" width="14.55" height="78.66" fill="#ff0000"/>
<line x1="863.62" y1="699.45" x2="863.62" y2="702.34" stroke="#ff0000" stroke-width="1.1"/>
<line x1="859.82" y1="699.45" x2="867.42" y2="699.45" stroke="#ff0000" stroke-width="1.1"/>
<rect x="610.8" y="651.4" width="7.5" height="7.5" fill="#0000ff"/>
<text x="622" y="659.2" font-size="11.5" stroke="#000">SW620</text>
<rect x="610.8" y="665.9" width="7.5" height="7.5" fill="#ff0000"/>
<text x="622" y="673.6" font-size="11.5" stroke="#000">LoVo</text>
<path d="M618.7 701.3V682H682.5 M682.5 730.2V645.8H856.3V675.4" stroke="#000" stroke-width="1.5" fill="none"/>
<line x1="612.2" y1="704.4" x2="626.7" y2="704.4" stroke="#000" stroke-width="1.5"/>
<line x1="674" y1="734.3" x2="689.5" y2="734.3" stroke="#000" stroke-width="1.5"/>
<line x1="848.8" y1="681.3" x2="864.8" y2="681.3" stroke="#000" stroke-width="1.5"/>
<text x="643.9" y="707.6" font-size="16.5" text-anchor="middle" stroke="#000" textLength="27.3" lengthAdjust="spacingAndGlyphs">****</text>
<text x="749" y="665.4" font-size="16.5" text-anchor="middle" stroke="#000" textLength="27.3" lengthAdjust="spacingAndGlyphs">****</text>
<text x="630.5" y="791.5" font-size="14" text-anchor="end" stroke="#000" transform="rotate(-45 630.5 791.5)">m-NC</text>
<text x="688" y="792" font-size="14" text-anchor="end" stroke="#000" transform="rotate(-45 688 792)">miR-500a-5p</text>
<text x="745" y="793.6" font-size="14" text-anchor="end" stroke="#000" transform="rotate(-45 745 793.6)">Vector</text>
<text x="806.5" y="792.5" font-size="14" text-anchor="end" stroke="#000" transform="rotate(-45 806.5 792.5)">HDAC2</text>
<text x="864" y="795" font-size="14" text-anchor="end" stroke="#000" transform="rotate(-45 864 795)">miR500a-5p/</text>
<text x="876" y="808" font-size="14" text-anchor="end" stroke="#000" transform="rotate(-45 876 808)">HDAC2</text>
<text x="552" y="715.7" font-size="13.85" text-anchor="middle" stroke="#000" transform="rotate(-90 552 715.7)">Number of colonies</text>
<line x1="113.8" y1="645.1" x2="113.8" y2="818.1" stroke="#1a1a1a" stroke-width="1.1"/>
<text x="107.5" y="822" font-size="13.9" text-anchor="end" stroke="#000">0</text>
<line x1="113.8" y1="783.2" x2="119.4" y2="783.2" stroke="#1a1a1a" stroke-width="1.1"/>
<text x="107.5" y="787.6" font-size="13.9" text-anchor="end" stroke="#000">0.5</text>
<line x1="113.8" y1="748.8" x2="119.4" y2="748.8" stroke="#1a1a1a" stroke-width="1.1"/>
<text x="107.5" y="753.2" font-size="13.9" text-anchor="end" stroke="#000">1.0</text>
<line x1="113.8" y1="714.4" x2="119.4" y2="714.4" stroke="#1a1a1a" stroke-width="1.1"/>
<text x="107.5" y="718.8" font-size="13.9" text-anchor="end" stroke="#000">1.5</text>
<line x1="113.8" y1="680" x2="119.4" y2="680" stroke="#1a1a1a" stroke-width="1.1"/>
<text x="107.5" y="684.4" font-size="13.9" text-anchor="end" stroke="#000">2.0</text>
<line x1="113.8" y1="645.6" x2="119.4" y2="645.6" stroke="#1a1a1a" stroke-width="1.1"/>
<text x="107.5" y="650" font-size="13.9" text-anchor="end" stroke="#000">2.5</text>
<line x1="113.3" y1="817.6" x2="437.3" y2="817.6" stroke="#1a1a1a" stroke-width="1.1"/>
<text x="152" y="834" font-size="13.9" text-anchor="middle" stroke="#000">1</text>
<text x="234.4" y="834" font-size="13.9" text-anchor="middle" stroke="#000">2</text>
<text x="314.7" y="834" font-size="13.9" text-anchor="middle" stroke="#000">3</text>
<text x="393.9" y="834" font-size="13.9" text-anchor="middle" stroke="#000">4</text>
<text x="426.05" y="834" font-size="13.6" text-anchor="middle" stroke="#000" textLength="31.73" lengthAdjust="spacingAndGlyphs">Days</text>
<path d="M154.5 791.46L235.6 779.76L316.2 759.4L397.1 751.07" stroke="#000" stroke-width="1.7" fill="none"/>
<rect x="151" y="787.96" width="7" height="7" fill="#000"/>
<rect x="232.1" y="776.26" width="7" height="7" fill="#000"/>
<rect x="312.7" y="755.9" width="7" height="7" fill="#000"/>
<rect x="393.6" y="747.57" width="7" height="7" fill="#000"/>
<path d="M154.5 791.46L235.6 785.26L316.2 777.01L397.1 772.67" stroke="#000" stroke-width="1.7" fill="none"/>
<path d="M151.5 788.46L157.5 794.46M151.5 794.46L157.5 788.46M151.1 791.46H157.9" stroke="#000" stroke-width="1.5" fill="none"/>
<path d="M232.6 782.26L238.6 788.26M232.6 788.26L238.6 782.26M232.2 785.26H239" stroke="#000" stroke-width="1.5" fill="none"/>
<path d="M313.2 774.01L319.2 780.01M313.2 780.01L319.2 774.01M312.8 777.01H319.6" stroke="#000" stroke-width="1.5" fill="none"/>
<path d="M394.1 769.67L400.1 775.67M394.1 775.67L400.1 769.67M393.7 772.67H400.5" stroke="#000" stroke-width="1.5" fill="none"/>
<path d="M154.5 791.46L235.6 778.04L316.2 759.12L397.1 745.57" stroke="#000" stroke-width="1.7" fill="none"/>
<path d="M154.5 787.66L158.3 791.46L154.5 795.26L150.7 791.46Z" stroke="none" stroke-width="0" fill="#000"/>
<path d="M235.6 774.24L239.4 778.04L235.6 781.84L231.8 778.04Z" stroke="none" stroke-width="0" fill="#000"/>
<path d="M316.2 755.32L320 759.12L316.2 762.92L312.4 759.12Z" stroke="none" stroke-width="0" fill="#000"/>
<path d="M397.1 741.77L400.9 745.57L397.1 749.37L393.3 745.57Z" stroke="none" stroke-width="0" fill="#000"/>
<path d="M154.5 791.11L235.6 766L316.2 729.67L397.1 680" stroke="#000" stroke-width="1.7" fill="none"/>
<path d="M154.5 786.91L158.4 794.11H150.6Z" stroke="none" stroke-width="0" fill="#000"/>
<path d="M235.6 761.8L239.5 769H231.7Z" stroke="none" stroke-width="0" fill="#000"/>
<path d="M316.2 725.47L320.1 732.67H312.3Z" stroke="none" stroke-width="0" fill="#000"/>
<path d="M397.1 675.8L401 683H393.2Z" stroke="none" stroke-width="0" fill="#000"/>
<path d="M154.5 791.11L235.6 771.5L316.2 753.89L397.1 726.23" stroke="#000" stroke-width="1.7" fill="none"/>
<circle cx="154.5" cy="791.11" r="3.7"/>
<circle cx="235.6" cy="771.5" r="3.7"/>
<circle cx="316.2" cy="753.89" r="3.7"/>
<circle cx="397.1" cy="726.23" r="3.7"/>
<line x1="235.6" y1="762.56" x2="235.6" y2="766" stroke="#333" stroke-width="1.1"/>
<line x1="232" y1="762.56" x2="239.2" y2="762.56" stroke="#333" stroke-width="1.1"/>
<line x1="397.1" y1="676.56" x2="397.1" y2="680" stroke="#333" stroke-width="1.1"/>
<line x1="393.5" y1="676.56" x2="400.7" y2="676.56" stroke="#333" stroke-width="1.1"/>
<line x1="397.1" y1="743.5" x2="397.1" y2="745.57" stroke="#333" stroke-width="1.1"/>
<line x1="393.5" y1="743.5" x2="400.7" y2="743.5" stroke="#333" stroke-width="1.1"/>
<line x1="125.6" y1="653.1" x2="162" y2="653.1" stroke="#000" stroke-width="1.7"/>
<rect x="140.2" y="649.6" width="7" height="7" fill="#000"/>
<text x="166.8" y="656.3" font-size="11.6" stroke="#000">m-NC</text>
<line x1="125.6" y1="669.75" x2="162" y2="669.75" stroke="#000" stroke-width="1.7"/>
<path d="M140.7 666.75L146.7 672.75M140.7 672.75L146.7 666.75M140.3 669.75H147.1" stroke="#000" stroke-width="1.5" fill="none"/>
<text x="166.8" y="672.95" font-size="11.6" stroke="#000">miR-500a-5p</text>
<line x1="125.6" y1="686.4" x2="162" y2="686.4" stroke="#000" stroke-width="1.7"/>
<path d="M143.7 682.6L147.5 686.4L143.7 690.2L139.9 686.4Z" stroke="none" stroke-width="0" fill="#000"/>
<text x="166.8" y="689.6" font-size="11.6" stroke="#000">Vector</text>
<line x1="125.6" y1="703.05" x2="162" y2="703.05" stroke="#000" stroke-width="1.7"/>
<path d="M143.7 698.85L147.6 706.05H139.8Z" stroke="none" stroke-width="0" fill="#000"/>
<text x="166.8" y="706.25" font-size="11.6" stroke="#000">HDAC2</text>
<line x1="125.6" y1="719.7" x2="162" y2="719.7" stroke="#000" stroke-width="1.7"/>
<circle cx="143.7" cy="719.7" r="3.7"/>
<text x="166.8" y="722.9" font-size="11.6" stroke="#000">miR-500a-5p/HDAC2</text>
<text x="397.5" y="722.9" font-size="16.5" text-anchor="middle" stroke="#000" textLength="20.55" lengthAdjust="spacingAndGlyphs">***</text>
<text x="311.7" y="750.3" font-size="16.5" text-anchor="middle" stroke="#000" textLength="27.3" lengthAdjust="spacingAndGlyphs">****</text>
<text x="317.4" y="795.8" font-size="16.5" text-anchor="middle" stroke="#000" textLength="20.55" lengthAdjust="spacingAndGlyphs">***</text>
<text x="397.3" y="795" font-size="16.5" text-anchor="middle" stroke="#000" textLength="27.3" lengthAdjust="spacingAndGlyphs">****</text>
<text x="73.8" y="731" font-size="13.85" text-anchor="middle" stroke="#000" transform="rotate(-90 73.8 731)">Absorbance value (OD)</text>
<text x="178.3" y="894.7" font-size="14" text-anchor="middle" stroke="#000">m-NC</text>
<text x="324.2" y="894.7" font-size="14" text-anchor="middle" stroke="#000">miR-500a-5p</text>
<text x="480.5" y="894.7" font-size="14" text-anchor="middle" stroke="#000">Vector</text>
<text x="625.7" y="894.7" font-size="14" text-anchor="middle" stroke="#000">HDAC2</text>
<text x="783" y="894.7" font-size="14" text-anchor="middle" stroke="#000">miR-500a-5p/HDAC2</text>
<text x="75.9" y="964.3" font-size="13.7" text-anchor="middle" stroke="#000" textLength="46.44" lengthAdjust="spacingAndGlyphs">SW620</text>
<text x="82.9" y="1059.8" font-size="13.7" text-anchor="middle" stroke="#000" textLength="32.44" lengthAdjust="spacingAndGlyphs">LoVo</text>
<g clip-path="url(#m00)"><rect x="104.7" y="903.7" width="142.3" height="100.1" fill="#f3f3f0"/>
<rect x="104.7" y="903.7" width="142.3" height="100.1" filter="url(#gr3)" opacity="0.3"/>
<g filter="url(#c1a)"><rect x="96.7" y="895.7" width="158.3" height="116.1" opacity="0.01"/>
<rect x="96.7" y="895.7" width="31.9" height="33.2" opacity="0.27"/>
<rect x="128.4" y="895.7" width="23.9" height="33.2" opacity="0.39"/>
<rect x="152.1" y="895.7" width="23.9" height="33.2" opacity="0.27"/>
<rect x="175.9" y="895.7" width="23.9" height="33.2" opacity="0.5"/>
<rect x="199.6" y="895.7" width="23.9" height="33.2" opacity="0.5"/>
<rect x="223.3" y="895.7" width="31.9" height="33.2" opacity="0.75"/>
<rect x="96.7" y="928.7" width="31.9" height="25.2" opacity="0.27"/>
<rect x="128.4" y="928.7" width="23.9" height="25.2" opacity="0.5"/>
<rect x="152.1" y="928.7" width="23.9" height="25.2" opacity="0.5"/>
<rect x="175.9" y="928.7" width="23.9" height="25.2" opacity="0.5"/>
<rect x="199.6" y="928.7" width="23.9" height="25.2" opacity="0.75"/>
<rect x="223.3" y="928.7" width="31.9" height="25.2" opacity="0.62"/>
<rect x="96.7" y="953.8" width="31.9" height="25.2" opacity="0.62"/>
<rect x="128.4" y="953.8" width="23.9" height="25.2" opacity="0.5"/>
<rect x="152.1" y="953.8" width="23.9" height="25.2" opacity="0.39"/>
<rect x="175.9" y="953.8" width="23.9" height="25.2" opacity="0.75"/>
<rect x="199.6" y="953.8" width="23.9" height="25.2" opacity="0.75"/>
<rect x="223.3" y="953.8" width="31.9" height="25.2" opacity="0.62"/>
<rect x="96.7" y="978.8" width="31.9" height="33.2" opacity="0.75"/>
<rect x="128.4" y="978.8" width="23.9" height="33.2" opacity="0.62"/>
<rect x="152.1" y="978.8" width="23.9" height="33.2" opacity="0.27"/>
<rect x="175.9" y="978.8" width="23.9" height="33.2" opacity="0.5"/>
<rect x="199.6" y="978.8" width="23.9" height="33.2" opacity="0.62"/>
<rect x="223.3" y="978.8" width="31.9" height="33.2" opacity="0.62"/>
</g>
<path d="M169.1 959.7h0M236.2 950.3h0M177 962.5h0M131 954.9h0M194.3 983.1h0M118.1 934.1h0M117.6 984.7h0M203.4 907.9h0M244.5 1000.3h0M197.8 965.3h0M127.1 905.2h0M179.9 909.7h0M131.8 927.9h0M109 950.1h0M167.4 988h0M178.6 967.8h0M175.8 970h0M169.8 931.5h0M246.7 1003.4h0M224.3 974.6h0M149.6 926.7h0M145.8 910.7h0M213.7 943.8h0M225.2 942.4h0M241 988.5h0M104.8 924.7h0M234.2 950.7h0M244.2 943.5h0M115.1 966.7h0M215.5 930.7h0M117.1 937h0M241.9 979.6h0M121.5 928.4h0M119.1 909.7h0M218.1 921.5h0M184.3 948.5h0M131.8 977h0M123.3 968.1h0M121.3 945.8h0M135 930.7h0M242.9 984.1h0M148 992.3h0M134.7 943.2h0M226.3 967.9h0M119 1002.7h0M135 929.6h0M214.7 936.6h0M146.9 911h0M117.5 962h0M139.3 963.9h0M157.6 949.1h0M241.2 952.1h0M186.5 990.4h0M130.7 919.1h0M234 985.6h0M140.2 922.7h0M209.9 997.8h0M132.7 998.8h0M230.2 964.1h0M164.7 914.1h0M110.2 1000.1h0M138.6 974.2h0M141.3 986.2h0M189.6 933.1h0M129.7 975.8h0M114.5 926.6h0M184.3 989h0M192.1 931.7h0M235.2 924.1h0M107.1 930.6h0M168.1 909.8h0M129.8 940.6h0M186.1 916.9h0M156.2 992.9h0M244.2 969.5h0M203.1 962.2h0M124.7 907.2h0M107.2 994.8h0M204.4 1000.1h0M107.7 967.4h0M173.3 976.8h0M150.1 1003.7h0M115.4 958.4h0M209.6 993.8h0M209.6 974.1h0M217.6 995.3h0M154.8 972.3h0M232.9 990.9h0M164.1 982.8h0M227.6 961h0M193.6 942h0M187.6 964.6h0M116.1 967.7h0M246 991.8h0M208.3 942.6h0M209.3 961.9h0M167.4 987.6h0M116.6 978.8h0M108.9 963.9h0M173.1 926.7h0M204.1 953.5h0M192.1 995.8h0M141.1 904.8h0M147.5 971.6h0M133.5 920.7h0M233.6 969.8h0M167.6 993h0M151.2 970.4h0M132.9 946.8h0M219.4 995.2h0M230 942.2h0M187.7 935.4h0M124.1 953.4h0M223.8 988.7h0M205.9 998.8h0M144.1 920.6h0M168.8 931.2h0M135.2 945.1h0M193.7 953.1h0M149.6 987.7h0M244.4 949h0M115.3 906.9h0M228.9 907.9h0M205.5 960.8h0M148.7 982.9h0M107.4 917.3h0M169.4 906.2h0M222.8 927.5h0M124.7 908.4h0M194.2 948.4h0M194.3 969.3h0M219.6 999.6h0M202.1 923.7h0M172.3 921.6h0M106.2 951h0M206.3 921.6h0M143.5 938.3h0M203.9 955.8h0M192.1 979.4h0M160.7 983h0M233.7 912.4h0M237.4 976h0M123.2 949.1h0M193.7 994.8h0M158.3 960.6h0M229.8 983.5h0M239.1 950.1h0M197.4 924.2h0M207.4 985.6h0M196 975.5h0M135.1 993.8h0M244.2 1001.5h0M181.1 982.9h0M150.3 994.8h0M226.5 938.6h0M116.5 947.8h0M183 980.6h0M174.1 906.5h0M219.8 910.1h0M218.5 921h0M152.4 982.6h0M124.7 918.6h0M178.2 976.1h0M224.2 972.7h0M239.3 953h0M239.8 912.3h0M136.2 956.4h0M146 976.7h0M195.6 956h0M224.7 959.8h0" fill="none" stroke="#3a3a44" stroke-width="2.1" stroke-linecap="round" opacity="0.55" filter="url(#mb)"/>
</g>
<g clip-path="url(#m01)"><rect x="255.8" y="903.7" width="142.3" height="100.1" fill="#f3f3f0"/>
<rect x="255.8" y="903.7" width="142.3" height="100.1" filter="url(#gr3)" opacity="0.3"/>
<g filter="url(#c1a)"><rect x="247.8" y="895.7" width="158.3" height="116.1" opacity="0.01"/>
<rect x="247.8" y="895.7" width="31.9" height="33.2" opacity="0.5"/>
<rect x="279.5" y="895.7" width="23.9" height="33.2" opacity="0.27"/>
<rect x="303.2" y="895.7" width="23.9" height="33.2" opacity="0.27"/>
<rect x="327" y="895.7" width="23.9" height="33.2" opacity="0.62"/>
<rect x="350.7" y="895.7" width="23.9" height="33.2" opacity="0.5"/>
<rect x="374.4" y="895.7" width="31.9" height="33.2" opacity="0.27"/>
<rect x="247.8" y="928.7" width="31.9" height="25.2" opacity="0.27"/>
<rect x="279.5" y="928.7" width="23.9" height="25.2" opacity="0.27"/>
<rect x="303.2" y="928.7" width="23.9" height="25.2" opacity="0.27"/>
<rect x="327" y="928.7" width="23.9" height="25.2" opacity="0.62"/>
<rect x="350.7" y="928.7" width="23.9" height="25.2" opacity="0.5"/>
<rect x="374.4" y="928.7" width="31.9" height="25.2" opacity="0.27"/>
<rect x="247.8" y="953.8" width="31.9" height="25.2" opacity="0.62"/>
<rect x="279.5" y="953.8" width="23.9" height="25.2" opacity="0.5"/>
<rect x="303.2" y="953.8" width="23.9" height="25.2" opacity="0.62"/>
<rect x="327" y="953.8" width="23.9" height="25.2" opacity="0.62"/>
<rect x="350.7" y="953.8" width="23.9" height="25.2" opacity="0.27"/>
<rect x="374.4" y="953.8" width="31.9" height="25.2" opacity="0.15"/>
<rect x="247.8" y="978.8" width="31.9" height="33.2" opacity="0.27"/>
<rect x="279.5" y="978.8" width="23.9" height="33.2" opacity="0.27"/>
<rect x="303.2" y="978.8" width="23.9" height="33.2" opacity="0.27"/>
<rect x="327" y="978.8" width="23.9" height="33.2" opacity="0.27"/>
<rect x="350.7" y="978.8" width="23.9" height="33.2" opacity="0.15"/>
<rect x="374.4" y="978.8" width="31.9" height="33.2" opacity="0.15"/>
</g>
<path d="M300.2 941.9h0M376.1 993.8h0M285.4 988.9h0M393.6 956.2h0M337.3 923.8h0M332.1 954.1h0M341.9 906.5h0M393.7 955.4h0M312.8 983.9h0M335.9 952.9h0M354.1 910.3h0M332.5 945.1h0M392 996.1h0M294.1 951.1h0M273.9 947.1h0M371.9 993.8h0M323.6 935.5h0M283 965.6h0M387.5 916.7h0M366.7 906h0M283.4 926.4h0M353.6 935.9h0M306.4 965.7h0M270.7 976.9h0M273.3 954.8h0M291.5 923.5h0M331.3 947.4h0M309.3 945.1h0M331.1 919.7h0M284.9 966.9h0M346.7 956.7h0M376.9 964.9h0M377.7 927h0M361.2 984.8h0M384.3 935.3h0M300.6 996.1h0M286.8 1003.6h0M382.1 917.1h0M289.9 976.4h0M292.7 913.4h0M374.2 945.9h0M368.2 916.3h0M313.1 972.3h0M258.3 923.8h0M352.9 994.9h0M393.6 915.3h0M327.8 979.6h0M327.3 972.3h0M282.7 910.8h0M270.9 907.4h0M334.3 955.2h0M336.7 918.4h0M282.1 924.1h0M375.4 1002.8h0M387.7 913.2h0M264.6 998.9h0M321.6 980.2h0M302.3 950.4h0M329.1 946.8h0M341.3 905h0M355.6 988.2h0M281.6 949.1h0M361 944.3h0M283.6 920.2h0M328.7 905.2h0M382.9 984h0M356.1 989.9h0M345.4 944.2h0M341.1 954.2h0M395.6 984.3h0M292.6 994.9h0M361.7 981.6h0M371.7 944.3h0M383.4 991.8h0M354.7 980.5h0M364.7 944.3h0M358.6 910.8h0M304.4 950.6h0M257.3 939.3h0M346.7 966.2h0M288.8 998.3h0M350.6 937.5h0M349.7 960.7h0M331.7 942.7h0M398.1 968h0M355.6 980h0M395.3 906h0M343.4 977.7h0M292.3 943.9h0M263 923.3h0M309.3 913.6h0M291.5 994.4h0M334.1 954.5h0M393.4 960.6h0M397.4 967.6h0M371 911.3h0M340.8 979.7h0M262.2 996.8h0M278.6 950.9h0M279.9 953.3h0M342.8 909.6h0M390.3 945.8h0M330.8 963.5h0M307.8 932.3h0M349 959.8h0M296.1 975.4h0M297.9 905.1h0M290.7 908h0M278.1 979.2h0M311.3 993.5h0M362.3 908.7h0M396.5 998.2h0M266.3 994.3h0M316.9 951.5h0M394.3 928.1h0M330.3 997.5h0M358.6 950.6h0M395.1 985.5h0M341.7 915.2h0M344.6 949.3h0M284.8 908.9h0M330.9 916.1h0M318.8 970.6h0M320.6 929.9h0M338.7 945.7h0M366.5 956.8h0M397.8 999.1h0M360.3 927.6h0M272 993.1h0M367.4 966.3h0M306.9 930.9h0M353.3 960.2h0M340 967.1h0M363 922.7h0M291.2 1001.8h0M386.1 991.7h0M261.4 909.8h0M294.4 946.3h0M344.5 914h0M332.9 911h0M268.1 971.4h0M334.2 966.9h0M308.9 951.6h0M285.8 938.1h0M361.8 987.6h0M266.4 915.7h0M370.9 966.1h0M365.2 925h0M316.2 929.5h0M371 940.6h0M348.8 1002.7h0M302.1 958.6h0M362 995.9h0M316.7 940.7h0M269.6 991.3h0M267 912h0M336.1 952.2h0M353.3 933.6h0M366.2 911.3h0M286.1 970h0M267.4 934.1h0M359 973.2h0M296.1 918h0M306.7 976.4h0M307.9 915.4h0M356.7 960.7h0M386.5 997.8h0M385.8 947.5h0M370.1 934.2h0M301 943.7h0" fill="none" stroke="#3a3a44" stroke-width="2.1" stroke-linecap="round" opacity="0.55" filter="url(#mb)"/>
</g>
<g clip-path="url(#m02)"><rect x="407.8" y="903.7" width="141.7" height="100.1" fill="#f3f3f0"/>
<rect x="407.8" y="903.7" width="141.7" height="100.1" filter="url(#gr3)" opacity="0.3"/>
<g filter="url(#c1b)"><rect x="399.8" y="895.7" width="157.7" height="116.1" opacity="0.01"/>
<rect x="399.8" y="895.7" width="31.8" height="33.2" opacity="0.27"/>
<rect x="431.4" y="895.7" width="23.8" height="33.2" opacity="0.5"/>
<rect x="455" y="895.7" width="23.8" height="33.2" opacity="0.75"/>
<rect x="478.6" y="895.7" width="23.8" height="33.2" opacity="0.5"/>
<rect x="502.3" y="895.7" width="23.8" height="33.2" opacity="0.27"/>
<rect x="525.9" y="895.7" width="31.8" height="33.2" opacity="0.5"/>
<rect x="399.8" y="928.7" width="31.8" height="25.2" opacity="0.27"/>
<rect x="431.4" y="928.7" width="23.8" height="25.2" opacity="0.75"/>
<rect x="455" y="928.7" width="23.8" height="25.2" opacity="0.75"/>
<rect x="478.6" y="928.7" width="23.8" height="25.2" opacity="0.5"/>
<rect x="502.3" y="928.7" width="23.8" height="25.2" opacity="0.5"/>
<rect x="525.9" y="928.7" width="31.8" height="25.2" opacity="0.5"/>
<rect x="399.8" y="953.8" width="31.8" height="25.2" opacity="0.27"/>
<rect x="431.4" y="953.8" width="23.8" height="25.2" opacity="0.5"/>
<rect x="455" y="953.8" width="23.8" height="25.2" opacity="0.75"/>
<rect x="478.6" y="953.8" width="23.8" height="25.2" opacity="0.75"/>
<rect x="502.3" y="953.8" width="23.8" height="25.2" opacity="0.27"/>
<rect x="525.9" y="953.8" width="31.8" height="25.2" opacity="0.27"/>
<rect x="399.8" y="978.8" width="31.8" height="33.2" opacity="0.5"/>
<rect x="431.4" y="978.8" width="23.8" height="33.2" opacity="0.27"/>
<rect x="455" y="978.8" width="23.8" height="33.2" opacity="0.75"/>
<rect x="478.6" y="978.8" width="23.8" height="33.2" opacity="0.5"/>
<rect x="502.3" y="978.8" width="23.8" height="33.2" opacity="0.27"/>
<rect x="525.9" y="978.8" width="31.8" height="33.2" opacity="0.27"/>
</g>
<path d="M540.2 993.3h0M443 939.9h0M459.6 940.1h0M463.9 942.5h0M435.4 960.1h0M520.7 957.8h0M526.3 960h0M432.8 979.7h0M532.6 931.9h0M411 955.3h0M484.9 960.5h0M544.7 968.9h0M521.8 910.1h0M485.3 982.6h0M419.7 911.9h0M512.2 993.7h0M419.8 967.2h0M428.2 978.4h0M499.8 928.3h0M439 980.3h0M481.7 980.2h0M463.7 937.5h0M545 971h0M477.8 957.5h0M510 974.6h0M537.5 944.8h0M524.9 970.4h0M528.7 984.4h0M526 992.7h0M543.5 967.8h0M482 974.8h0M521.5 945.9h0M467.4 918.3h0M512.8 1002.9h0M461 920.5h0M436.8 946.2h0M449.2 1000.8h0M416.2 934.6h0M424.1 968.6h0M517.7 921.7h0M416.6 949.6h0M490.6 994.7h0M413 914.6h0M433.9 925.5h0M441.2 975.5h0M492.1 926.1h0M434 931.8h0M432.2 979.5h0M452 958.6h0M523.6 951.7h0M444.7 992.5h0M537.3 937.9h0M485.4 999.5h0M476.2 925.8h0M414.8 998.5h0M521.4 942.2h0M482.6 955.3h0M446.7 1002.8h0M501 927.5h0M409.3 951h0M460.5 983.5h0M508.9 964.4h0M430.1 919.4h0M453.4 929.7h0M531 955.4h0M498.1 1003.1h0M445.6 957.2h0M429.1 980.8h0M408 985.9h0M527.7 986h0M419.5 930.7h0M509.3 913.4h0M475.8 950.6h0M543.2 962.4h0M529.3 934.1h0M519.6 945.4h0M537.7 912.8h0M524.9 924.6h0M484.8 956.3h0M430.1 987h0M451.9 934.8h0M418.6 934.3h0M474 975.3h0M458.8 972.5h0M422.8 943.2h0M473.2 1000.5h0M525.4 969.2h0M409.5 941.5h0M508.4 927.5h0M487.7 949.6h0M409.3 1003h0M521.1 924.4h0M495.1 932.8h0M461.1 957.7h0M450.1 937.5h0M463.4 970.4h0M444.1 923.7h0M511.4 936.7h0M541.7 960h0M510.4 936.9h0M525 912.9h0M427.8 913.1h0M503.8 974.6h0M433.3 944h0M526.4 963h0M420.6 926.4h0M430.1 916.1h0M465.4 911h0M538.3 946.4h0M480.3 968.5h0M516.5 985.9h0M462.5 936.9h0M466.2 905.2h0M464.6 973.8h0M546.9 982.7h0M501.4 964.6h0M410.4 936.8h0M456.3 968.8h0M422.9 941.5h0M480 982.6h0M524.7 964.9h0M430.2 980.4h0M535.8 958.6h0M457.8 953.8h0M427.9 975.1h0M547.6 955.4h0M509.2 987.3h0M435.7 998.3h0M496.7 923.5h0M419.6 928.2h0M489.5 973.5h0M454.4 996.7h0M459 950h0M425.4 1001.2h0M427 994.2h0M484.8 959.8h0M487.2 930.2h0M536.7 1003h0M523.6 963.9h0M425.2 986.2h0M448.7 993.5h0M441.9 961.1h0M525.5 922.3h0M485.4 911.3h0M412.3 921.7h0M547.7 997.7h0M501.1 934.5h0M502.9 977.5h0M461.9 962.9h0M521.7 905.3h0M436.1 950.5h0M428.1 942.4h0M488.5 921.1h0M481.5 930.1h0M488.3 936.9h0M498.7 907.5h0M502.9 918.2h0M543.7 963.8h0M474.4 944.9h0M496.2 972.7h0M515.2 978.9h0M476.6 1003.3h0M526.6 989.3h0M465.8 947.1h0M488 994.3h0M482.3 956.3h0M469 994.2h0M453.2 909.2h0M510.6 993.8h0M511.5 963.5h0" fill="none" stroke="#3a3a44" stroke-width="2.1" stroke-linecap="round" opacity="0.55" filter="url(#mb)"/>
</g>
<g clip-path="url(#m03)"><rect x="559.5" y="903.7" width="141.7" height="100.1" fill="#f3f3f0"/>
<rect x="559.5" y="903.7" width="141.7" height="100.1" filter="url(#gr3)" opacity="0.3"/>
<g filter="url(#c1b)"><rect x="551.5" y="895.7" width="157.7" height="116.1" opacity="0.01"/>
<rect x="551.5" y="895.7" width="31.8" height="33.2" opacity="1.0"/>
<rect x="583.1" y="895.7" width="23.8" height="33.2" opacity="1.0"/>
<rect x="606.7" y="895.7" width="23.8" height="33.2" opacity="0.75"/>
<rect x="630.4" y="895.7" width="23.8" height="33.2" opacity="1.0"/>
<rect x="654" y="895.7" width="23.8" height="33.2" opacity="0.75"/>
<rect x="677.6" y="895.7" width="31.8" height="33.2" opacity="0.75"/>
<rect x="551.5" y="928.7" width="31.8" height="25.2" opacity="0.75"/>
<rect x="583.1" y="928.7" width="23.8" height="25.2" opacity="1.0"/>
<rect x="606.7" y="928.7" width="23.8" height="25.2" opacity="1.0"/>
<rect x="630.4" y="928.7" width="23.8" height="25.2" opacity="0.75"/>
<rect x="654" y="928.7" width="23.8" height="25.2" opacity="1.0"/>
<rect x="677.6" y="928.7" width="31.8" height="25.2" opacity="0.75"/>
<rect x="551.5" y="953.8" width="31.8" height="25.2" opacity="0.75"/>
<rect x="583.1" y="953.8" width="23.8" height="25.2" opacity="1.0"/>
<rect x="606.7" y="953.8" width="23.8" height="25.2" opacity="1.0"/>
<rect x="630.4" y="953.8" width="23.8" height="25.2" opacity="1.0"/>
<rect x="654" y="953.8" width="23.8" height="25.2" opacity="0.75"/>
<rect x="677.6" y="953.8" width="31.8" height="25.2" opacity="1.0"/>
<rect x="551.5" y="978.8" width="31.8" height="33.2" opacity="0.75"/>
<rect x="583.1" y="978.8" width="23.8" height="33.2" opacity="0.75"/>
<rect x="606.7" y="978.8" width="23.8" height="33.2" opacity="0.75"/>
<rect x="630.4" y="978.8" width="23.8" height="33.2" opacity="0.5"/>
<rect x="654" y="978.8" width="23.8" height="33.2" opacity="0.75"/>
<rect x="677.6" y="978.8" width="31.8" height="33.2" opacity="0.75"/>
</g>
<path d="M666 934.2h0M643.6 910.7h0M577.1 948.4h0M630.7 943.4h0M566.9 973.3h0M634.1 927.6h0M602.9 943.3h0M592.9 910.6h0M688.6 1000.4h0M653.8 990.4h0M619.2 984.3h0M590.9 978.4h0M639.8 994.1h0M573.5 983h0M577 957.5h0M694.3 903.8h0M594.1 933.7h0M605.5 910h0M686.3 985.3h0M615.8 939.4h0M642.5 908.3h0M563.9 993.6h0M603.1 953.6h0M691.8 1001.5h0M626.5 924.4h0M601.4 996.1h0M686.6 923.3h0M678.2 939.2h0M626.5 920.9h0M684.2 1003.3h0M588.1 967h0M586.6 991.8h0M566.6 914.3h0M662.3 935h0M687.1 990.7h0M660.6 917.2h0M658.1 997.6h0M622.6 911.6h0M591.1 934.4h0M660.2 923.4h0M585.1 927.3h0M653.7 982.8h0M612.3 970h0M684.8 962.7h0M591.9 933.8h0M690.8 970.5h0M598.7 967.8h0M572.3 1002.1h0M621.9 956.6h0M634.7 908.2h0M644.5 932.2h0M595.1 984.1h0M571.9 932.2h0M666.6 928.3h0M599 958.6h0M585.9 993.5h0M699.5 907.1h0M624.9 978.8h0M614 996.7h0M630.3 921.7h0M638.3 968.3h0M610.5 969.6h0M670.5 955.4h0M631.1 988.3h0M656.5 955.8h0M694.3 921.1h0M670 920.2h0M645.7 927.3h0M621.9 981.1h0M671 982.9h0M592.9 952.7h0M590.8 961.8h0M630.2 907.2h0M644.1 975.2h0M640.6 991.1h0M585 918.9h0M562 953.4h0M621.1 947.9h0M596.8 983.6h0M569.8 994.5h0M640.1 958.1h0M671.7 927.5h0M580.2 934.8h0M565.5 935.2h0M647.5 956.3h0M597 962.6h0M572 985.8h0M583.8 929.2h0M582.1 972.8h0M677.2 982.4h0M568.2 944.8h0M611.1 925.4h0M697 907.9h0M628.9 979.9h0M699.2 918.2h0M624 978.3h0M565.1 927.8h0M685.6 917.9h0M615.2 933.5h0M619.6 911.4h0M564.4 1003.4h0M667.7 977.2h0M592.1 929h0M637.7 927.9h0M624.9 997h0M611.1 937.4h0M698.5 964.9h0M565.1 944h0M651.6 909.6h0M608.1 973.2h0M682 962.8h0M685.1 950h0M615.2 988.1h0M613.5 981.9h0M590 938.5h0M585.5 958.7h0M582.7 924.1h0M589.9 950.5h0M603.2 948.5h0M700.3 971.7h0M681.7 924.2h0M613.8 911h0M657.5 940h0M598.4 905.6h0M585.3 930h0M615.2 996.1h0M660.8 930.6h0M610.7 919.1h0M692.2 939.7h0M668 976.1h0M688 905.7h0M605.1 942.2h0M571.3 992h0M605.6 980.8h0M633.1 909.2h0M615.3 927.6h0M565.3 918.8h0M643.9 906.9h0M603.8 946.1h0M636.6 917.3h0M659.6 929.8h0M662.3 970.4h0M580.4 924.2h0M599.2 975h0M616.9 942.4h0M682.2 926.3h0M600.9 938.2h0M590.1 907.8h0M563 966.8h0M639.7 984.7h0M697.7 933.5h0M654.5 995.7h0M590.1 972.7h0M654 999.3h0M682.5 927.2h0M649.1 912.7h0M620.1 943h0M568 942.1h0M606 953.5h0M599.1 919.6h0M616.5 951.3h0M583.1 970.3h0M593.5 913h0M607.9 946h0M580.9 962h0M658.9 959.1h0M658.7 906h0M615 940.2h0M568.4 944.2h0M567.2 953.3h0" fill="none" stroke="#3a3a44" stroke-width="2.1" stroke-linecap="round" opacity="0.55" filter="url(#mb)"/>
</g>
<g clip-path="url(#m04)"><rect x="710.9" y="903.7" width="142.3" height="100.1" fill="#f3f3f0"/>
<rect x="710.9" y="903.7" width="142.3" height="100.1" filter="url(#gr3)" opacity="0.3"/>
<g filter="url(#c1a)"><rect x="702.9" y="895.7" width="158.3" height="116.1" opacity="0.01"/>
<rect x="702.9" y="895.7" width="31.9" height="33.2" opacity="0.27"/>
<rect x="734.6" y="895.7" width="23.9" height="33.2" opacity="0.75"/>
<rect x="758.3" y="895.7" width="23.9" height="33.2" opacity="0.75"/>
<rect x="782" y="895.7" width="23.9" height="33.2" opacity="0.75"/>
<rect x="805.8" y="895.7" width="23.9" height="33.2" opacity="0.5"/>
<rect x="829.5" y="895.7" width="31.9" height="33.2" opacity="0.27"/>
<rect x="702.9" y="928.7" width="31.9" height="25.2" opacity="0.75"/>
<rect x="734.6" y="928.7" width="23.9" height="25.2" opacity="0.75"/>
<rect x="758.3" y="928.7" width="23.9" height="25.2" opacity="0.75"/>
<rect x="782" y="928.7" width="23.9" height="25.2" opacity="0.75"/>
<rect x="805.8" y="928.7" width="23.9" height="25.2" opacity="0.75"/>
<rect x="829.5" y="928.7" width="31.9" height="25.2" opacity="0.27"/>
<rect x="702.9" y="953.8" width="31.9" height="25.2" opacity="0.75"/>
<rect x="734.6" y="953.8" width="23.9" height="25.2" opacity="0.5"/>
<rect x="758.3" y="953.8" width="23.9" height="25.2" opacity="0.75"/>
<rect x="782" y="953.8" width="23.9" height="25.2" opacity="0.5"/>
<rect x="805.8" y="953.8" width="23.9" height="25.2" opacity="0.5"/>
<rect x="829.5" y="953.8" width="31.9" height="25.2" opacity="0.27"/>
<rect x="702.9" y="978.8" width="31.9" height="33.2" opacity="0.27"/>
<rect x="734.6" y="978.8" width="23.9" height="33.2" opacity="0.27"/>
<rect x="758.3" y="978.8" width="23.9" height="33.2" opacity="0.5"/>
<rect x="782" y="978.8" width="23.9" height="33.2" opacity="0.27"/>
<rect x="805.8" y="978.8" width="23.9" height="33.2" opacity="0.27"/>
<rect x="829.5" y="978.8" width="31.9" height="33.2" opacity="0.27"/>
</g>
<path d="M794.3 950.6h0M757.2 929.1h0M714.2 938.4h0M837.8 960.3h0M748.2 970.6h0M737.4 950.7h0M798.5 999.3h0M762.5 961.4h0M845 980.9h0M800.2 965.8h0M769.4 945.3h0M750.2 986.7h0M836.1 941.9h0M840.3 907.5h0M730.2 954.5h0M754.8 939.8h0M849.9 918.7h0M738.3 926.6h0M807.7 927.2h0M711 958.1h0M767 927.7h0M781.1 968.8h0M788.9 966.2h0M790.7 986.9h0M848.8 937.1h0M760.2 992.4h0M755.5 975.4h0M809.9 972.4h0M848.1 986.2h0M733.6 965.9h0M780.7 960.1h0M763.5 932.3h0M817.5 957.2h0M744.6 928.7h0M757.1 921.5h0M784 916.3h0M719.9 910.6h0M725.4 974.2h0M726.9 948.9h0M820.8 951.8h0M734 990.4h0M834.7 909h0M747 954.5h0M824.2 943h0M812.8 928.9h0M812.7 936.4h0M758.4 979.7h0M830.8 986.6h0M791.7 945.8h0M811.5 966.1h0M829.2 983.9h0M728.7 941.4h0M806.1 926.8h0M737.2 905.1h0M794.2 997.9h0M849 917.1h0M808.7 945.7h0M800.8 943.4h0M843.7 1002.7h0M717.8 975.1h0M727.7 907.9h0M751.6 976.9h0M852.3 915.7h0M757.9 906.4h0M788.1 952.1h0M764 934.7h0M824.8 987.7h0M751.3 942.9h0M798.8 980.3h0M850.5 942.7h0M809.7 958.3h0M824.8 918.4h0M735.8 914.4h0M843.7 928.9h0M780.4 915.7h0M757 905.6h0M791.4 918.1h0M799.9 931.1h0M743.3 952h0M763 929.7h0M718.2 910.1h0M837.9 934.7h0M722.1 922h0M779.7 1003.5h0M739.7 990.5h0M779.8 945.2h0M825.7 943.3h0M719.1 958.8h0M804.4 966.1h0M750.3 997.7h0M833.9 1003.2h0M774 987.2h0M814.1 921.3h0M714.7 920.6h0M727.8 911.2h0M762 979.1h0M755 955.2h0M712.4 924.7h0M847.4 904.8h0M785.9 984.8h0M823.6 977.3h0M767.7 984.1h0M828.7 980.5h0M851.2 913.8h0M846.1 944h0M811.3 928.8h0M840.3 906.1h0M793 926.4h0M766.2 940.7h0M804.4 984.9h0M762.8 967.6h0M761.3 931.6h0M839.7 935.9h0M724.3 937.2h0M816.4 924.9h0M816.7 958.4h0M807.7 921.4h0M726 918h0M760.8 946.8h0M712.2 954h0M768.3 935.9h0M787.3 999h0M740 991.8h0M756.6 979.2h0M726.3 1002.5h0M772.1 1000.1h0M742.2 944.6h0M811.4 921.5h0M749.8 971.5h0M845.8 936h0M737 939.5h0M851.7 918.5h0M801.2 941.5h0M802.5 925h0M798.6 992.6h0M832.8 966.6h0M782.7 960.5h0M727.1 987.5h0M809.1 949.1h0M805.6 945.7h0M765.6 926.7h0M796.4 961h0M784.2 906.9h0M800.2 948.4h0M795.3 963.2h0M843.5 918.9h0M777.6 1003.1h0M815.9 935h0M815.7 1002.7h0M768.1 990.5h0M728.9 1002.8h0M780.8 927.1h0M830.5 968.7h0M844.3 986.7h0M824.4 954.9h0M852.3 910.2h0M834.7 974.9h0M746.6 984.5h0M775.5 957.4h0M834.1 923.3h0M750.7 968.1h0M721.4 959.3h0M822.9 952.8h0M745.3 983.8h0M832.6 980.9h0M789.1 994.4h0M824.3 918.9h0M763 913.7h0M716.1 938.3h0M834 987.2h0" fill="none" stroke="#3a3a44" stroke-width="2.1" stroke-linecap="round" opacity="0.55" filter="url(#mb)"/>
</g>
<g clip-path="url(#m10)"><rect x="104.7" y="1008" width="142.4" height="99.5" fill="#f3f3f7"/>
<rect x="104.7" y="1008" width="142.4" height="99.5" filter="url(#gr3)" opacity="0.3"/>
<g filter="url(#c2)"><rect x="96.7" y="1000" width="158.4" height="115.5" opacity="0.01"/>
<rect x="96.7" y="1000" width="31.9" height="33.1" opacity="0.5"/>
<rect x="128.4" y="1000" width="23.9" height="33.1" opacity="0.5"/>
<rect x="152.2" y="1000" width="23.9" height="33.1" opacity="0.27"/>
<rect x="175.9" y="1000" width="23.9" height="33.1" opacity="0.5"/>
<rect x="199.6" y="1000" width="23.9" height="33.1" opacity="0.5"/>
<rect x="223.4" y="1000" width="31.9" height="33.1" opacity="0.27"/>
<rect x="96.7" y="1032.9" width="31.9" height="25.1" opacity="0.75"/>
<rect x="128.4" y="1032.9" width="23.9" height="25.1" opacity="0.5"/>
<rect x="152.2" y="1032.9" width="23.9" height="25.1" opacity="0.27"/>
<rect x="175.9" y="1032.9" width="23.9" height="25.1" opacity="0.5"/>
<rect x="199.6" y="1032.9" width="23.9" height="25.1" opacity="0.5"/>
<rect x="223.4" y="1032.9" width="31.9" height="25.1" opacity="0.5"/>
<rect x="96.7" y="1057.8" width="31.9" height="25.1" opacity="0.5"/>
<rect x="128.4" y="1057.8" width="23.9" height="25.1" opacity="0.5"/>
<rect x="152.2" y="1057.8" width="23.9" height="25.1" opacity="0.5"/>
<rect x="175.9" y="1057.8" width="23.9" height="25.1" opacity="0.5"/>
<rect x="199.6" y="1057.8" width="23.9" height="25.1" opacity="0.27"/>
<rect x="223.4" y="1057.8" width="31.9" height="25.1" opacity="0.5"/>
<rect x="96.7" y="1082.6" width="31.9" height="33.1" opacity="0.5"/>
<rect x="128.4" y="1082.6" width="23.9" height="33.1" opacity="0.27"/>
<rect x="152.2" y="1082.6" width="23.9" height="33.1" opacity="0.5"/>
<rect x="175.9" y="1082.6" width="23.9" height="33.1" opacity="0.75"/>
<rect x="199.6" y="1082.6" width="23.9" height="33.1" opacity="0.5"/>
<rect x="223.4" y="1082.6" width="31.9" height="33.1" opacity="0.5"/>
</g>
<path d="M121.4 1026.1h0M160 1092.5h0M192.6 1097.7h0M114.9 1106.3h0M134.1 1070.6h0M229.5 1080.4h0M132.8 1074.5h0M166 1009.5h0M153.1 1039.4h0M194.4 1035.7h0M190.6 1077.1h0M130.4 1020.7h0M203.5 1054.4h0M123.1 1019.5h0M238.7 1068.7h0M155.6 1027.5h0M246.4 1076.8h0M209.5 1043.9h0M148.9 1048.6h0M125.5 1070.8h0M165.2 1089.6h0M162.9 1053.5h0M176.8 1101.7h0M154 1078h0M138.2 1065.6h0M145.3 1094.8h0M145.5 1093h0M201.1 1053.3h0M237.7 1046.6h0M210.5 1067.8h0M168.6 1014.4h0M164.4 1036h0M167.5 1103h0M146.4 1077.1h0M200.4 1032.3h0M163.3 1021.2h0M232.2 1033h0M164.6 1042h0M221.5 1092.6h0M188.8 1062.3h0M118.9 1097.2h0M117.3 1044.2h0M158 1079.9h0M200 1042.2h0M232.6 1102.5h0M108 1071h0M171.5 1044h0M170.9 1039.4h0M200.2 1068.3h0M242.9 1105.2h0M246 1047.3h0M222.7 1072.7h0M204.5 1107.3h0M114.2 1054h0M161.8 1073.3h0M135.8 1106.5h0M134.5 1044.8h0M125.1 1047.3h0M210.3 1016.3h0M128.5 1072.6h0M193.4 1081.8h0M140.8 1088.7h0M208.8 1085.2h0M121.7 1054.6h0M106.9 1093.5h0M239.2 1097.1h0M108.1 1042.9h0M181 1061.1h0M120.5 1086.5h0M147.6 1058.5h0M122.4 1064.5h0M123.2 1016.8h0M177.6 1037.3h0M215.4 1032.6h0M163.6 1013.4h0M135.7 1052.9h0M184.2 1053.7h0M225.8 1018.4h0M225.8 1023.4h0M242.9 1060.2h0M162.6 1068.9h0M227.7 1103.9h0M163.6 1009.1h0M126.6 1089.4h0M209.3 1078.9h0M127 1060.8h0M108.8 1019h0M147.5 1104.1h0M196.3 1092.3h0M111.3 1049.4h0M115.9 1034h0M120.6 1099.4h0M151.5 1056.7h0M197.8 1096.2h0M239.5 1064.5h0M176 1097.9h0M160.9 1037.8h0M210 1033.7h0M157.1 1050.7h0M172.6 1043.7h0M166 1052.9h0M111.8 1091.1h0M113.5 1060.5h0M182.7 1047.8h0M136.4 1017.9h0M157.7 1039.3h0M173.6 1030.9h0M211.4 1056.5h0M106 1048.5h0M242.3 1008.7h0" fill="none" stroke="#3a3a44" stroke-width="2.1" stroke-linecap="round" opacity="0.55" filter="url(#mb)"/>
</g>
<g clip-path="url(#m11)"><rect x="253.4" y="1008" width="141.9" height="99.5" fill="#f3f3f7"/>
<rect x="253.4" y="1008" width="141.9" height="99.5" filter="url(#gr3)" opacity="0.3"/>
<g filter="url(#c2)"><rect x="245.4" y="1000" width="157.9" height="115.5" opacity="0.01"/>
<rect x="245.4" y="1000" width="31.9" height="33.1" opacity="0.27"/>
<rect x="277.1" y="1000" width="23.9" height="33.1" opacity="0.27"/>
<rect x="300.7" y="1000" width="23.9" height="33.1" opacity="0.03"/>
<rect x="324.4" y="1000" width="23.9" height="33.1" opacity="0.03"/>
<rect x="348" y="1000" width="23.9" height="33.1" opacity="0.03"/>
<rect x="371.7" y="1000" width="31.9" height="33.1" opacity="0.27"/>
<rect x="245.4" y="1032.9" width="31.9" height="25.1" opacity="0.03"/>
<rect x="277.1" y="1032.9" width="23.9" height="25.1" opacity="0.27"/>
<rect x="300.7" y="1032.9" width="23.9" height="25.1" opacity="0.27"/>
<rect x="324.4" y="1032.9" width="23.9" height="25.1" opacity="0.27"/>
<rect x="348" y="1032.9" width="23.9" height="25.1" opacity="0.03"/>
<rect x="371.7" y="1032.9" width="31.9" height="25.1" opacity="0.27"/>
<rect x="245.4" y="1057.8" width="31.9" height="25.1" opacity="0.27"/>
<rect x="277.1" y="1057.8" width="23.9" height="25.1" opacity="0.27"/>
<rect x="300.7" y="1057.8" width="23.9" height="25.1" opacity="0.27"/>
<rect x="324.4" y="1057.8" width="23.9" height="25.1" opacity="0.27"/>
<rect x="348" y="1057.8" width="23.9" height="25.1" opacity="0.03"/>
<rect x="371.7" y="1057.8" width="31.9" height="25.1" opacity="0.27"/>
<rect x="245.4" y="1082.6" width="31.9" height="33.1" opacity="0.03"/>
<rect x="277.1" y="1082.6" width="23.9" height="33.1" opacity="0.5"/>
<rect x="300.7" y="1082.6" width="23.9" height="33.1" opacity="0.03"/>
<rect x="324.4" y="1082.6" width="23.9" height="33.1" opacity="0.27"/>
<rect x="348" y="1082.6" width="23.9" height="33.1" opacity="0.03"/>
<rect x="371.7" y="1082.6" width="31.9" height="33.1" opacity="0.03"/>
</g>
<path d="M337.6 1103.6h0M305.3 1067.5h0M305.7 1038h0M339.8 1066.6h0M298.1 1057.5h0M326.6 1083h0M260.9 1017.2h0M289.2 1034.9h0M366.3 1050.3h0M375.4 1048h0M294 1075.6h0M265.5 1105.9h0M371.4 1040.7h0M298.4 1089.5h0M365.3 1071.9h0M261.5 1084h0M260.2 1070.2h0M331.7 1100.3h0M344 1010.2h0M386 1082.9h0M335.7 1008.6h0M358 1049.6h0M349.8 1105.9h0M383.5 1015.5h0M364.3 1051.8h0M360 1045.6h0M316.9 1051.5h0M270.1 1039.8h0M357.7 1015.1h0M269.8 1091h0M347.9 1062.5h0M269.5 1019.8h0M297.4 1102.9h0M332.9 1099.8h0M283.4 1049.3h0M329.5 1091.5h0M270.9 1094.9h0M320.4 1011.1h0M314.7 1045.6h0M349.1 1100.4h0M323.4 1076.6h0M308.5 1085.5h0M268.3 1081.9h0M277 1066.3h0M282.1 1042.5h0M276.7 1042.8h0M337.3 1059.7h0M308.5 1065.1h0M372.9 1043.6h0M336.2 1055.8h0M392.5 1040.6h0M352.4 1031.2h0M290.5 1080.7h0M335 1033.6h0M262.5 1090.1h0M307 1079.3h0M314.8 1069.5h0M332.8 1105.1h0M382.5 1053.4h0M322.5 1031h0M360.3 1018.2h0M296.9 1092.3h0M258.4 1077.5h0M334 1062.9h0M300.7 1023.1h0M388.3 1084.1h0M367.7 1017.7h0M364.7 1029.7h0M281.7 1061.2h0M339.9 1020h0M361.9 1066h0M381 1099.9h0M351.2 1044.2h0M388.4 1079.5h0M294.7 1093.3h0M356.5 1034.3h0M288.8 1010h0M329.6 1033.2h0M295 1033.2h0M272.1 1056.2h0M292.1 1036.4h0M292.8 1058.7h0M377.4 1023.9h0M375.4 1093h0M339.9 1062.1h0M357.5 1061.2h0M347 1099.5h0M363.4 1033.9h0M261.1 1101.2h0M304.9 1086.3h0M286.5 1053.1h0M306 1080.6h0M387.3 1058.3h0M333.7 1042.7h0M286.3 1102.5h0M269 1101.6h0M346.6 1015.1h0M381.4 1018.1h0M333.6 1019.9h0M393.7 1038.8h0M377.2 1014.1h0M348 1014.8h0M257.6 1064.8h0M392.9 1076.2h0M374.8 1086.1h0M327.4 1015.7h0M328.2 1026.4h0M328.1 1043.2h0M324.2 1027.7h0M353.4 1049.5h0" fill="none" stroke="#3a3a44" stroke-width="2.1" stroke-linecap="round" opacity="0.55" filter="url(#mb)"/>
</g>
<g clip-path="url(#m12)"><rect x="406.9" y="1008" width="142" height="99.5" fill="#f3f3f7"/>
<rect x="406.9" y="1008" width="142" height="99.5" filter="url(#gr3)" opacity="0.3"/>
<g filter="url(#c2)"><rect x="398.9" y="1000" width="158" height="115.5" opacity="0.01"/>
<rect x="398.9" y="1000" width="31.9" height="33.1" opacity="0.5"/>
<rect x="430.6" y="1000" width="23.9" height="33.1" opacity="0.27"/>
<rect x="454.2" y="1000" width="23.9" height="33.1" opacity="0.27"/>
<rect x="477.9" y="1000" width="23.9" height="33.1" opacity="0.5"/>
<rect x="501.6" y="1000" width="23.9" height="33.1" opacity="0.27"/>
<rect x="525.2" y="1000" width="31.9" height="33.1" opacity="0.27"/>
<rect x="398.9" y="1032.9" width="31.9" height="25.1" opacity="0.5"/>
<rect x="430.6" y="1032.9" width="23.9" height="25.1" opacity="0.5"/>
<rect x="454.2" y="1032.9" width="23.9" height="25.1" opacity="0.5"/>
<rect x="477.9" y="1032.9" width="23.9" height="25.1" opacity="0.27"/>
<rect x="501.6" y="1032.9" width="23.9" height="25.1" opacity="0.27"/>
<rect x="525.2" y="1032.9" width="31.9" height="25.1" opacity="0.5"/>
<rect x="398.9" y="1057.8" width="31.9" height="25.1" opacity="0.5"/>
<rect x="430.6" y="1057.8" width="23.9" height="25.1" opacity="0.27"/>
<rect x="454.2" y="1057.8" width="23.9" height="25.1" opacity="0.5"/>
<rect x="477.9" y="1057.8" width="23.9" height="25.1" opacity="0.5"/>
<rect x="501.6" y="1057.8" width="23.9" height="25.1" opacity="0.27"/>
<rect x="525.2" y="1057.8" width="31.9" height="25.1" opacity="0.27"/>
<rect x="398.9" y="1082.6" width="31.9" height="33.1" opacity="0.5"/>
<rect x="430.6" y="1082.6" width="23.9" height="33.1" opacity="0.27"/>
<rect x="454.2" y="1082.6" width="23.9" height="33.1" opacity="0.5"/>
<rect x="477.9" y="1082.6" width="23.9" height="33.1" opacity="0.27"/>
<rect x="501.6" y="1082.6" width="23.9" height="33.1" opacity="0.5"/>
<rect x="525.2" y="1082.6" width="31.9" height="33.1" opacity="0.27"/>
</g>
<path d="M475.9 1015.8h0M476 1063.5h0M545 1063.9h0M426.1 1037.9h0M454.6 1077.9h0M540.2 1105.1h0M541.8 1100.1h0M528.8 1101h0M409.8 1056.7h0M490.8 1076.2h0M493.9 1069h0M539.4 1016.6h0M480.6 1103.5h0M411.4 1019.1h0M530.3 1103.2h0M410.3 1011.2h0M524.7 1076.5h0M480.7 1065.7h0M514.4 1088.4h0M407 1014.8h0M519.7 1105.1h0M525.2 1048.6h0M454.5 1042.5h0M409 1084.6h0M444.1 1066.3h0M481.6 1041.4h0M502.7 1053.3h0M440.2 1095.7h0M431.8 1022.9h0M442.9 1055.7h0M518.2 1041.1h0M440.7 1073.1h0M443.9 1060h0M443.1 1095.3h0M433.1 1031.1h0M449.7 1040.8h0M510.1 1075.1h0M519.1 1061.7h0M418.1 1084h0M441.6 1029.7h0M465.7 1106.5h0M459.5 1043.5h0M536.3 1106.6h0M461.9 1021.5h0M519 1085.8h0M454.9 1086.6h0M460.8 1036.6h0M491.1 1081.8h0M474.5 1089.4h0M408.9 1057.6h0M460.9 1014.5h0M536.8 1022.3h0M436.1 1095.4h0M543.3 1100.7h0M455.5 1100.6h0M427 1079.1h0M541.2 1027.2h0M426.2 1075.5h0M532.2 1080.3h0M541.7 1053.1h0M459.8 1020h0M445.7 1101.4h0M417.1 1026.4h0M456.2 1012.9h0M450.5 1026.2h0M424.3 1060.4h0M483.6 1064.5h0M515.1 1060.4h0M541.4 1016.1h0M438.6 1015.6h0M450.8 1083.7h0M538.1 1058.1h0M429.7 1040.9h0M487.6 1037.3h0M519.5 1104.8h0M472.2 1068h0M527 1054.3h0M434 1101.9h0M545.8 1010.4h0M515.2 1047.9h0M414.3 1024.2h0M431.5 1081.3h0M436.9 1010h0M438.1 1087.5h0M477.8 1073h0M472.9 1026.2h0M409.1 1038.3h0M412.8 1033.9h0M494.8 1044.8h0M474.1 1070.1h0M451.9 1043.5h0M532.4 1065.8h0M466.1 1061.7h0M472.3 1041.1h0M536.6 1031.2h0M539.8 1092.9h0M532.1 1024.2h0M479.2 1106h0M447.9 1025h0M509.6 1031.4h0M489.8 1023.7h0M541.4 1036.3h0M420.7 1076.4h0M456.2 1063.7h0M477.5 1099.8h0M479.9 1045.7h0M407.1 1057.4h0M445.1 1065.1h0M496.6 1054h0M419.7 1057.5h0" fill="none" stroke="#3a3a44" stroke-width="2.1" stroke-linecap="round" opacity="0.55" filter="url(#mb)"/>
</g>
<g clip-path="url(#m13)"><rect x="558.9" y="1008" width="142.3" height="99.5" fill="#f3f3f7"/>
<rect x="558.9" y="1008" width="142.3" height="99.5" filter="url(#gr3)" opacity="0.3"/>
<g filter="url(#c2)"><rect x="550.9" y="1000" width="158.3" height="115.5" opacity="0.01"/>
<rect x="550.9" y="1000" width="31.9" height="33.1" opacity="0.75"/>
<rect x="582.6" y="1000" width="23.9" height="33.1" opacity="1.0"/>
<rect x="606.3" y="1000" width="23.9" height="33.1" opacity="1.0"/>
<rect x="630" y="1000" width="23.9" height="33.1" opacity="0.75"/>
<rect x="653.8" y="1000" width="23.9" height="33.1" opacity="1.0"/>
<rect x="677.5" y="1000" width="31.9" height="33.1" opacity="0.75"/>
<rect x="550.9" y="1032.9" width="31.9" height="25.1" opacity="0.75"/>
<rect x="582.6" y="1032.9" width="23.9" height="25.1" opacity="1.0"/>
<rect x="606.3" y="1032.9" width="23.9" height="25.1" opacity="1.0"/>
<rect x="630" y="1032.9" width="23.9" height="25.1" opacity="1.0"/>
<rect x="653.8" y="1032.9" width="23.9" height="25.1" opacity="1.0"/>
<rect x="677.5" y="1032.9" width="31.9" height="25.1" opacity="1.0"/>
<rect x="550.9" y="1057.8" width="31.9" height="25.1" opacity="0.75"/>
<rect x="582.6" y="1057.8" width="23.9" height="25.1" opacity="1.0"/>
<rect x="606.3" y="1057.8" width="23.9" height="25.1" opacity="1.0"/>
<rect x="630" y="1057.8" width="23.9" height="25.1" opacity="1.0"/>
<rect x="653.8" y="1057.8" width="23.9" height="25.1" opacity="0.75"/>
<rect x="677.5" y="1057.8" width="31.9" height="25.1" opacity="1.0"/>
<rect x="550.9" y="1082.6" width="31.9" height="33.1" opacity="1.0"/>
<rect x="582.6" y="1082.6" width="23.9" height="33.1" opacity="0.75"/>
<rect x="606.3" y="1082.6" width="23.9" height="33.1" opacity="0.75"/>
<rect x="630" y="1082.6" width="23.9" height="33.1" opacity="0.75"/>
<rect x="653.8" y="1082.6" width="23.9" height="33.1" opacity="0.75"/>
<rect x="677.5" y="1082.6" width="31.9" height="33.1" opacity="0.75"/>
</g>
<path d="M627.5 1071.8h0M696.9 1035.9h0M621.9 1016.4h0M672.7 1031.3h0M676.9 1087.4h0M595.1 1097.8h0M630.6 1050.4h0M637.9 1102.1h0M628.6 1056h0M600.3 1091.7h0M630.5 1042.1h0M586.9 1029.4h0M677.6 1087.9h0M698.2 1099.3h0M656.4 1087.3h0M660.2 1088.6h0M672.9 1025.5h0M674.8 1038.2h0M593.6 1099.5h0M562.2 1058.9h0M607.7 1086.8h0M645.8 1098.6h0M691.6 1072.1h0M568.1 1074.4h0M574.5 1105.7h0M682.9 1038.9h0M585.4 1077.1h0M666.8 1106h0M647.5 1020.5h0M662.3 1013.8h0M682.4 1084.5h0M670.7 1094.9h0M639.9 1101.9h0M649.8 1056.9h0M613.6 1043.2h0M562.2 1024h0M672.1 1030.8h0M651.9 1085.1h0M657.7 1059.3h0M603.9 1035.2h0M585.6 1072.5h0M656.6 1101.8h0M605.9 1100.2h0M688.6 1036.9h0M694.4 1069.6h0M695.9 1085h0M606.3 1035.8h0M633.3 1056.5h0M563.9 1093.8h0M635.1 1055.1h0M664.9 1032.9h0M587.3 1065.8h0M593.2 1040.6h0M568.9 1013.2h0M609.5 1060.4h0M693.9 1071.6h0M617.9 1048.5h0M592.4 1055.2h0M695.4 1020.1h0M620.5 1076.2h0M667.4 1063.2h0M650.1 1101.4h0M687.3 1033h0M635.9 1107.2h0M634 1026.8h0M667.9 1013.7h0M580.3 1062.9h0M597.7 1079.6h0M662.3 1039.8h0M668 1072.4h0M659.4 1053.4h0M620.4 1018.6h0M626.5 1103h0M685.3 1013.6h0M569 1034.8h0M657.7 1051.5h0M577.1 1050.3h0M640.5 1082.1h0M616.3 1072.6h0M655.9 1069.3h0M565.5 1078.7h0M577.2 1013.4h0M626.3 1009.7h0M569.3 1046.9h0M625.6 1018.5h0M694.6 1092.8h0M628.2 1066.5h0M603.8 1105.9h0M576 1038.3h0M590.3 1094.1h0M631.3 1048.8h0M615.7 1096.3h0M595.5 1086.7h0M659.7 1052.6h0M611 1051.5h0M623.4 1039.4h0M647.7 1048.9h0M602.1 1084.9h0M623.7 1055.1h0M684.1 1053.2h0M612.4 1097.4h0M697.8 1086.2h0M616 1074.8h0M664.3 1037.5h0M661.9 1102.5h0M652.2 1074.5h0M620.8 1073h0M591.1 1084.7h0M635.6 1105.5h0M607.5 1078.8h0" fill="none" stroke="#3a3a44" stroke-width="2.1" stroke-linecap="round" opacity="0.55" filter="url(#mb)"/>
</g>
<g clip-path="url(#m14)"><rect x="710.9" y="1008" width="142.3" height="99.5" fill="#f3f3f7"/>
<rect x="710.9" y="1008" width="142.3" height="99.5" filter="url(#gr3)" opacity="0.3"/>
<g filter="url(#c2)"><rect x="702.9" y="1000" width="158.3" height="115.5" opacity="0.01"/>
<rect x="702.9" y="1000" width="31.9" height="33.1" opacity="0.75"/>
<rect x="734.6" y="1000" width="23.9" height="33.1" opacity="0.5"/>
<rect x="758.3" y="1000" width="23.9" height="33.1" opacity="0.75"/>
<rect x="782" y="1000" width="23.9" height="33.1" opacity="0.75"/>
<rect x="805.8" y="1000" width="23.9" height="33.1" opacity="0.75"/>
<rect x="829.5" y="1000" width="31.9" height="33.1" opacity="0.75"/>
<rect x="702.9" y="1032.9" width="31.9" height="25.1" opacity="0.75"/>
<rect x="734.6" y="1032.9" width="23.9" height="25.1" opacity="0.5"/>
<rect x="758.3" y="1032.9" width="23.9" height="25.1" opacity="0.75"/>
<rect x="782" y="1032.9" width="23.9" height="25.1" opacity="0.75"/>
<rect x="805.8" y="1032.9" width="23.9" height="25.1" opacity="0.5"/>
<rect x="829.5" y="1032.9" width="31.9" height="25.1" opacity="0.75"/>
<rect x="702.9" y="1057.8" width="31.9" height="25.1" opacity="0.5"/>
<rect x="734.6" y="1057.8" width="23.9" height="25.1" opacity="0.75"/>
<rect x="758.3" y="1057.8" width="23.9" height="25.1" opacity="0.5"/>
<rect x="782" y="1057.8" width="23.9" height="25.1" opacity="0.75"/>
<rect x="805.8" y="1057.8" width="23.9" height="25.1" opacity="0.75"/>
<rect x="829.5" y="1057.8" width="31.9" height="25.1" opacity="0.75"/>
<rect x="702.9" y="1082.6" width="31.9" height="33.1" opacity="0.75"/>
<rect x="734.6" y="1082.6" width="23.9" height="33.1" opacity="0.5"/>
<rect x="758.3" y="1082.6" width="23.9" height="33.1" opacity="0.75"/>
<rect x="782" y="1082.6" width="23.9" height="33.1" opacity="0.5"/>
<rect x="805.8" y="1082.6" width="23.9" height="33.1" opacity="0.75"/>
<rect x="829.5" y="1082.6" width="31.9" height="33.1" opacity="0.5"/>
</g>
<path d="M713.3 1049.4h0M820 1033.8h0M798.2 1030h0M767.6 1106.9h0M738.9 1098.8h0M719.4 1066h0M827.8 1091.3h0M766.6 1066.7h0M812.2 1083.8h0M817.1 1065.6h0M746.7 1078.2h0M790.8 1062.2h0M851.4 1021.6h0M822 1040.3h0M814.3 1102.6h0M750 1064.4h0M786.1 1057.3h0M734.7 1070.2h0M838 1074h0M752 1088.2h0M770.7 1022.4h0M797.1 1053.8h0M786.3 1106.6h0M791.9 1102.9h0M761.1 1083.5h0M721.6 1037.9h0M809.4 1076.7h0M828.8 1045.8h0M749.8 1043.7h0M787.4 1010.4h0M764.2 1073.4h0M732 1039h0M835.1 1100.9h0M746.4 1025.7h0M727.7 1016.5h0M823.9 1081.5h0M748.5 1056.7h0M809.9 1010.8h0M827.4 1093.5h0M741 1078h0M810.4 1041.5h0M835.9 1029.7h0M778.3 1039.2h0M773.8 1088.8h0M792 1068.6h0M851.4 1030.2h0M742.6 1069.7h0M732.3 1103.9h0M759.5 1051.8h0M772.3 1090.4h0M841.2 1075.4h0M735.3 1043.3h0M811.4 1029.5h0M836.5 1094.8h0M743.1 1044.2h0M743.5 1079.5h0M717.6 1077.2h0M719.8 1091.7h0M788.2 1066h0M724.4 1012.4h0M761.1 1106h0M796.3 1093.8h0M719.8 1018.1h0M713.9 1077.3h0M736 1035.1h0M805.8 1077.2h0M756.8 1054.5h0M752 1063.9h0M761.5 1043.8h0M746.3 1037.1h0M748 1009.6h0M755.1 1066.9h0M749.1 1019.2h0M831.3 1054.7h0M783.7 1039h0M837.1 1083h0M799.5 1073.6h0M809.4 1057.8h0M769.7 1046.8h0M782.6 1054.6h0M786.2 1061h0M823.1 1096.8h0M742.8 1010.2h0M753.7 1011.2h0M824.2 1069.7h0M751.5 1027h0M834.5 1091.2h0M808.2 1076.8h0M816.8 1053.2h0M767.5 1063h0M836.2 1106.6h0M841.4 1091.1h0M721.5 1032.6h0M849.1 1062.1h0M784.2 1038.8h0M833.6 1059.4h0M851.8 1015.5h0M852.2 1009.3h0M732 1046.8h0M801.9 1019h0M790.9 1101.5h0M772.9 1083.9h0M795.1 1065.9h0M735.5 1054.2h0M839 1075.1h0M741.7 1052.5h0M788.3 1041.5h0M793.1 1070.8h0M713.4 1029.9h0M804.3 1029.3h0" fill="none" stroke="#3a3a44" stroke-width="2.1" stroke-linecap="round" opacity="0.55" filter="url(#mb)"/>
</g>
<line x1="241.6" y1="1152.5" x2="241.6" y2="1293.6" stroke="#1a1a1a" stroke-width="1.1"/>
<text x="234.8" y="1297.5" font-size="13.9" text-anchor="end" stroke="#000">0</text>
<line x1="241.6" y1="1265.08" x2="247.2" y2="1265.08" stroke="#1a1a1a" stroke-width="1.1"/>
<text x="234.8" y="1269.48" font-size="13.9" text-anchor="end" stroke="#000">50</text>
<line x1="241.6" y1="1237.06" x2="247.2" y2="1237.06" stroke="#1a1a1a" stroke-width="1.1"/>
<text x="234.8" y="1241.46" font-size="13.9" text-anchor="end" stroke="#000">100</text>
<line x1="241.6" y1="1209.04" x2="247.2" y2="1209.04" stroke="#1a1a1a" stroke-width="1.1"/>
<text x="234.8" y="1213.44" font-size="13.9" text-anchor="end" stroke="#000">150</text>
<line x1="241.6" y1="1181.02" x2="247.2" y2="1181.02" stroke="#1a1a1a" stroke-width="1.1"/>
<text x="234.8" y="1185.42" font-size="13.9" text-anchor="end" stroke="#000">200</text>
<line x1="241.6" y1="1153" x2="247.2" y2="1153" stroke="#1a1a1a" stroke-width="1.1"/>
<text x="234.8" y="1157.4" font-size="13.9" text-anchor="end" stroke="#000">250</text>
<line x1="241.1" y1="1293.1" x2="791.5" y2="1293.1" stroke="#1a1a1a" stroke-width="1.1"/>
<rect x="270.3" y="1233.98" width="26.2" height="59.12" fill="#0000ff"/>
<line x1="283.4" y1="1230.62" x2="283.4" y2="1233.98" stroke="#0000ff" stroke-width="1.1"/>
<line x1="279.6" y1="1230.62" x2="287.2" y2="1230.62" stroke="#0000ff" stroke-width="1.1"/>
<rect x="296.5" y="1242.94" width="26.2" height="50.16" fill="#ff0000"/>
<line x1="309.6" y1="1240.14" x2="309.6" y2="1242.94" stroke="#ff0000" stroke-width="1.1"/>
<line x1="305.8" y1="1240.14" x2="313.4" y2="1240.14" stroke="#ff0000" stroke-width="1.1"/>
<rect x="380.4" y="1266.2" width="26.2" height="26.9" fill="#0000ff"/>
<line x1="393.5" y1="1261.72" x2="393.5" y2="1266.2" stroke="#0000ff" stroke-width="1.1"/>
<line x1="389.7" y1="1261.72" x2="397.3" y2="1261.72" stroke="#0000ff" stroke-width="1.1"/>
<rect x="406.6" y="1269.96" width="26.2" height="23.14" fill="#ff0000"/>
<line x1="419.7" y1="1265.47" x2="419.7" y2="1269.96" stroke="#ff0000" stroke-width="1.1"/>
<line x1="415.9" y1="1265.47" x2="423.5" y2="1265.47" stroke="#ff0000" stroke-width="1.1"/>
<rect x="491" y="1229.21" width="26.2" height="63.89" fill="#0000ff"/>
<line x1="504.1" y1="1225.85" x2="504.1" y2="1229.21" stroke="#0000ff" stroke-width="1.1"/>
<line x1="500.3" y1="1225.85" x2="507.9" y2="1225.85" stroke="#0000ff" stroke-width="1.1"/>
<rect x="517.2" y="1239.3" width="26.2" height="53.8" fill="#ff0000"/>
<line x1="530.3" y1="1236.5" x2="530.3" y2="1239.3" stroke="#ff0000" stroke-width="1.1"/>
<line x1="526.5" y1="1236.5" x2="534.1" y2="1236.5" stroke="#ff0000" stroke-width="1.1"/>
<rect x="600.6" y="1188.31" width="26.2" height="104.79" fill="#0000ff"/>
<line x1="613.7" y1="1182.7" x2="613.7" y2="1188.31" stroke="#0000ff" stroke-width="1.1"/>
<line x1="609.9" y1="1182.7" x2="617.5" y2="1182.7" stroke="#0000ff" stroke-width="1.1"/>
<rect x="626.8" y="1204.56" width="26.2" height="88.54" fill="#ff0000"/>
<line x1="639.9" y1="1198.95" x2="639.9" y2="1204.56" stroke="#ff0000" stroke-width="1.1"/>
<line x1="636.1" y1="1198.95" x2="643.7" y2="1198.95" stroke="#ff0000" stroke-width="1.1"/>
<rect x="711" y="1216.89" width="26.2" height="76.21" fill="#0000ff"/>
<line x1="724.1" y1="1212.96" x2="724.1" y2="1216.89" stroke="#0000ff" stroke-width="1.1"/>
<line x1="720.3" y1="1212.96" x2="727.9" y2="1212.96" stroke="#0000ff" stroke-width="1.1"/>
<rect x="737.2" y="1229.77" width="26.2" height="63.33" fill="#ff0000"/>
<line x1="750.3" y1="1226.41" x2="750.3" y2="1229.77" stroke="#ff0000" stroke-width="1.1"/>
<line x1="746.5" y1="1226.41" x2="754.1" y2="1226.41" stroke="#ff0000" stroke-width="1.1"/>
<rect x="257.1" y="1160" width="7.6" height="7.6" fill="#0000ff"/>
<text x="268.6" y="1168" font-size="11.6" stroke="#000">LoVo</text>
<rect x="257.1" y="1178.3" width="7.6" height="7.6" fill="#ff0000"/>
<text x="268.6" y="1186.2" font-size="11.6" stroke="#000">SW620</text>
<path d="M296.5 1227V1200.3H407.6 M407.6 1253V1134.1H736.8V1196" stroke="#000" stroke-width="1.4" fill="none"/>
<line x1="285.2" y1="1230.4" x2="305.7" y2="1230.4" stroke="#000" stroke-width="1.4"/>
<line x1="397.2" y1="1256.5" x2="417.5" y2="1256.5" stroke="#000" stroke-width="1.4"/>
<line x1="726" y1="1200.5" x2="747" y2="1200.5" stroke="#000" stroke-width="1.4"/>
<text x="355.6" y="1199.5" font-size="16.5" text-anchor="middle" stroke="#000" textLength="13.8" lengthAdjust="spacingAndGlyphs">**</text>
<text x="578" y="1132.5" font-size="16.5" text-anchor="middle" stroke="#000" textLength="20.55" lengthAdjust="spacingAndGlyphs">***</text>
<text x="296" y="1311.2" font-size="13.7" text-anchor="middle" stroke="#000">m-NC</text>
<text x="406" y="1311.2" font-size="13.7" text-anchor="middle" stroke="#000">miR-500a-5p</text>
<text x="515" y="1311.2" font-size="13.7" text-anchor="middle" stroke="#000">Vector</text>
<text x="626.7" y="1311.2" font-size="13.7" text-anchor="middle" stroke="#000">HDAC2</text>
<text x="737.2" y="1311.2" font-size="13.7" text-anchor="middle" stroke="#000">miR-500a-5p</text>
<text x="737.2" y="1327.3" font-size="13.7" text-anchor="middle" stroke="#000">/HDAC2</text>
<text x="184.3" y="1223.3" font-size="13.75" text-anchor="middle" stroke="#000" transform="rotate(-90 184.3 1223.3)">Number of invasive</text>
<text x="201.2" y="1223.3" font-size="13.75" text-anchor="middle" stroke="#000" transform="rotate(-90 201.2 1223.3)">cells/HPF</text>
</svg>
</body></html>
